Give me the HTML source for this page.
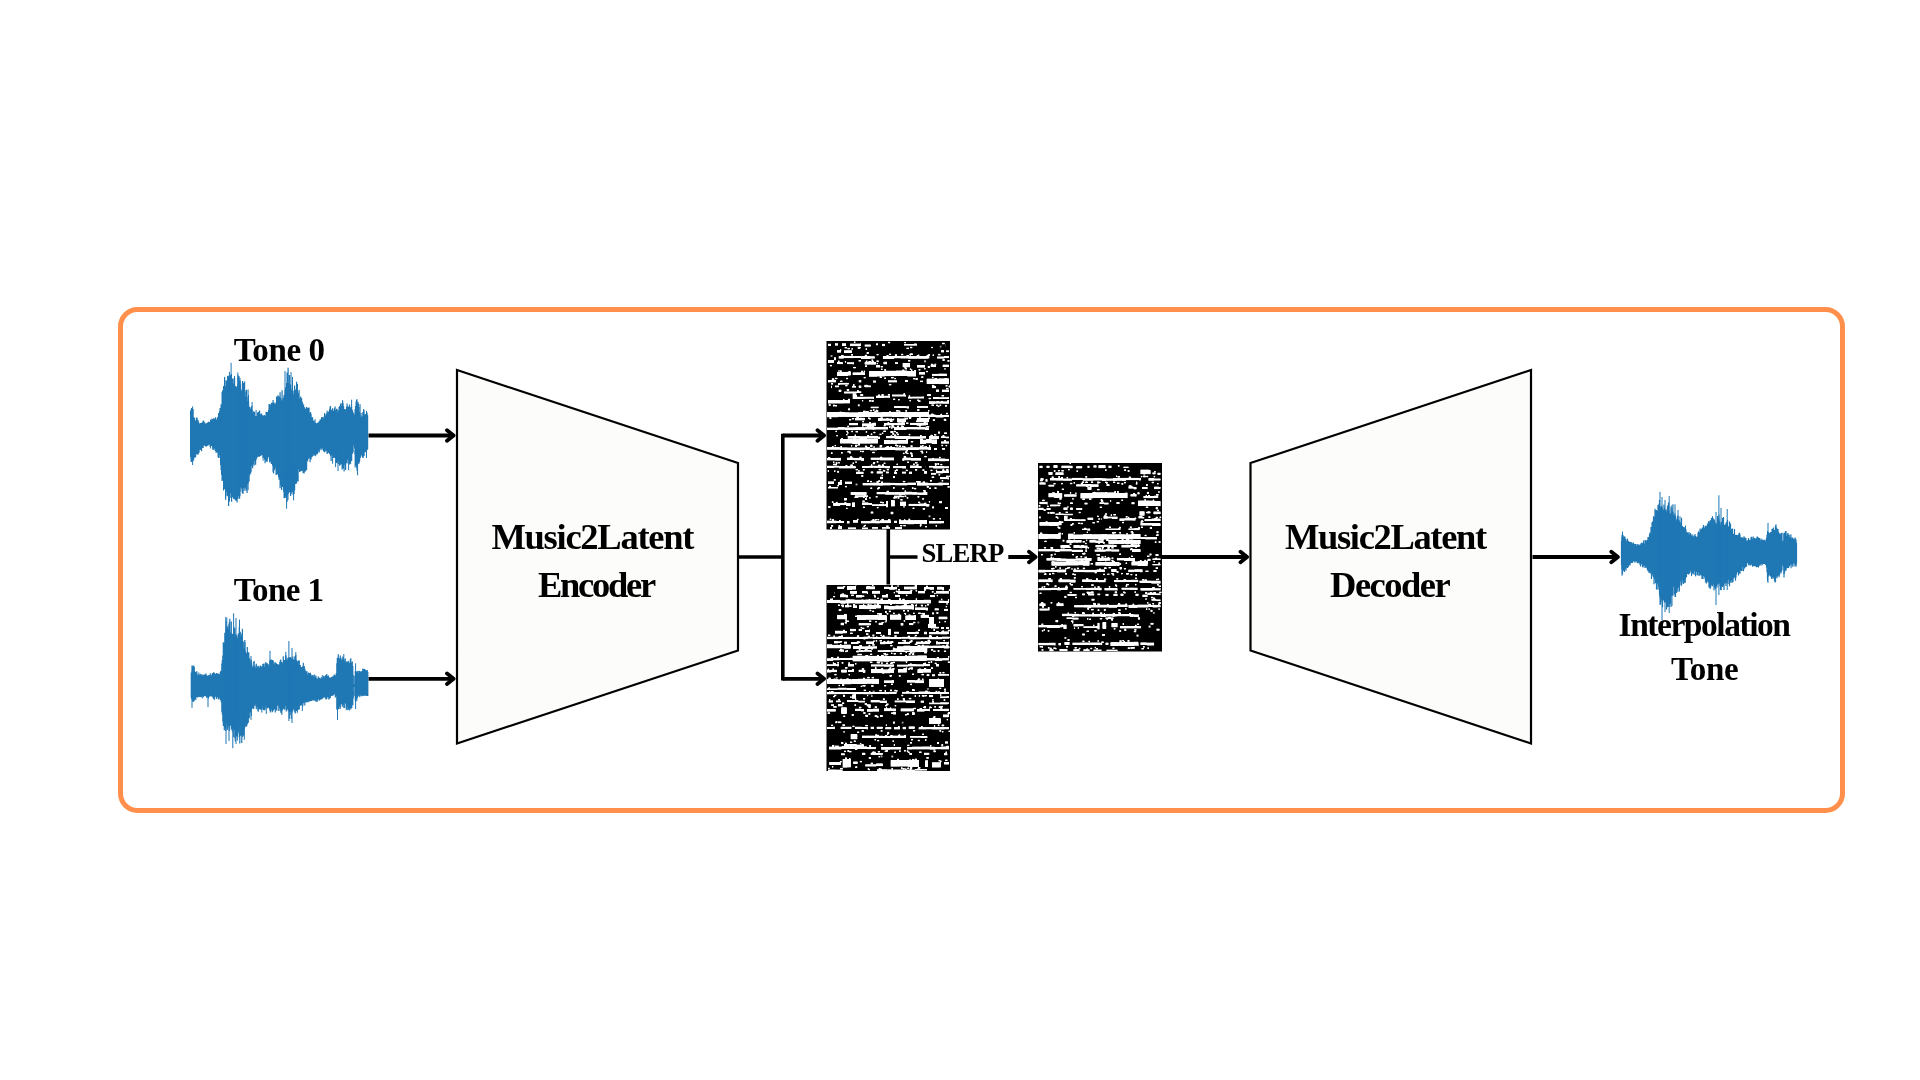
<!DOCTYPE html>
<html><head><meta charset="utf-8"><style>
html,body{margin:0;padding:0;background:#fff;width:1920px;height:1080px;overflow:hidden}
svg{position:absolute;left:0;top:0}
text{font-family:"Liberation Serif",serif;font-weight:bold;fill:#000}
</style></head><body>
<svg width="1920" height="1080" viewBox="0 0 1920 1080">
<rect x="120.5" y="309.5" width="1722" height="501" rx="17" ry="17" fill="none" stroke="#FF8F4B" stroke-width="5"/>
<polygon points="457,370 738,463 738,650.5 457,743.5" fill="#FCFCFA" stroke="#000" stroke-width="2.2" stroke-linejoin="miter"/>
<polygon points="1250.5,463 1531,370 1531,743.5 1250.5,650.5" fill="#FCFCFA" stroke="#000" stroke-width="2.2" stroke-linejoin="miter"/>
<defs><filter id="blur" filterUnits="userSpaceOnUse" x="800" y="320" width="400" height="480"><feGaussianBlur stdDeviation="0.75"/><feComponentTransfer><feFuncA type="linear" slope="1.45" intercept="-0.05"/></feComponentTransfer></filter></defs><rect x="826.5" y="341" width="123.5" height="188.5" fill="#000"/><g clip-path="url(#c1)"><g fill="#fff" filter="url(#blur)"><rect x="828.0" y="343.8" width="3.0" height="2.0"/><rect x="835.0" y="343.4" width="3.0" height="2.1"/><rect x="842.0" y="343.4" width="4.0" height="2.4"/><rect x="844.7" y="347.0" width="2.2" height="1.4"/><rect x="850.0" y="343.7" width="10.0" height="2.4"/><rect x="860.0" y="343.5" width="1.0" height="2.4"/><rect x="853.9" y="341.5" width="1.5" height="1.4"/><rect x="858.8" y="347.0" width="1.8" height="1.4"/><rect x="864.7" y="344.6" width="6.0" height="1.9"/><rect x="865.6" y="348.4" width="1.5" height="1.4"/><rect x="876.0" y="343.5" width="2.0" height="1.7"/><rect x="882.0" y="343.9" width="3.0" height="2.2"/><rect x="888.1" y="341.8" width="2.1" height="1.4"/><rect x="904.0" y="344.1" width="11.6" height="1.4"/><rect x="915.6" y="343.7" width="1.4" height="1.9"/><rect x="910.1" y="346.8" width="2.2" height="1.4"/><rect x="906.5" y="347.7" width="2.4" height="1.4"/><rect x="904.4" y="341.9" width="1.4" height="1.4"/><rect x="945.8" y="343.9" width="0.2" height="2.7"/><rect x="942.1" y="342.8" width="2.5" height="1.4"/><rect x="837.0" y="350.3" width="4.0" height="2.2"/><rect x="840.0" y="349.4" width="1.3" height="1.4"/><rect x="844.0" y="350.4" width="7.6" height="2.6"/><rect x="851.6" y="350.3" width="0.4" height="2.7"/><rect x="851.4" y="348.2" width="1.4" height="1.4"/><rect x="847.5" y="347.9" width="2.4" height="1.4"/><rect x="932.6" y="354.5" width="1.4" height="1.4"/><rect x="931.4" y="346.8" width="1.3" height="1.4"/><rect x="941.0" y="350.3" width="3.0" height="2.0"/><rect x="946.0" y="350.5" width="3.0" height="1.6"/><rect x="838.7" y="356.3" width="5.0" height="2.2"/><rect x="843.7" y="355.9" width="9.8" height="2.2"/><rect x="853.5" y="356.0" width="7.6" height="2.0"/><rect x="861.1" y="356.3" width="9.1" height="2.6"/><rect x="870.1" y="356.4" width="4.6" height="2.1"/><rect x="882.9" y="356.2" width="11.2" height="2.6"/><rect x="894.1" y="356.1" width="6.4" height="2.1"/><rect x="900.5" y="355.9" width="7.5" height="2.5"/><rect x="908.1" y="356.3" width="9.4" height="2.3"/><rect x="917.5" y="356.3" width="10.6" height="2.3"/><rect x="928.1" y="356.2" width="1.2" height="2.2"/><rect x="927.4" y="354.7" width="1.9" height="1.4"/><rect x="841.3" y="355.0" width="2.2" height="1.4"/><rect x="909.7" y="353.5" width="2.2" height="1.4"/><rect x="865.8" y="360.6" width="1.6" height="1.4"/><rect x="906.6" y="355.0" width="2.3" height="1.4"/><rect x="901.3" y="353.8" width="1.9" height="1.4"/><rect x="909.6" y="354.2" width="1.3" height="1.4"/><rect x="889.0" y="353.7" width="2.1" height="1.4"/><rect x="911.5" y="353.5" width="1.3" height="1.4"/><rect x="918.0" y="354.6" width="1.3" height="1.4"/><rect x="894.8" y="354.4" width="2.3" height="1.4"/><rect x="851.2" y="354.1" width="1.7" height="1.4"/><rect x="886.6" y="355.0" width="1.9" height="1.4"/><rect x="916.8" y="355.0" width="1.2" height="1.4"/><rect x="844.8" y="361.2" width="1.3" height="1.4"/><rect x="928.5" y="354.2" width="1.4" height="1.4"/><rect x="876.6" y="353.9" width="1.9" height="1.4"/><rect x="864.8" y="354.8" width="2.3" height="1.4"/><rect x="908.1" y="360.1" width="2.2" height="1.4"/><rect x="926.6" y="355.1" width="1.4" height="1.4"/><rect x="871.5" y="359.4" width="1.3" height="1.4"/><rect x="858.6" y="360.1" width="2.2" height="1.4"/><rect x="834.0" y="357.4" width="2.0" height="2.8"/><rect x="937.0" y="356.6" width="7.3" height="1.9"/><rect x="944.3" y="356.0" width="4.7" height="2.1"/><rect x="938.0" y="353.9" width="2.4" height="1.4"/><rect x="942.4" y="359.3" width="2.4" height="1.4"/><rect x="947.4" y="360.2" width="2.1" height="1.4"/><rect x="828.0" y="360.1" width="6.0" height="2.6"/><rect x="829.9" y="364.9" width="1.9" height="1.4"/><rect x="837.0" y="362.1" width="5.7" height="2.0"/><rect x="837.9" y="360.6" width="1.6" height="1.4"/><rect x="847.0" y="362.4" width="5.5" height="1.7"/><rect x="852.5" y="362.3" width="1.5" height="2.0"/><rect x="853.3" y="366.9" width="2.4" height="1.4"/><rect x="864.7" y="362.2" width="11.2" height="2.3"/><rect x="883.5" y="361.8" width="3.5" height="2.4"/><rect x="880.7" y="366.0" width="2.1" height="1.4"/><rect x="868.3" y="361.3" width="2.0" height="1.4"/><rect x="876.5" y="360.5" width="2.2" height="1.4"/><rect x="865.1" y="365.4" width="2.0" height="1.4"/><rect x="869.7" y="361.0" width="1.7" height="1.4"/><rect x="876.0" y="365.1" width="4.0" height="2.3"/><rect x="876.7" y="362.8" width="1.2" height="1.4"/><rect x="895.0" y="362.4" width="3.0" height="1.6"/><rect x="902.7" y="363.1" width="7.3" height="4.1"/><rect x="905.3" y="368.1" width="1.5" height="1.4"/><rect x="917.0" y="365.2" width="8.0" height="2.3"/><rect x="924.3" y="368.0" width="1.2" height="1.4"/><rect x="918.6" y="369.1" width="1.8" height="1.4"/><rect x="930.7" y="364.6" width="5.3" height="2.2"/><rect x="931.0" y="363.8" width="2.1" height="1.4"/><rect x="942.7" y="364.7" width="6.3" height="2.3"/><rect x="944.4" y="368.2" width="1.2" height="1.4"/><rect x="837.0" y="371.9" width="11.3" height="3.9"/><rect x="848.3" y="371.3" width="2.4" height="4.1"/><rect x="838.4" y="370.2" width="1.2" height="1.4"/><rect x="840.1" y="370.4" width="1.6" height="1.4"/><rect x="846.3" y="377.8" width="1.6" height="1.4"/><rect x="852.7" y="372.5" width="7.4" height="2.5"/><rect x="860.1" y="372.4" width="4.9" height="2.6"/><rect x="863.7" y="370.7" width="1.4" height="1.4"/><rect x="863.7" y="376.9" width="1.9" height="1.4"/><rect x="861.1" y="370.8" width="1.9" height="1.4"/><rect x="869.0" y="371.0" width="8.3" height="5.6"/><rect x="877.3" y="371.2" width="7.5" height="5.2"/><rect x="884.8" y="370.8" width="11.2" height="5.3"/><rect x="896.0" y="370.6" width="11.3" height="5.4"/><rect x="907.3" y="371.1" width="8.7" height="5.3"/><rect x="914.2" y="370.1" width="1.9" height="1.4"/><rect x="884.2" y="369.3" width="1.9" height="1.4"/><rect x="884.3" y="377.5" width="1.7" height="1.4"/><rect x="910.9" y="369.5" width="1.5" height="1.4"/><rect x="880.9" y="368.6" width="1.6" height="1.4"/><rect x="909.8" y="368.5" width="1.4" height="1.4"/><rect x="913.3" y="378.0" width="1.9" height="1.4"/><rect x="902.3" y="369.6" width="2.0" height="1.4"/><rect x="879.7" y="376.5" width="2.1" height="1.4"/><rect x="891.3" y="377.0" width="2.3" height="1.4"/><rect x="915.4" y="378.3" width="2.5" height="1.4"/><rect x="919.0" y="372.2" width="5.4" height="2.3"/><rect x="924.4" y="371.8" width="0.6" height="2.8"/><rect x="921.2" y="376.4" width="2.2" height="1.4"/><rect x="926.0" y="370.9" width="2.0" height="1.3"/><rect x="932.0" y="373.9" width="6.6" height="1.8"/><rect x="938.6" y="373.7" width="8.1" height="2.3"/><rect x="932.2" y="376.8" width="1.3" height="1.4"/><rect x="944.7" y="378.2" width="2.4" height="1.4"/><rect x="935.2" y="378.6" width="1.5" height="1.4"/><rect x="828.0" y="380.1" width="8.0" height="2.2"/><rect x="831.8" y="378.4" width="2.5" height="1.4"/><rect x="835.2" y="377.8" width="2.2" height="1.4"/><rect x="838.7" y="382.9" width="10.0" height="1.6"/><rect x="840.3" y="380.6" width="2.1" height="1.4"/><rect x="845.4" y="384.9" width="2.0" height="1.4"/><rect x="858.7" y="380.3" width="2.6" height="2.0"/><rect x="873.0" y="380.6" width="3.0" height="1.9"/><rect x="888.0" y="380.4" width="9.0" height="1.9"/><rect x="894.4" y="377.9" width="1.3" height="1.4"/><rect x="888.9" y="383.9" width="2.4" height="1.4"/><rect x="905.0" y="380.2" width="3.0" height="1.6"/><rect x="920.0" y="380.7" width="3.0" height="1.4"/><rect x="926.7" y="378.7" width="11.9" height="5.1"/><rect x="938.6" y="378.5" width="10.4" height="5.6"/><rect x="934.5" y="378.4" width="2.4" height="1.4"/><rect x="932.0" y="384.9" width="2.2" height="1.4"/><rect x="948.8" y="386.0" width="2.4" height="1.4"/><rect x="948.7" y="385.6" width="1.4" height="1.4"/><rect x="945.6" y="385.1" width="1.9" height="1.4"/><rect x="831.3" y="385.7" width="0.7" height="2.4"/><rect x="831.1" y="383.1" width="2.0" height="1.4"/><rect x="835.0" y="385.6" width="4.0" height="1.6"/><rect x="838.0" y="383.4" width="1.8" height="1.4"/><rect x="852.0" y="385.9" width="4.0" height="1.6"/><rect x="853.0" y="384.3" width="1.6" height="1.4"/><rect x="858.7" y="385.6" width="2.6" height="2.1"/><rect x="864.7" y="385.5" width="6.0" height="1.7"/><rect x="866.0" y="384.8" width="1.5" height="1.4"/><rect x="932.0" y="386.2" width="4.0" height="1.9"/><rect x="932.7" y="385.1" width="1.5" height="1.4"/><rect x="838.7" y="389.7" width="2.6" height="2.2"/><rect x="928.3" y="394.7" width="2.1" height="1.4"/><rect x="936.0" y="389.6" width="3.0" height="2.1"/><rect x="942.0" y="389.7" width="7.0" height="2.1"/><rect x="946.0" y="387.9" width="2.5" height="1.4"/><rect x="844.0" y="391.6" width="12.8" height="1.8"/><rect x="856.8" y="391.4" width="4.5" height="1.5"/><rect x="846.7" y="389.1" width="2.1" height="1.4"/><rect x="857.0" y="390.2" width="1.7" height="1.4"/><rect x="847.0" y="389.1" width="2.2" height="1.4"/><rect x="860.2" y="394.3" width="2.1" height="1.4"/><rect x="852.7" y="393.6" width="3.3" height="5.3"/><rect x="856.0" y="396.8" width="8.9" height="2.2"/><rect x="864.9" y="396.8" width="8.3" height="1.8"/><rect x="873.2" y="396.7" width="0.8" height="2.3"/><rect x="871.7" y="400.3" width="2.1" height="1.4"/><rect x="861.5" y="394.3" width="1.7" height="1.4"/><rect x="869.1" y="400.2" width="2.3" height="1.4"/><rect x="861.9" y="400.0" width="1.3" height="1.4"/><rect x="876.0" y="395.7" width="8.1" height="2.3"/><rect x="884.1" y="395.8" width="5.9" height="1.8"/><rect x="878.2" y="394.5" width="1.7" height="1.4"/><rect x="887.9" y="394.1" width="2.0" height="1.4"/><rect x="881.5" y="394.2" width="2.2" height="1.4"/><rect x="892.0" y="394.6" width="12.2" height="1.8"/><rect x="904.2" y="394.8" width="1.8" height="1.7"/><rect x="898.1" y="399.0" width="1.5" height="1.4"/><rect x="903.4" y="393.3" width="1.7" height="1.4"/><rect x="893.1" y="398.6" width="2.1" height="1.4"/><rect x="908.0" y="396.8" width="4.3" height="1.7"/><rect x="912.3" y="396.7" width="8.8" height="1.7"/><rect x="921.1" y="396.6" width="2.9" height="1.8"/><rect x="917.3" y="399.5" width="1.4" height="1.4"/><rect x="908.7" y="395.4" width="1.5" height="1.4"/><rect x="918.2" y="400.4" width="2.3" height="1.4"/><rect x="909.5" y="400.0" width="1.3" height="1.4"/><rect x="927.0" y="394.4" width="4.0" height="1.6"/><rect x="928.6" y="397.8" width="2.2" height="1.4"/><rect x="933.0" y="397.2" width="6.1" height="1.6"/><rect x="939.1" y="397.4" width="8.0" height="1.6"/><rect x="947.1" y="397.3" width="1.9" height="1.6"/><rect x="947.1" y="400.3" width="1.9" height="1.4"/><rect x="941.6" y="395.0" width="2.5" height="1.4"/><rect x="936.7" y="401.1" width="1.9" height="1.4"/><rect x="941.2" y="400.9" width="1.6" height="1.4"/><rect x="828.0" y="400.0" width="9.8" height="3.4"/><rect x="837.8" y="400.3" width="5.9" height="3.1"/><rect x="843.7" y="400.2" width="6.3" height="3.1"/><rect x="833.0" y="404.7" width="1.8" height="1.4"/><rect x="828.7" y="404.3" width="2.0" height="1.4"/><rect x="832.9" y="405.0" width="1.7" height="1.4"/><rect x="835.0" y="405.0" width="2.0" height="1.4"/><rect x="843.1" y="399.0" width="1.3" height="1.4"/><rect x="929.0" y="401.4" width="6.3" height="2.3"/><rect x="935.3" y="401.5" width="6.8" height="2.0"/><rect x="942.1" y="401.5" width="6.9" height="2.1"/><rect x="936.1" y="404.7" width="2.1" height="1.4"/><rect x="937.7" y="405.7" width="1.7" height="1.4"/><rect x="931.5" y="404.5" width="2.3" height="1.4"/><rect x="945.0" y="405.2" width="1.9" height="1.4"/><rect x="939.6" y="404.6" width="1.6" height="1.4"/><rect x="870.7" y="406.7" width="7.7" height="1.5"/><rect x="878.4" y="406.6" width="0.3" height="1.3"/><rect x="875.7" y="409.7" width="1.6" height="1.4"/><rect x="872.9" y="409.3" width="1.7" height="1.4"/><rect x="894.0" y="406.3" width="12.5" height="1.6"/><rect x="906.5" y="406.4" width="2.5" height="2.0"/><rect x="905.3" y="410.2" width="1.8" height="1.4"/><rect x="896.2" y="410.1" width="2.5" height="1.4"/><rect x="898.8" y="410.6" width="1.5" height="1.4"/><rect x="917.0" y="406.3" width="11.0" height="1.4"/><rect x="928.0" y="410.1" width="1.4" height="1.4"/><rect x="917.1" y="409.3" width="2.4" height="1.4"/><rect x="827.0" y="412.1" width="11.2" height="5.1"/><rect x="838.2" y="412.1" width="6.7" height="4.6"/><rect x="844.9" y="412.4" width="4.4" height="4.3"/><rect x="849.3" y="412.5" width="8.9" height="4.4"/><rect x="858.3" y="412.1" width="5.9" height="5.0"/><rect x="864.1" y="412.2" width="10.8" height="4.8"/><rect x="874.9" y="412.4" width="7.1" height="4.6"/><rect x="882.0" y="412.2" width="9.9" height="4.4"/><rect x="891.8" y="411.9" width="7.2" height="4.9"/><rect x="899.0" y="412.1" width="5.1" height="4.7"/><rect x="904.1" y="412.3" width="6.1" height="5.0"/><rect x="910.2" y="412.0" width="4.3" height="4.8"/><rect x="914.5" y="411.9" width="4.7" height="5.1"/><rect x="919.2" y="412.0" width="4.2" height="5.0"/><rect x="923.4" y="411.9" width="5.6" height="4.9"/><rect x="869.8" y="409.9" width="2.3" height="1.4"/><rect x="863.2" y="410.7" width="2.4" height="1.4"/><rect x="849.1" y="419.0" width="2.1" height="1.4"/><rect x="897.0" y="418.6" width="1.9" height="1.4"/><rect x="886.4" y="418.4" width="2.1" height="1.4"/><rect x="876.5" y="410.4" width="1.8" height="1.4"/><rect x="909.0" y="417.4" width="2.2" height="1.4"/><rect x="856.1" y="417.4" width="1.4" height="1.4"/><rect x="860.0" y="417.9" width="1.5" height="1.4"/><rect x="905.5" y="418.0" width="2.3" height="1.4"/><rect x="851.9" y="418.0" width="2.3" height="1.4"/><rect x="892.9" y="418.6" width="1.3" height="1.4"/><rect x="903.6" y="418.7" width="2.3" height="1.4"/><rect x="839.5" y="411.7" width="2.2" height="1.4"/><rect x="925.8" y="418.1" width="2.3" height="1.4"/><rect x="829.4" y="417.4" width="2.0" height="1.4"/><rect x="880.8" y="417.7" width="1.8" height="1.4"/><rect x="927.9" y="417.9" width="1.7" height="1.4"/><rect x="889.0" y="411.4" width="2.1" height="1.4"/><rect x="869.2" y="418.1" width="1.5" height="1.4"/><rect x="874.5" y="411.0" width="1.9" height="1.4"/><rect x="891.9" y="419.0" width="1.9" height="1.4"/><rect x="866.0" y="411.4" width="1.3" height="1.4"/><rect x="919.7" y="417.8" width="1.4" height="1.4"/><rect x="866.3" y="411.0" width="2.3" height="1.4"/><rect x="929.0" y="414.6" width="6.6" height="2.4"/><rect x="935.6" y="415.0" width="7.9" height="2.4"/><rect x="943.5" y="414.9" width="5.5" height="1.9"/><rect x="940.5" y="413.8" width="1.6" height="1.4"/><rect x="932.8" y="419.4" width="2.2" height="1.4"/><rect x="931.3" y="413.6" width="2.1" height="1.4"/><rect x="946.2" y="412.8" width="1.5" height="1.4"/><rect x="944.6" y="419.4" width="1.7" height="1.4"/><rect x="855.0" y="417.9" width="9.7" height="2.4"/><rect x="857.1" y="416.6" width="1.7" height="1.4"/><rect x="868.1" y="417.4" width="1.5" height="1.4"/><rect x="869.1" y="422.0" width="1.7" height="1.4"/><rect x="878.0" y="418.3" width="4.0" height="2.5"/><rect x="882.0" y="418.6" width="9.5" height="2.0"/><rect x="891.5" y="418.1" width="0.5" height="2.3"/><rect x="881.3" y="415.8" width="1.6" height="1.4"/><rect x="880.3" y="416.0" width="2.3" height="1.4"/><rect x="887.5" y="422.3" width="1.8" height="1.4"/><rect x="897.0" y="418.6" width="9.0" height="3.5"/><rect x="916.9" y="418.0" width="5.7" height="3.7"/><rect x="922.6" y="418.1" width="6.4" height="3.9"/><rect x="928.3" y="417.4" width="1.4" height="1.4"/><rect x="906.2" y="422.5" width="2.2" height="1.4"/><rect x="923.7" y="422.4" width="1.6" height="1.4"/><rect x="919.0" y="416.2" width="1.8" height="1.4"/><rect x="917.4" y="424.0" width="1.4" height="1.4"/><rect x="919.8" y="423.8" width="2.4" height="1.4"/><rect x="910.4" y="423.2" width="1.7" height="1.4"/><rect x="909.6" y="416.1" width="2.0" height="1.4"/><rect x="849.0" y="423.2" width="9.0" height="2.0"/><rect x="852.6" y="427.8" width="2.2" height="1.4"/><rect x="854.6" y="428.1" width="2.5" height="1.4"/><rect x="862.0" y="423.5" width="10.4" height="2.6"/><rect x="872.4" y="422.8" width="3.6" height="2.8"/><rect x="865.3" y="426.8" width="2.0" height="1.4"/><rect x="862.4" y="420.9" width="1.6" height="1.4"/><rect x="872.4" y="427.9" width="1.8" height="1.4"/><rect x="884.0" y="423.1" width="9.6" height="2.2"/><rect x="893.6" y="423.1" width="4.1" height="2.0"/><rect x="897.7" y="422.5" width="7.3" height="2.7"/><rect x="889.0" y="426.3" width="1.6" height="1.4"/><rect x="891.1" y="427.3" width="1.4" height="1.4"/><rect x="892.3" y="426.2" width="2.1" height="1.4"/><rect x="902.0" y="421.0" width="1.5" height="1.4"/><rect x="890.0" y="420.5" width="2.5" height="1.4"/><rect x="910.0" y="422.9" width="6.5" height="2.0"/><rect x="916.5" y="422.8" width="9.4" height="2.6"/><rect x="925.9" y="422.5" width="2.1" height="2.6"/><rect x="915.1" y="427.3" width="1.9" height="1.4"/><rect x="913.9" y="427.7" width="1.7" height="1.4"/><rect x="923.9" y="421.1" width="2.1" height="1.4"/><rect x="916.1" y="420.5" width="1.8" height="1.4"/><rect x="827.0" y="427.7" width="10.7" height="2.3"/><rect x="837.7" y="427.3" width="7.1" height="2.3"/><rect x="844.8" y="427.5" width="10.3" height="2.6"/><rect x="855.1" y="427.3" width="9.8" height="2.8"/><rect x="865.0" y="426.9" width="11.1" height="2.6"/><rect x="876.1" y="427.0" width="11.8" height="2.4"/><rect x="894.1" y="427.3" width="12.4" height="2.6"/><rect x="906.5" y="427.1" width="10.0" height="2.2"/><rect x="916.5" y="427.3" width="8.6" height="2.1"/><rect x="925.1" y="427.7" width="3.9" height="2.1"/><rect x="867.2" y="426.0" width="1.8" height="1.4"/><rect x="883.4" y="430.6" width="2.4" height="1.4"/><rect x="881.9" y="432.5" width="1.4" height="1.4"/><rect x="901.2" y="425.5" width="1.5" height="1.4"/><rect x="865.7" y="431.2" width="1.5" height="1.4"/><rect x="869.4" y="425.6" width="2.1" height="1.4"/><rect x="847.2" y="432.2" width="1.3" height="1.4"/><rect x="891.4" y="425.4" width="2.5" height="1.4"/><rect x="846.4" y="430.8" width="1.4" height="1.4"/><rect x="893.7" y="430.8" width="2.0" height="1.4"/><rect x="895.9" y="432.1" width="1.8" height="1.4"/><rect x="925.6" y="426.5" width="1.3" height="1.4"/><rect x="890.3" y="431.3" width="2.4" height="1.4"/><rect x="862.1" y="426.4" width="1.4" height="1.4"/><rect x="883.7" y="425.0" width="1.8" height="1.4"/><rect x="851.4" y="430.8" width="1.5" height="1.4"/><rect x="847.4" y="425.7" width="1.4" height="1.4"/><rect x="892.1" y="431.4" width="1.2" height="1.4"/><rect x="926.9" y="426.0" width="2.3" height="1.4"/><rect x="873.4" y="431.8" width="2.0" height="1.4"/><rect x="901.7" y="426.2" width="2.2" height="1.4"/><rect x="871.9" y="425.6" width="2.2" height="1.4"/><rect x="896.9" y="425.7" width="2.0" height="1.4"/><rect x="835.5" y="430.7" width="1.5" height="1.4"/><rect x="855.6" y="431.0" width="2.4" height="1.4"/><rect x="938.0" y="431.6" width="2.0" height="1.9"/><rect x="944.0" y="432.5" width="3.0" height="1.4"/><rect x="847.7" y="436.2" width="12.1" height="2.4"/><rect x="859.7" y="436.4" width="7.6" height="2.6"/><rect x="867.3" y="435.9" width="6.1" height="2.6"/><rect x="873.4" y="435.9" width="4.4" height="2.7"/><rect x="877.8" y="436.7" width="2.2" height="2.1"/><rect x="867.0" y="435.0" width="1.8" height="1.4"/><rect x="862.5" y="439.9" width="2.0" height="1.4"/><rect x="870.7" y="433.5" width="1.6" height="1.4"/><rect x="846.6" y="439.9" width="1.2" height="1.4"/><rect x="846.2" y="434.0" width="1.3" height="1.4"/><rect x="864.1" y="440.0" width="1.8" height="1.4"/><rect x="854.6" y="434.6" width="1.4" height="1.4"/><rect x="860.4" y="439.5" width="1.3" height="1.4"/><rect x="861.4" y="440.1" width="1.5" height="1.4"/><rect x="879.5" y="433.7" width="2.0" height="1.4"/><rect x="836.4" y="435.0" width="1.3" height="1.4"/><rect x="886.0" y="436.2" width="8.8" height="2.0"/><rect x="894.8" y="435.9" width="4.3" height="2.8"/><rect x="899.1" y="436.2" width="11.0" height="2.7"/><rect x="910.1" y="436.5" width="10.4" height="2.2"/><rect x="920.5" y="436.3" width="5.5" height="2.1"/><rect x="920.1" y="435.2" width="1.6" height="1.4"/><rect x="897.2" y="433.7" width="1.8" height="1.4"/><rect x="922.8" y="441.4" width="2.4" height="1.4"/><rect x="908.7" y="433.9" width="1.6" height="1.4"/><rect x="890.6" y="435.4" width="1.8" height="1.4"/><rect x="910.8" y="441.0" width="2.4" height="1.4"/><rect x="894.2" y="434.5" width="2.0" height="1.4"/><rect x="904.5" y="441.2" width="1.6" height="1.4"/><rect x="886.3" y="440.8" width="2.1" height="1.4"/><rect x="891.0" y="439.9" width="2.0" height="1.4"/><rect x="929.0" y="436.3" width="10.0" height="2.5"/><rect x="930.5" y="434.8" width="2.2" height="1.4"/><rect x="934.2" y="434.1" width="2.1" height="1.4"/><rect x="840.0" y="439.0" width="12.1" height="4.4"/><rect x="852.1" y="439.2" width="7.4" height="4.5"/><rect x="859.5" y="439.1" width="11.2" height="4.4"/><rect x="870.7" y="439.0" width="7.3" height="4.4"/><rect x="863.4" y="438.6" width="1.8" height="1.4"/><rect x="870.4" y="444.8" width="1.7" height="1.4"/><rect x="841.2" y="438.1" width="1.7" height="1.4"/><rect x="864.9" y="445.7" width="2.3" height="1.4"/><rect x="853.0" y="438.2" width="2.3" height="1.4"/><rect x="870.2" y="445.3" width="2.3" height="1.4"/><rect x="859.4" y="438.7" width="2.1" height="1.4"/><rect x="851.0" y="445.1" width="1.2" height="1.4"/><rect x="855.1" y="445.3" width="1.9" height="1.4"/><rect x="884.0" y="440.2" width="6.3" height="3.8"/><rect x="890.3" y="440.4" width="7.4" height="3.3"/><rect x="897.7" y="440.0" width="10.3" height="3.6"/><rect x="886.5" y="446.0" width="2.5" height="1.4"/><rect x="903.8" y="446.1" width="1.6" height="1.4"/><rect x="895.2" y="444.6" width="1.8" height="1.4"/><rect x="906.3" y="438.7" width="1.9" height="1.4"/><rect x="899.2" y="445.5" width="1.8" height="1.4"/><rect x="896.3" y="445.1" width="2.1" height="1.4"/><rect x="920.0" y="439.8" width="6.0" height="3.9"/><rect x="926.0" y="439.2" width="5.8" height="4.0"/><rect x="931.8" y="439.5" width="5.2" height="4.4"/><rect x="920.3" y="438.6" width="2.4" height="1.4"/><rect x="925.5" y="445.9" width="1.3" height="1.4"/><rect x="936.5" y="437.7" width="2.0" height="1.4"/><rect x="920.0" y="445.6" width="1.7" height="1.4"/><rect x="941.0" y="436.4" width="4.7" height="1.5"/><rect x="945.7" y="436.7" width="3.3" height="1.5"/><rect x="944.2" y="440.1" width="1.9" height="1.4"/><rect x="942.6" y="435.0" width="1.7" height="1.4"/><rect x="941.0" y="441.5" width="8.0" height="2.0"/><rect x="945.6" y="444.9" width="1.5" height="1.4"/><rect x="941.5" y="444.8" width="1.6" height="1.4"/><rect x="827.0" y="447.3" width="12.9" height="2.3"/><rect x="839.9" y="447.5" width="7.9" height="2.4"/><rect x="847.8" y="447.6" width="12.2" height="2.6"/><rect x="860.0" y="447.6" width="5.6" height="2.1"/><rect x="865.5" y="447.0" width="4.2" height="2.7"/><rect x="869.8" y="447.8" width="7.3" height="2.5"/><rect x="877.1" y="447.7" width="7.6" height="2.3"/><rect x="884.7" y="447.2" width="10.5" height="2.6"/><rect x="895.2" y="447.5" width="12.2" height="2.8"/><rect x="907.4" y="447.4" width="11.2" height="2.6"/><rect x="918.6" y="447.3" width="9.7" height="2.2"/><rect x="928.3" y="447.2" width="2.7" height="2.7"/><rect x="840.4" y="446.1" width="1.5" height="1.4"/><rect x="831.9" y="446.1" width="1.7" height="1.4"/><rect x="861.6" y="450.8" width="2.3" height="1.4"/><rect x="841.0" y="452.1" width="1.7" height="1.4"/><rect x="879.7" y="446.0" width="1.9" height="1.4"/><rect x="860.0" y="450.7" width="1.2" height="1.4"/><rect x="879.7" y="445.1" width="2.5" height="1.4"/><rect x="910.5" y="445.4" width="2.1" height="1.4"/><rect x="902.9" y="452.7" width="1.6" height="1.4"/><rect x="873.4" y="446.3" width="1.3" height="1.4"/><rect x="920.5" y="450.7" width="2.4" height="1.4"/><rect x="922.1" y="445.2" width="1.6" height="1.4"/><rect x="855.2" y="444.7" width="2.4" height="1.4"/><rect x="906.5" y="452.7" width="1.9" height="1.4"/><rect x="928.9" y="445.3" width="1.3" height="1.4"/><rect x="910.0" y="452.5" width="2.0" height="1.4"/><rect x="830.9" y="452.4" width="1.7" height="1.4"/><rect x="847.4" y="451.1" width="2.3" height="1.4"/><rect x="834.6" y="444.9" width="1.2" height="1.4"/><rect x="902.2" y="445.7" width="1.4" height="1.4"/><rect x="920.6" y="446.4" width="1.8" height="1.4"/><rect x="890.3" y="446.3" width="1.6" height="1.4"/><rect x="924.2" y="446.4" width="1.2" height="1.4"/><rect x="921.5" y="452.1" width="1.8" height="1.4"/><rect x="926.0" y="451.5" width="1.2" height="1.4"/><rect x="872.3" y="451.8" width="2.4" height="1.4"/><rect x="934.0" y="448.1" width="3.0" height="1.8"/><rect x="942.0" y="448.2" width="3.0" height="1.4"/><rect x="827.0" y="458.2" width="8.1" height="2.1"/><rect x="835.1" y="457.9" width="5.9" height="2.6"/><rect x="835.7" y="462.3" width="1.8" height="1.4"/><rect x="838.3" y="462.1" width="1.4" height="1.4"/><rect x="833.0" y="461.5" width="1.4" height="1.4"/><rect x="847.0" y="457.7" width="6.7" height="2.3"/><rect x="853.7" y="457.9" width="7.4" height="2.3"/><rect x="861.1" y="458.0" width="2.9" height="2.7"/><rect x="855.3" y="461.4" width="1.4" height="1.4"/><rect x="859.5" y="456.7" width="2.0" height="1.4"/><rect x="852.5" y="462.5" width="1.6" height="1.4"/><rect x="849.9" y="456.4" width="2.4" height="1.4"/><rect x="870.7" y="457.7" width="9.0" height="2.0"/><rect x="879.7" y="457.6" width="7.0" height="2.7"/><rect x="886.7" y="457.6" width="7.3" height="2.7"/><rect x="872.8" y="462.8" width="2.2" height="1.4"/><rect x="873.0" y="462.2" width="2.2" height="1.4"/><rect x="880.3" y="456.7" width="1.9" height="1.4"/><rect x="883.7" y="462.6" width="1.7" height="1.4"/><rect x="876.7" y="461.2" width="1.7" height="1.4"/><rect x="902.7" y="457.7" width="8.2" height="2.5"/><rect x="910.9" y="458.1" width="10.1" height="2.4"/><rect x="907.3" y="461.5" width="1.5" height="1.4"/><rect x="915.2" y="462.1" width="2.3" height="1.4"/><rect x="904.4" y="456.5" width="1.8" height="1.4"/><rect x="903.8" y="455.9" width="1.7" height="1.4"/><rect x="924.4" y="455.9" width="2.2" height="1.4"/><rect x="911.0" y="455.3" width="2.0" height="1.4"/><rect x="928.0" y="458.5" width="12.2" height="2.6"/><rect x="940.2" y="458.6" width="5.1" height="2.6"/><rect x="945.4" y="458.9" width="3.6" height="2.2"/><rect x="939.2" y="456.8" width="1.4" height="1.4"/><rect x="940.4" y="463.9" width="1.9" height="1.4"/><rect x="932.3" y="457.9" width="1.5" height="1.4"/><rect x="934.7" y="463.3" width="2.1" height="1.4"/><rect x="937.3" y="463.3" width="1.9" height="1.4"/><rect x="827.0" y="465.8" width="6.7" height="2.2"/><rect x="833.7" y="465.8" width="5.2" height="1.7"/><rect x="838.9" y="466.1" width="10.0" height="2.2"/><rect x="848.9" y="465.9" width="6.3" height="2.4"/><rect x="855.2" y="466.5" width="0.8" height="1.6"/><rect x="845.5" y="465.1" width="1.9" height="1.4"/><rect x="833.2" y="463.7" width="1.8" height="1.4"/><rect x="834.8" y="463.9" width="2.0" height="1.4"/><rect x="850.4" y="464.5" width="2.4" height="1.4"/><rect x="827.7" y="470.3" width="1.3" height="1.4"/><rect x="855.6" y="468.9" width="2.2" height="1.4"/><rect x="834.1" y="470.4" width="1.4" height="1.4"/><rect x="862.0" y="466.1" width="6.9" height="1.7"/><rect x="868.9" y="465.8" width="4.8" height="1.9"/><rect x="873.7" y="465.8" width="11.0" height="1.9"/><rect x="884.7" y="466.0" width="5.3" height="2.2"/><rect x="882.9" y="469.8" width="1.2" height="1.4"/><rect x="883.5" y="470.2" width="1.8" height="1.4"/><rect x="886.8" y="468.9" width="2.2" height="1.4"/><rect x="878.7" y="468.9" width="2.5" height="1.4"/><rect x="862.8" y="469.1" width="1.9" height="1.4"/><rect x="878.0" y="464.7" width="2.4" height="1.4"/><rect x="871.0" y="464.4" width="1.3" height="1.4"/><rect x="893.0" y="466.3" width="9.1" height="1.8"/><rect x="902.1" y="466.2" width="3.9" height="2.2"/><rect x="895.9" y="469.4" width="1.9" height="1.4"/><rect x="896.5" y="463.7" width="1.5" height="1.4"/><rect x="894.6" y="470.3" width="1.5" height="1.4"/><rect x="910.0" y="465.6" width="7.0" height="2.2"/><rect x="917.0" y="466.1" width="4.5" height="2.0"/><rect x="925.8" y="465.9" width="0.2" height="1.6"/><rect x="922.4" y="469.4" width="2.1" height="1.4"/><rect x="913.2" y="463.5" width="1.5" height="1.4"/><rect x="916.5" y="464.3" width="2.1" height="1.4"/><rect x="915.1" y="469.2" width="2.1" height="1.4"/><rect x="929.0" y="465.9" width="4.2" height="1.6"/><rect x="933.2" y="466.0" width="10.7" height="2.4"/><rect x="943.9" y="466.4" width="5.1" height="1.8"/><rect x="930.5" y="469.7" width="1.9" height="1.4"/><rect x="942.8" y="469.4" width="1.4" height="1.4"/><rect x="935.8" y="469.7" width="1.4" height="1.4"/><rect x="935.0" y="464.4" width="1.4" height="1.4"/><rect x="942.3" y="469.5" width="1.9" height="1.4"/><rect x="856.0" y="471.8" width="7.5" height="2.1"/><rect x="861.2" y="475.3" width="2.1" height="1.4"/><rect x="858.2" y="470.2" width="1.4" height="1.4"/><rect x="870.7" y="471.5" width="2.6" height="1.8"/><rect x="876.7" y="471.4" width="6.0" height="2.1"/><rect x="881.6" y="474.6" width="1.4" height="1.4"/><rect x="886.0" y="471.6" width="2.7" height="1.7"/><rect x="894.0" y="472.0" width="3.0" height="1.7"/><rect x="902.0" y="471.7" width="4.0" height="1.8"/><rect x="905.8" y="469.7" width="1.9" height="1.4"/><rect x="909.0" y="471.7" width="3.0" height="2.0"/><rect x="924.0" y="471.2" width="3.0" height="2.4"/><rect x="931.0" y="472.9" width="5.0" height="1.7"/><rect x="931.7" y="476.5" width="2.5" height="1.4"/><rect x="936.0" y="471.0" width="7.1" height="2.3"/><rect x="943.1" y="470.7" width="5.9" height="2.2"/><rect x="946.0" y="475.7" width="1.9" height="1.4"/><rect x="946.2" y="469.2" width="2.3" height="1.4"/><rect x="938.6" y="474.1" width="1.6" height="1.4"/><rect x="940.0" y="477.3" width="7.5" height="1.8"/><rect x="947.5" y="477.4" width="1.5" height="2.0"/><rect x="941.7" y="480.1" width="1.5" height="1.4"/><rect x="948.4" y="475.7" width="2.3" height="1.4"/><rect x="880.0" y="476.8" width="3.0" height="2.3"/><rect x="828.0" y="481.5" width="6.0" height="2.4"/><rect x="833.7" y="479.2" width="2.0" height="1.4"/><rect x="838.0" y="481.9" width="4.0" height="2.8"/><rect x="839.9" y="480.2" width="2.1" height="1.4"/><rect x="845.0" y="481.7" width="7.0" height="2.3"/><rect x="845.1" y="485.9" width="1.8" height="1.4"/><rect x="862.7" y="483.0" width="9.7" height="2.3"/><rect x="872.4" y="482.7" width="6.7" height="2.7"/><rect x="879.0" y="483.0" width="4.1" height="2.5"/><rect x="883.1" y="482.8" width="7.4" height="2.5"/><rect x="890.5" y="482.9" width="4.7" height="2.2"/><rect x="895.2" y="483.1" width="12.2" height="2.2"/><rect x="907.5" y="482.7" width="8.5" height="2.2"/><rect x="870.4" y="487.5" width="1.8" height="1.4"/><rect x="881.2" y="481.5" width="1.8" height="1.4"/><rect x="893.0" y="487.2" width="1.7" height="1.4"/><rect x="902.3" y="487.9" width="1.9" height="1.4"/><rect x="914.1" y="487.9" width="2.1" height="1.4"/><rect x="869.9" y="480.9" width="2.1" height="1.4"/><rect x="877.1" y="488.0" width="1.7" height="1.4"/><rect x="916.0" y="481.0" width="2.1" height="1.4"/><rect x="876.5" y="481.2" width="2.1" height="1.4"/><rect x="902.8" y="480.9" width="2.5" height="1.4"/><rect x="877.7" y="487.2" width="2.2" height="1.4"/><rect x="867.1" y="480.4" width="1.9" height="1.4"/><rect x="911.9" y="487.4" width="1.7" height="1.4"/><rect x="917.0" y="482.7" width="11.3" height="2.8"/><rect x="928.3" y="483.2" width="10.3" height="2.1"/><rect x="938.5" y="482.6" width="4.3" height="2.8"/><rect x="942.9" y="482.8" width="6.1" height="2.1"/><rect x="930.0" y="480.1" width="1.9" height="1.4"/><rect x="929.2" y="487.6" width="1.8" height="1.4"/><rect x="926.7" y="486.2" width="2.2" height="1.4"/><rect x="947.5" y="486.2" width="2.2" height="1.4"/><rect x="917.8" y="481.4" width="2.5" height="1.4"/><rect x="918.7" y="481.1" width="1.8" height="1.4"/><rect x="922.7" y="481.5" width="2.4" height="1.4"/><rect x="934.4" y="487.4" width="2.2" height="1.4"/><rect x="828.0" y="487.1" width="10.0" height="1.3"/><rect x="828.9" y="485.8" width="2.0" height="1.4"/><rect x="837.4" y="485.0" width="1.4" height="1.4"/><rect x="850.7" y="492.1" width="5.1" height="2.7"/><rect x="855.8" y="492.3" width="10.8" height="2.4"/><rect x="876.7" y="492.0" width="8.4" height="2.2"/><rect x="885.1" y="492.3" width="9.2" height="2.3"/><rect x="894.3" y="492.3" width="6.0" height="2.3"/><rect x="900.2" y="492.3" width="5.1" height="2.4"/><rect x="905.3" y="491.8" width="6.8" height="2.7"/><rect x="912.1" y="492.3" width="5.4" height="2.3"/><rect x="917.6" y="492.6" width="5.7" height="2.1"/><rect x="923.3" y="492.1" width="4.0" height="2.8"/><rect x="893.3" y="497.2" width="2.0" height="1.4"/><rect x="924.2" y="490.6" width="1.4" height="1.4"/><rect x="856.1" y="496.2" width="2.2" height="1.4"/><rect x="886.6" y="490.8" width="2.4" height="1.4"/><rect x="894.9" y="496.9" width="2.1" height="1.4"/><rect x="869.2" y="497.2" width="1.4" height="1.4"/><rect x="863.0" y="496.5" width="1.5" height="1.4"/><rect x="904.5" y="495.5" width="1.8" height="1.4"/><rect x="923.2" y="490.1" width="2.2" height="1.4"/><rect x="901.5" y="495.8" width="2.3" height="1.4"/><rect x="897.5" y="497.2" width="1.9" height="1.4"/><rect x="875.7" y="496.1" width="1.9" height="1.4"/><rect x="917.5" y="496.1" width="1.8" height="1.4"/><rect x="854.5" y="496.6" width="2.2" height="1.4"/><rect x="865.8" y="495.6" width="2.3" height="1.4"/><rect x="906.7" y="497.2" width="1.6" height="1.4"/><rect x="863.7" y="495.4" width="2.3" height="1.4"/><rect x="866.4" y="495.6" width="1.4" height="1.4"/><rect x="904.6" y="490.5" width="1.4" height="1.4"/><rect x="855.0" y="495.4" width="11.0" height="1.8"/><rect x="866.0" y="496.1" width="1.0" height="1.5"/><rect x="860.0" y="493.5" width="1.8" height="1.4"/><rect x="865.0" y="498.5" width="1.9" height="1.4"/><rect x="865.1" y="498.6" width="2.0" height="1.4"/><rect x="894.0" y="495.7" width="8.0" height="1.4"/><rect x="899.3" y="494.1" width="1.4" height="1.4"/><rect x="900.4" y="499.1" width="2.1" height="1.4"/><rect x="844.0" y="498.0" width="2.7" height="2.4"/><rect x="833.2" y="503.1" width="6.9" height="2.7"/><rect x="840.1" y="502.9" width="5.9" height="2.2"/><rect x="846.0" y="503.3" width="4.4" height="2.5"/><rect x="850.4" y="503.0" width="0.3" height="2.5"/><rect x="846.2" y="507.7" width="1.3" height="1.4"/><rect x="835.8" y="501.9" width="1.8" height="1.4"/><rect x="831.8" y="501.4" width="1.7" height="1.4"/><rect x="844.4" y="502.3" width="2.0" height="1.4"/><rect x="828.1" y="506.3" width="2.4" height="1.4"/><rect x="852.0" y="502.5" width="3.0" height="4.5"/><rect x="862.0" y="502.5" width="6.4" height="2.3"/><rect x="868.4" y="503.0" width="3.6" height="1.8"/><rect x="862.4" y="500.5" width="2.3" height="1.4"/><rect x="862.9" y="506.6" width="1.9" height="1.4"/><rect x="872.0" y="504.4" width="6.3" height="1.6"/><rect x="878.3" y="504.3" width="6.2" height="1.8"/><rect x="884.5" y="504.3" width="1.5" height="1.7"/><rect x="882.2" y="502.0" width="1.7" height="1.4"/><rect x="880.1" y="501.7" width="2.4" height="1.4"/><rect x="876.8" y="506.9" width="1.7" height="1.4"/><rect x="886.0" y="501.2" width="2.0" height="6.0"/><rect x="891.0" y="500.2" width="3.7" height="6.1"/><rect x="900.0" y="501.7" width="6.0" height="4.0"/><rect x="903.4" y="506.1" width="1.2" height="1.4"/><rect x="908.7" y="503.9" width="10.3" height="2.1"/><rect x="919.0" y="503.6" width="7.1" height="2.5"/><rect x="926.0" y="504.1" width="3.3" height="2.4"/><rect x="928.8" y="501.1" width="1.3" height="1.4"/><rect x="922.7" y="508.2" width="2.4" height="1.4"/><rect x="918.1" y="501.7" width="2.1" height="1.4"/><rect x="912.6" y="507.6" width="1.8" height="1.4"/><rect x="924.4" y="502.7" width="1.9" height="1.4"/><rect x="939.0" y="501.3" width="3.0" height="1.9"/><rect x="945.0" y="507.1" width="3.0" height="1.6"/><rect x="870.7" y="511.6" width="2.6" height="1.9"/><rect x="890.7" y="511.8" width="2.6" height="2.4"/><rect x="827.0" y="520.7" width="9.5" height="2.5"/><rect x="836.5" y="521.0" width="7.5" height="2.0"/><rect x="831.0" y="525.2" width="2.2" height="1.4"/><rect x="838.5" y="525.3" width="1.5" height="1.4"/><rect x="839.0" y="520.0" width="1.6" height="1.4"/><rect x="829.7" y="518.6" width="1.6" height="1.4"/><rect x="847.0" y="521.2" width="2.5" height="2.2"/><rect x="853.0" y="520.0" width="5.0" height="2.6"/><rect x="856.9" y="518.8" width="1.6" height="1.4"/><rect x="861.0" y="521.3" width="9.6" height="2.0"/><rect x="870.6" y="520.5" width="5.2" height="2.7"/><rect x="875.7" y="521.3" width="4.1" height="2.0"/><rect x="879.8" y="520.4" width="10.9" height="2.7"/><rect x="864.5" y="524.8" width="1.5" height="1.4"/><rect x="872.4" y="519.2" width="1.9" height="1.4"/><rect x="874.8" y="519.0" width="2.4" height="1.4"/><rect x="886.3" y="525.5" width="2.2" height="1.4"/><rect x="888.0" y="519.2" width="2.4" height="1.4"/><rect x="877.5" y="519.0" width="1.7" height="1.4"/><rect x="881.5" y="518.9" width="2.3" height="1.4"/><rect x="894.0" y="520.8" width="3.0" height="1.9"/><rect x="899.0" y="520.4" width="8.2" height="3.4"/><rect x="907.2" y="520.3" width="6.7" height="3.9"/><rect x="914.0" y="520.3" width="9.8" height="3.4"/><rect x="923.7" y="520.0" width="3.3" height="4.1"/><rect x="919.9" y="524.3" width="1.8" height="1.4"/><rect x="908.5" y="518.7" width="1.7" height="1.4"/><rect x="900.3" y="525.0" width="2.0" height="1.4"/><rect x="903.9" y="519.4" width="1.5" height="1.4"/><rect x="919.8" y="525.2" width="1.3" height="1.4"/><rect x="925.3" y="526.0" width="1.6" height="1.4"/><rect x="899.2" y="519.4" width="1.7" height="1.4"/><rect x="929.0" y="521.1" width="7.6" height="2.3"/><rect x="936.6" y="521.2" width="5.0" height="2.2"/><rect x="941.6" y="521.0" width="2.4" height="2.2"/><rect x="932.8" y="518.1" width="2.3" height="1.4"/><rect x="939.5" y="518.1" width="1.3" height="1.4"/><rect x="935.6" y="525.2" width="1.4" height="1.4"/><rect x="830.0" y="527.2" width="2.0" height="2.0"/><rect x="838.0" y="526.9" width="4.0" height="2.0"/><rect x="840.0" y="526.0" width="1.8" height="1.4"/><rect x="848.0" y="527.5" width="8.0" height="1.6"/><rect x="855.0" y="529.7" width="1.5" height="1.4"/><rect x="849.4" y="530.7" width="1.3" height="1.4"/><rect x="862.0" y="527.6" width="6.0" height="1.3"/><rect x="863.5" y="525.6" width="1.2" height="1.4"/><rect x="872.0" y="527.3" width="6.0" height="1.3"/><rect x="872.4" y="530.7" width="1.7" height="1.4"/><rect x="882.0" y="527.3" width="8.0" height="1.3"/><rect x="888.3" y="531.3" width="1.6" height="1.4"/><rect x="888.5" y="530.0" width="2.5" height="1.4"/><rect x="895.0" y="527.3" width="7.0" height="1.5"/><rect x="900.5" y="530.5" width="2.0" height="1.4"/><rect x="903.4" y="524.9" width="2.3" height="1.4"/><rect x="872.1" y="360.7" width="2" height="2" opacity="0.79"/><rect x="832.0" y="519.0" width="2" height="2" opacity="0.69"/><rect x="857.7" y="346.8" width="2" height="2" opacity="0.91"/><rect x="927.8" y="366.0" width="2" height="2" opacity="0.86"/><rect x="837.1" y="470.8" width="2" height="2" opacity="0.72"/><rect x="904.4" y="366.6" width="2" height="2" opacity="0.88"/><rect x="922.1" y="497.9" width="2" height="2" opacity="0.64"/><rect x="858.0" y="443.5" width="2" height="2" opacity="0.82"/><rect x="918.9" y="424.7" width="2" height="2" opacity="0.77"/><rect x="905.0" y="451.3" width="2" height="2" opacity="0.83"/><rect x="864.1" y="384.8" width="2" height="2" opacity="0.57"/><rect x="922.7" y="521.6" width="2" height="2" opacity="0.59"/><rect x="906.0" y="449.4" width="2" height="2" opacity="0.93"/><rect x="828.3" y="457.0" width="2" height="2" opacity="0.92"/><rect x="943.7" y="418.7" width="2" height="2" opacity="0.69"/><rect x="928.5" y="515.3" width="2" height="2" opacity="0.54"/><rect x="934.4" y="363.4" width="2" height="2" opacity="0.43"/><rect x="830.5" y="355.0" width="2" height="2" opacity="0.46"/><rect x="855.0" y="394.7" width="2" height="2" opacity="0.98"/><rect x="924.0" y="360.3" width="2" height="2" opacity="0.52"/><rect x="910.7" y="453.0" width="2" height="2" opacity="0.67"/><rect x="878.2" y="480.1" width="2" height="2" opacity="0.69"/><rect x="913.9" y="343.1" width="2" height="2" opacity="0.46"/><rect x="849.1" y="451.5" width="2" height="2" opacity="0.75"/><rect x="932.1" y="506.4" width="2" height="2" opacity="0.88"/><rect x="866.7" y="352.0" width="2" height="2" opacity="0.93"/><rect x="939.6" y="345.6" width="2" height="2" opacity="0.40"/><rect x="848.1" y="408.3" width="2" height="2" opacity="0.82"/><rect x="881.9" y="464.3" width="2" height="2" opacity="0.89"/><rect x="847.9" y="398.8" width="2" height="2" opacity="0.98"/><rect x="892.2" y="432.9" width="2" height="2" opacity="0.73"/><rect x="893.0" y="476.1" width="2" height="2" opacity="0.92"/><rect x="902.3" y="458.8" width="2" height="2" opacity="0.75"/><rect x="855.5" y="483.5" width="2" height="2" opacity="0.52"/><rect x="857.8" y="404.3" width="2" height="2" opacity="0.71"/></g></g><clipPath id="c1"><rect x="826.5" y="341" width="123.5" height="188.5"/></clipPath><rect x="826.5" y="585" width="123.5" height="186" fill="#000"/><g clip-path="url(#c2)"><g fill="#fff" filter="url(#blur)"><rect x="837.3" y="586.7" width="6.3" height="2.1"/><rect x="843.6" y="587.1" width="0.4" height="2.1"/><rect x="843.3" y="586.0" width="1.9" height="1.4"/><rect x="847.0" y="586.1" width="5.0" height="3.6"/><rect x="852.0" y="586.1" width="4.0" height="3.4"/><rect x="853.0" y="592.1" width="2.4" height="1.4"/><rect x="854.9" y="583.9" width="2.0" height="1.4"/><rect x="866.0" y="586.5" width="9.0" height="2.7"/><rect x="872.0" y="584.4" width="1.5" height="1.4"/><rect x="867.2" y="586.0" width="2.4" height="1.4"/><rect x="884.0" y="586.8" width="5.2" height="2.2"/><rect x="889.2" y="587.0" width="5.5" height="2.6"/><rect x="894.7" y="586.8" width="2.3" height="2.5"/><rect x="895.8" y="590.6" width="1.5" height="1.4"/><rect x="896.3" y="591.0" width="2.2" height="1.4"/><rect x="893.7" y="591.9" width="1.3" height="1.4"/><rect x="904.0" y="586.7" width="12.1" height="2.6"/><rect x="916.1" y="586.5" width="0.9" height="2.8"/><rect x="914.6" y="585.2" width="2.2" height="1.4"/><rect x="915.4" y="584.1" width="1.5" height="1.4"/><rect x="915.6" y="590.1" width="1.5" height="1.4"/><rect x="924.0" y="587.0" width="5.7" height="2.2"/><rect x="929.7" y="587.0" width="4.3" height="2.6"/><rect x="931.8" y="591.2" width="1.8" height="1.4"/><rect x="925.9" y="585.7" width="1.9" height="1.4"/><rect x="937.0" y="586.8" width="5.1" height="2.7"/><rect x="942.1" y="587.0" width="1.9" height="2.4"/><rect x="942.4" y="590.6" width="1.4" height="1.4"/><rect x="834.7" y="591.8" width="0.3" height="2.0"/><rect x="833.3" y="595.9" width="1.8" height="1.4"/><rect x="850.0" y="591.0" width="7.0" height="2.6"/><rect x="851.3" y="594.6" width="2.4" height="1.4"/><rect x="862.0" y="591.2" width="4.8" height="2.0"/><rect x="866.8" y="591.5" width="1.2" height="2.3"/><rect x="862.0" y="595.5" width="2.3" height="1.4"/><rect x="872.0" y="590.9" width="8.0" height="2.7"/><rect x="873.8" y="594.8" width="1.7" height="1.4"/><rect x="874.1" y="596.1" width="1.8" height="1.4"/><rect x="898.0" y="591.0" width="13.0" height="2.7"/><rect x="911.0" y="591.3" width="1.0" height="2.3"/><rect x="910.4" y="589.9" width="1.9" height="1.4"/><rect x="905.9" y="594.7" width="1.5" height="1.4"/><rect x="898.0" y="589.1" width="2.0" height="1.4"/><rect x="918.0" y="591.0" width="7.0" height="2.3"/><rect x="923.9" y="589.2" width="2.1" height="1.4"/><rect x="936.0" y="591.0" width="6.0" height="2.5"/><rect x="942.0" y="591.3" width="7.0" height="2.2"/><rect x="948.8" y="589.3" width="1.8" height="1.4"/><rect x="942.4" y="588.5" width="1.7" height="1.4"/><rect x="936.7" y="594.9" width="1.2" height="1.4"/><rect x="840.0" y="594.5" width="5.8" height="2.7"/><rect x="845.8" y="594.9" width="2.2" height="2.5"/><rect x="847.9" y="599.5" width="1.6" height="1.4"/><rect x="841.6" y="593.5" width="2.4" height="1.4"/><rect x="856.0" y="595.1" width="6.0" height="2.3"/><rect x="861.4" y="599.7" width="2.1" height="1.4"/><rect x="882.0" y="595.1" width="6.0" height="2.3"/><rect x="885.9" y="594.0" width="2.1" height="1.4"/><rect x="895.0" y="594.9" width="4.3" height="1.8"/><rect x="899.3" y="595.2" width="0.7" height="2.1"/><rect x="898.9" y="598.4" width="2.2" height="1.4"/><rect x="930.0" y="595.3" width="5.0" height="1.8"/><rect x="934.3" y="592.8" width="1.3" height="1.4"/><rect x="827.0" y="600.0" width="7.8" height="3.0"/><rect x="834.8" y="599.9" width="5.5" height="3.1"/><rect x="840.4" y="600.5" width="5.2" height="3.1"/><rect x="845.6" y="599.5" width="9.0" height="3.8"/><rect x="854.6" y="599.8" width="10.7" height="3.7"/><rect x="865.3" y="599.6" width="11.4" height="3.9"/><rect x="876.8" y="600.2" width="8.4" height="3.7"/><rect x="885.1" y="600.1" width="10.7" height="3.6"/><rect x="895.8" y="600.0" width="13.0" height="3.8"/><rect x="908.8" y="600.3" width="4.4" height="3.1"/><rect x="913.2" y="600.1" width="10.5" height="3.3"/><rect x="923.7" y="599.8" width="7.0" height="3.6"/><rect x="901.2" y="605.6" width="2.4" height="1.4"/><rect x="921.4" y="605.0" width="1.5" height="1.4"/><rect x="831.8" y="598.5" width="1.2" height="1.4"/><rect x="841.8" y="605.8" width="2.2" height="1.4"/><rect x="920.8" y="604.7" width="2.0" height="1.4"/><rect x="868.7" y="599.5" width="1.8" height="1.4"/><rect x="896.1" y="605.7" width="2.4" height="1.4"/><rect x="830.0" y="598.7" width="2.0" height="1.4"/><rect x="869.3" y="604.5" width="2.4" height="1.4"/><rect x="862.7" y="605.6" width="1.3" height="1.4"/><rect x="915.3" y="605.0" width="1.6" height="1.4"/><rect x="867.5" y="604.1" width="1.6" height="1.4"/><rect x="880.5" y="598.6" width="2.3" height="1.4"/><rect x="849.2" y="605.4" width="2.3" height="1.4"/><rect x="863.8" y="605.5" width="2.1" height="1.4"/><rect x="877.3" y="597.7" width="1.5" height="1.4"/><rect x="902.4" y="598.8" width="2.2" height="1.4"/><rect x="838.0" y="604.5" width="1.8" height="1.4"/><rect x="927.0" y="604.0" width="2.0" height="1.4"/><rect x="841.3" y="604.6" width="2.5" height="1.4"/><rect x="855.4" y="605.7" width="1.5" height="1.4"/><rect x="888.0" y="599.0" width="2.4" height="1.4"/><rect x="905.0" y="604.1" width="1.7" height="1.4"/><rect x="915.7" y="604.4" width="1.3" height="1.4"/><rect x="915.7" y="598.4" width="1.4" height="1.4"/><rect x="938.7" y="600.7" width="5.1" height="2.2"/><rect x="943.8" y="600.9" width="5.2" height="1.8"/><rect x="947.9" y="599.3" width="1.2" height="1.4"/><rect x="940.9" y="598.7" width="1.4" height="1.4"/><rect x="838.7" y="609.3" width="2.6" height="1.8"/><rect x="845.0" y="605.2" width="4.0" height="2.1"/><rect x="847.1" y="603.4" width="1.4" height="1.4"/><rect x="853.0" y="605.6" width="4.0" height="2.4"/><rect x="853.1" y="604.2" width="2.1" height="1.4"/><rect x="859.0" y="605.3" width="5.2" height="3.7"/><rect x="864.2" y="605.6" width="6.7" height="3.5"/><rect x="871.0" y="605.1" width="5.0" height="3.6"/><rect x="875.9" y="605.1" width="4.8" height="3.2"/><rect x="869.5" y="609.8" width="1.8" height="1.4"/><rect x="874.0" y="604.5" width="2.4" height="1.4"/><rect x="863.0" y="604.1" width="1.2" height="1.4"/><rect x="872.3" y="610.7" width="1.8" height="1.4"/><rect x="876.9" y="604.1" width="2.2" height="1.4"/><rect x="884.0" y="605.6" width="4.6" height="3.6"/><rect x="888.6" y="606.2" width="6.0" height="3.3"/><rect x="894.6" y="605.7" width="8.5" height="3.6"/><rect x="903.1" y="605.4" width="8.7" height="3.9"/><rect x="911.8" y="605.4" width="2.2" height="4.1"/><rect x="890.1" y="603.4" width="1.9" height="1.4"/><rect x="888.8" y="610.7" width="2.2" height="1.4"/><rect x="903.8" y="604.2" width="1.2" height="1.4"/><rect x="885.0" y="611.3" width="1.9" height="1.4"/><rect x="911.3" y="604.0" width="2.0" height="1.4"/><rect x="907.3" y="610.1" width="1.7" height="1.4"/><rect x="903.2" y="610.1" width="1.6" height="1.4"/><rect x="915.0" y="607.5" width="5.2" height="2.5"/><rect x="920.2" y="607.5" width="5.5" height="2.3"/><rect x="925.7" y="607.7" width="2.3" height="2.7"/><rect x="923.5" y="612.9" width="1.5" height="1.4"/><rect x="918.3" y="612.6" width="2.4" height="1.4"/><rect x="925.1" y="605.1" width="1.2" height="1.4"/><rect x="934.7" y="608.4" width="4.0" height="1.9"/><rect x="936.3" y="612.3" width="2.1" height="1.4"/><rect x="944.0" y="608.9" width="4.0" height="1.8"/><rect x="945.7" y="605.9" width="1.4" height="1.4"/><rect x="837.3" y="614.9" width="7.8" height="4.3"/><rect x="845.1" y="614.8" width="1.9" height="4.5"/><rect x="846.5" y="620.6" width="2.5" height="1.4"/><rect x="844.2" y="613.9" width="2.3" height="1.4"/><rect x="857.0" y="615.2" width="4.3" height="4.7"/><rect x="861.3" y="615.3" width="4.9" height="4.6"/><rect x="866.2" y="615.1" width="12.0" height="4.5"/><rect x="878.2" y="615.3" width="8.5" height="4.7"/><rect x="879.7" y="613.3" width="2.2" height="1.4"/><rect x="879.2" y="614.0" width="1.2" height="1.4"/><rect x="875.3" y="621.1" width="1.4" height="1.4"/><rect x="869.0" y="620.5" width="2.3" height="1.4"/><rect x="877.2" y="613.1" width="2.5" height="1.4"/><rect x="885.6" y="620.1" width="1.3" height="1.4"/><rect x="886.6" y="613.1" width="1.7" height="1.4"/><rect x="890.0" y="614.7" width="11.2" height="4.9"/><rect x="905.4" y="615.5" width="8.6" height="4.3"/><rect x="914.0" y="615.3" width="2.0" height="4.6"/><rect x="898.2" y="613.7" width="1.7" height="1.4"/><rect x="903.7" y="620.2" width="1.5" height="1.4"/><rect x="893.2" y="612.6" width="1.4" height="1.4"/><rect x="913.2" y="612.6" width="1.4" height="1.4"/><rect x="905.0" y="613.1" width="1.2" height="1.4"/><rect x="904.3" y="612.9" width="1.7" height="1.4"/><rect x="855.2" y="615.6" width="2.2" height="1.4"/><rect x="920.7" y="614.9" width="8.3" height="2.8"/><rect x="921.4" y="612.9" width="2.2" height="1.4"/><rect x="922.7" y="613.9" width="1.9" height="1.4"/><rect x="929.0" y="617.0" width="5.0" height="9.7"/><rect x="931.3" y="627.2" width="1.2" height="1.4"/><rect x="938.7" y="616.7" width="8.6" height="2.5"/><rect x="944.5" y="620.9" width="1.3" height="1.4"/><rect x="938.9" y="621.6" width="1.3" height="1.4"/><rect x="840.7" y="622.8" width="3.3" height="2.4"/><rect x="858.7" y="623.3" width="10.7" height="2.0"/><rect x="869.4" y="623.2" width="1.3" height="2.1"/><rect x="862.0" y="627.7" width="2.3" height="1.4"/><rect x="860.7" y="626.9" width="1.3" height="1.4"/><rect x="866.8" y="625.9" width="2.1" height="1.4"/><rect x="878.7" y="622.8" width="4.0" height="2.1"/><rect x="881.6" y="621.9" width="2.0" height="1.4"/><rect x="900.7" y="623.1" width="2.6" height="2.4"/><rect x="909.3" y="623.0" width="4.0" height="2.1"/><rect x="913.0" y="621.8" width="2.4" height="1.4"/><rect x="928.0" y="623.9" width="8.0" height="3.9"/><rect x="930.3" y="622.8" width="2.4" height="1.4"/><rect x="933.3" y="629.3" width="1.7" height="1.4"/><rect x="933.0" y="626.8" width="5.7" height="1.6"/><rect x="936.2" y="631.0" width="2.4" height="1.4"/><rect x="941.0" y="627.1" width="3.0" height="1.9"/><rect x="946.0" y="627.2" width="3.0" height="1.7"/><rect x="835.0" y="630.8" width="8.2" height="2.7"/><rect x="843.2" y="631.0" width="3.5" height="2.2"/><rect x="843.0" y="629.8" width="1.9" height="1.4"/><rect x="841.0" y="635.5" width="2.0" height="1.4"/><rect x="850.0" y="628.9" width="4.2" height="2.3"/><rect x="854.2" y="628.9" width="1.8" height="2.2"/><rect x="850.2" y="632.6" width="2.4" height="1.4"/><rect x="858.7" y="628.9" width="3.3" height="2.0"/><rect x="865.0" y="630.1" width="4.4" height="2.0"/><rect x="869.4" y="629.4" width="0.6" height="2.8"/><rect x="866.0" y="633.4" width="2.4" height="1.4"/><rect x="876.0" y="632.0" width="5.0" height="2.0"/><rect x="876.0" y="636.5" width="1.5" height="1.4"/><rect x="888.0" y="628.9" width="2.7" height="6.2"/><rect x="894.0" y="631.8" width="5.0" height="1.8"/><rect x="894.3" y="635.4" width="2.4" height="1.4"/><rect x="907.0" y="632.1" width="8.5" height="1.7"/><rect x="915.5" y="631.7" width="3.2" height="2.1"/><rect x="907.8" y="635.7" width="1.9" height="1.4"/><rect x="918.2" y="629.5" width="1.9" height="1.4"/><rect x="924.0" y="631.8" width="3.0" height="2.4"/><rect x="929.0" y="632.1" width="12.0" height="2.1"/><rect x="941.0" y="631.5" width="6.1" height="2.8"/><rect x="947.1" y="631.5" width="1.9" height="2.6"/><rect x="942.4" y="630.4" width="1.4" height="1.4"/><rect x="947.8" y="629.8" width="2.1" height="1.4"/><rect x="929.2" y="635.2" width="2.3" height="1.4"/><rect x="935.9" y="636.8" width="2.4" height="1.4"/><rect x="948.8" y="636.8" width="1.6" height="1.4"/><rect x="827.0" y="636.8" width="11.0" height="2.3"/><rect x="838.0" y="637.2" width="7.9" height="1.7"/><rect x="845.9" y="636.9" width="12.5" height="1.9"/><rect x="858.4" y="637.2" width="5.0" height="1.6"/><rect x="863.4" y="636.7" width="4.7" height="2.3"/><rect x="868.1" y="636.9" width="4.3" height="1.6"/><rect x="872.5" y="637.2" width="8.6" height="1.7"/><rect x="881.1" y="636.7" width="9.3" height="2.0"/><rect x="890.3" y="637.0" width="11.2" height="1.8"/><rect x="901.6" y="636.9" width="7.7" height="1.7"/><rect x="909.3" y="636.9" width="5.1" height="2.4"/><rect x="914.4" y="637.4" width="6.4" height="1.8"/><rect x="920.8" y="637.4" width="9.7" height="1.7"/><rect x="930.5" y="637.0" width="11.4" height="2.2"/><rect x="941.9" y="636.7" width="6.1" height="1.9"/><rect x="948.0" y="636.8" width="1.0" height="1.8"/><rect x="867.8" y="635.7" width="2.2" height="1.4"/><rect x="890.4" y="641.2" width="2.2" height="1.4"/><rect x="856.9" y="635.4" width="2.3" height="1.4"/><rect x="891.5" y="641.4" width="1.9" height="1.4"/><rect x="838.5" y="636.1" width="2.2" height="1.4"/><rect x="929.5" y="636.1" width="2.2" height="1.4"/><rect x="882.8" y="634.9" width="1.6" height="1.4"/><rect x="927.6" y="639.8" width="2.5" height="1.4"/><rect x="879.6" y="640.1" width="2.3" height="1.4"/><rect x="858.0" y="641.5" width="2.2" height="1.4"/><rect x="936.6" y="636.0" width="1.3" height="1.4"/><rect x="909.3" y="641.3" width="2.3" height="1.4"/><rect x="911.0" y="640.3" width="1.6" height="1.4"/><rect x="834.0" y="641.4" width="1.5" height="1.4"/><rect x="914.8" y="634.8" width="1.9" height="1.4"/><rect x="837.9" y="641.5" width="2.4" height="1.4"/><rect x="839.8" y="641.0" width="2.3" height="1.4"/><rect x="936.1" y="641.4" width="1.8" height="1.4"/><rect x="910.3" y="640.5" width="1.8" height="1.4"/><rect x="828.1" y="634.6" width="2.2" height="1.4"/><rect x="881.9" y="636.1" width="2.5" height="1.4"/><rect x="840.4" y="636.2" width="1.7" height="1.4"/><rect x="943.4" y="639.9" width="1.6" height="1.4"/><rect x="880.4" y="634.7" width="1.5" height="1.4"/><rect x="875.7" y="640.2" width="1.5" height="1.4"/><rect x="928.7" y="641.2" width="2.4" height="1.4"/><rect x="928.1" y="639.9" width="1.3" height="1.4"/><rect x="856.8" y="641.3" width="1.6" height="1.4"/><rect x="833.5" y="635.5" width="1.3" height="1.4"/><rect x="921.1" y="641.2" width="1.6" height="1.4"/><rect x="834.0" y="641.1" width="4.0" height="2.2"/><rect x="836.1" y="644.9" width="2.3" height="1.4"/><rect x="844.0" y="641.7" width="3.0" height="1.9"/><rect x="851.0" y="642.1" width="7.4" height="1.9"/><rect x="859.2" y="645.3" width="2.5" height="1.4"/><rect x="852.9" y="646.7" width="2.1" height="1.4"/><rect x="866.0" y="641.5" width="8.0" height="2.3"/><rect x="873.4" y="640.4" width="1.3" height="1.4"/><rect x="868.6" y="644.8" width="1.7" height="1.4"/><rect x="880.0" y="642.2" width="5.4" height="2.0"/><rect x="885.4" y="641.8" width="6.6" height="2.0"/><rect x="890.3" y="644.9" width="2.2" height="1.4"/><rect x="883.5" y="641.0" width="1.8" height="1.4"/><rect x="887.4" y="640.7" width="1.9" height="1.4"/><rect x="898.0" y="642.2" width="5.1" height="1.6"/><rect x="903.1" y="641.9" width="6.9" height="2.0"/><rect x="904.6" y="641.0" width="1.2" height="1.4"/><rect x="902.4" y="639.9" width="2.3" height="1.4"/><rect x="904.2" y="639.9" width="1.6" height="1.4"/><rect x="916.0" y="641.7" width="12.3" height="2.4"/><rect x="928.3" y="641.7" width="1.7" height="2.4"/><rect x="925.3" y="641.2" width="2.1" height="1.4"/><rect x="918.8" y="646.1" width="2.1" height="1.4"/><rect x="927.0" y="645.8" width="2.1" height="1.4"/><rect x="936.0" y="641.9" width="4.2" height="2.4"/><rect x="940.2" y="642.1" width="7.7" height="1.9"/><rect x="947.8" y="641.7" width="1.2" height="2.1"/><rect x="945.6" y="645.4" width="2.0" height="1.4"/><rect x="947.3" y="646.4" width="2.3" height="1.4"/><rect x="942.4" y="645.5" width="2.5" height="1.4"/><rect x="827.0" y="644.4" width="5.2" height="3.8"/><rect x="832.2" y="644.9" width="11.9" height="3.3"/><rect x="844.1" y="644.7" width="6.6" height="3.9"/><rect x="840.0" y="648.8" width="2.1" height="1.4"/><rect x="845.0" y="650.7" width="2.2" height="1.4"/><rect x="840.2" y="644.2" width="1.2" height="1.4"/><rect x="839.2" y="650.0" width="2.0" height="1.4"/><rect x="846.6" y="650.1" width="1.5" height="1.4"/><rect x="853.0" y="646.0" width="7.1" height="2.8"/><rect x="860.1" y="646.5" width="5.5" height="2.2"/><rect x="865.6" y="646.4" width="6.9" height="2.7"/><rect x="872.5" y="646.4" width="4.5" height="2.1"/><rect x="866.2" y="649.5" width="1.9" height="1.4"/><rect x="856.3" y="650.9" width="2.5" height="1.4"/><rect x="872.3" y="644.2" width="2.3" height="1.4"/><rect x="870.2" y="650.5" width="1.7" height="1.4"/><rect x="859.9" y="645.3" width="1.8" height="1.4"/><rect x="861.1" y="650.5" width="1.8" height="1.4"/><rect x="897.0" y="646.4" width="6.5" height="3.9"/><rect x="903.5" y="645.7" width="7.0" height="4.2"/><rect x="910.5" y="646.1" width="6.5" height="4.2"/><rect x="917.0" y="645.6" width="9.9" height="4.5"/><rect x="926.9" y="645.5" width="0.4" height="4.4"/><rect x="914.8" y="643.6" width="2.5" height="1.4"/><rect x="924.3" y="652.0" width="2.4" height="1.4"/><rect x="922.0" y="644.8" width="1.9" height="1.4"/><rect x="910.1" y="652.0" width="2.2" height="1.4"/><rect x="905.6" y="651.6" width="1.3" height="1.4"/><rect x="918.4" y="645.1" width="1.5" height="1.4"/><rect x="912.8" y="651.1" width="1.9" height="1.4"/><rect x="927.3" y="645.8" width="6.1" height="2.3"/><rect x="933.4" y="645.7" width="10.4" height="2.1"/><rect x="943.8" y="646.2" width="5.2" height="2.2"/><rect x="943.9" y="650.6" width="2.2" height="1.4"/><rect x="933.4" y="650.6" width="2.1" height="1.4"/><rect x="937.6" y="650.3" width="1.9" height="1.4"/><rect x="946.2" y="644.4" width="2.3" height="1.4"/><rect x="931.0" y="649.2" width="2.2" height="1.4"/><rect x="840.7" y="649.6" width="3.3" height="2.0"/><rect x="858.7" y="650.5" width="5.3" height="1.3"/><rect x="864.0" y="650.3" width="6.7" height="1.3"/><rect x="858.8" y="648.9" width="1.7" height="1.4"/><rect x="864.7" y="649.2" width="2.0" height="1.4"/><rect x="870.2" y="653.6" width="2.0" height="1.4"/><rect x="877.7" y="650.4" width="5.4" height="1.4"/><rect x="883.1" y="650.3" width="7.4" height="1.7"/><rect x="890.6" y="650.3" width="5.4" height="1.3"/><rect x="896.0" y="650.3" width="8.8" height="1.5"/><rect x="904.8" y="650.6" width="4.5" height="1.3"/><rect x="909.2" y="650.2" width="12.0" height="1.9"/><rect x="921.2" y="650.3" width="6.1" height="1.5"/><rect x="912.2" y="653.7" width="2.0" height="1.4"/><rect x="891.1" y="652.6" width="1.3" height="1.4"/><rect x="895.0" y="648.4" width="2.2" height="1.4"/><rect x="893.6" y="653.0" width="2.3" height="1.4"/><rect x="912.6" y="652.9" width="1.5" height="1.4"/><rect x="893.1" y="647.6" width="1.4" height="1.4"/><rect x="900.8" y="649.0" width="2.1" height="1.4"/><rect x="917.0" y="648.5" width="1.4" height="1.4"/><rect x="899.8" y="652.8" width="1.9" height="1.4"/><rect x="908.7" y="653.3" width="2.0" height="1.4"/><rect x="883.5" y="653.0" width="2.5" height="1.4"/><rect x="886.2" y="653.8" width="2.0" height="1.4"/><rect x="827.0" y="658.4" width="6.2" height="2.3"/><rect x="833.2" y="658.3" width="6.5" height="1.9"/><rect x="839.7" y="658.1" width="10.4" height="1.9"/><rect x="850.1" y="657.8" width="2.6" height="2.2"/><rect x="830.9" y="657.0" width="2.4" height="1.4"/><rect x="841.6" y="662.2" width="1.8" height="1.4"/><rect x="836.9" y="656.7" width="2.2" height="1.4"/><rect x="832.8" y="662.4" width="1.3" height="1.4"/><rect x="848.3" y="662.4" width="1.7" height="1.4"/><rect x="837.3" y="662.1" width="1.7" height="1.4"/><rect x="852.7" y="655.8" width="12.1" height="5.5"/><rect x="864.8" y="655.7" width="5.4" height="5.6"/><rect x="870.2" y="655.9" width="6.5" height="4.9"/><rect x="876.7" y="656.2" width="6.6" height="5.3"/><rect x="883.4" y="656.0" width="6.0" height="5.6"/><rect x="889.4" y="656.1" width="10.7" height="5.1"/><rect x="900.1" y="656.2" width="8.0" height="5.1"/><rect x="908.1" y="655.7" width="9.4" height="5.2"/><rect x="917.5" y="655.5" width="5.4" height="5.4"/><rect x="922.9" y="655.5" width="3.8" height="5.3"/><rect x="878.5" y="661.9" width="1.6" height="1.4"/><rect x="909.8" y="663.5" width="2.0" height="1.4"/><rect x="891.2" y="662.0" width="1.8" height="1.4"/><rect x="865.6" y="655.1" width="2.3" height="1.4"/><rect x="869.9" y="661.6" width="2.5" height="1.4"/><rect x="881.2" y="654.9" width="2.4" height="1.4"/><rect x="905.8" y="661.5" width="1.3" height="1.4"/><rect x="890.3" y="662.6" width="2.1" height="1.4"/><rect x="881.2" y="662.4" width="1.5" height="1.4"/><rect x="892.8" y="661.8" width="2.0" height="1.4"/><rect x="905.3" y="655.3" width="1.3" height="1.4"/><rect x="855.1" y="663.1" width="1.3" height="1.4"/><rect x="923.1" y="663.2" width="1.6" height="1.4"/><rect x="905.4" y="655.5" width="1.6" height="1.4"/><rect x="876.9" y="654.9" width="1.9" height="1.4"/><rect x="886.2" y="662.6" width="1.9" height="1.4"/><rect x="857.5" y="653.8" width="1.9" height="1.4"/><rect x="859.5" y="653.8" width="2.2" height="1.4"/><rect x="926.7" y="658.0" width="8.1" height="2.4"/><rect x="934.8" y="658.4" width="7.4" height="2.3"/><rect x="942.2" y="658.3" width="6.8" height="2.0"/><rect x="936.8" y="657.0" width="2.1" height="1.4"/><rect x="947.8" y="661.5" width="2.1" height="1.4"/><rect x="948.0" y="656.2" width="1.4" height="1.4"/><rect x="930.6" y="661.3" width="1.6" height="1.4"/><rect x="934.7" y="662.7" width="1.9" height="1.4"/><rect x="827.0" y="664.4" width="9.9" height="1.6"/><rect x="836.9" y="663.9" width="1.8" height="2.4"/><rect x="833.6" y="663.2" width="2.2" height="1.4"/><rect x="827.7" y="668.7" width="1.4" height="1.4"/><rect x="848.0" y="664.1" width="6.0" height="2.3"/><rect x="851.9" y="668.9" width="1.9" height="1.4"/><rect x="871.0" y="664.5" width="12.8" height="1.9"/><rect x="883.8" y="664.5" width="10.2" height="2.1"/><rect x="892.2" y="668.2" width="2.4" height="1.4"/><rect x="881.8" y="668.7" width="1.3" height="1.4"/><rect x="876.7" y="661.9" width="2.4" height="1.4"/><rect x="881.4" y="668.0" width="1.7" height="1.4"/><rect x="889.4" y="667.4" width="2.0" height="1.4"/><rect x="897.0" y="664.7" width="11.1" height="1.8"/><rect x="908.1" y="664.0" width="7.5" height="2.3"/><rect x="915.6" y="664.4" width="8.4" height="1.9"/><rect x="924.0" y="664.1" width="6.0" height="2.0"/><rect x="904.6" y="668.4" width="2.5" height="1.4"/><rect x="924.6" y="662.6" width="1.5" height="1.4"/><rect x="928.2" y="661.8" width="1.6" height="1.4"/><rect x="918.9" y="668.6" width="2.1" height="1.4"/><rect x="908.2" y="668.5" width="1.5" height="1.4"/><rect x="903.4" y="668.6" width="1.5" height="1.4"/><rect x="905.8" y="667.5" width="1.4" height="1.4"/><rect x="908.9" y="667.7" width="1.6" height="1.4"/><rect x="936.0" y="664.2" width="3.0" height="2.2"/><rect x="827.0" y="669.9" width="4.3" height="2.5"/><rect x="831.3" y="669.8" width="5.7" height="2.3"/><rect x="834.4" y="673.9" width="2.1" height="1.4"/><rect x="832.5" y="668.4" width="1.3" height="1.4"/><rect x="841.3" y="669.7" width="5.4" height="2.8"/><rect x="845.1" y="667.2" width="2.4" height="1.4"/><rect x="848.0" y="670.0" width="6.0" height="2.0"/><rect x="848.6" y="674.0" width="1.3" height="1.4"/><rect x="858.7" y="669.8" width="4.1" height="2.0"/><rect x="862.8" y="669.9" width="2.5" height="2.8"/><rect x="861.8" y="668.3" width="2.4" height="1.4"/><rect x="871.0" y="669.2" width="10.9" height="3.9"/><rect x="881.9" y="669.5" width="8.4" height="3.7"/><rect x="890.3" y="669.2" width="3.7" height="3.5"/><rect x="874.9" y="666.8" width="1.4" height="1.4"/><rect x="889.5" y="675.2" width="2.1" height="1.4"/><rect x="874.9" y="668.2" width="1.7" height="1.4"/><rect x="890.0" y="675.0" width="1.5" height="1.4"/><rect x="888.3" y="668.7" width="2.1" height="1.4"/><rect x="898.0" y="669.0" width="8.7" height="3.5"/><rect x="917.5" y="669.3" width="5.6" height="3.7"/><rect x="923.1" y="669.2" width="7.9" height="3.3"/><rect x="930.9" y="667.4" width="2.2" height="1.4"/><rect x="924.0" y="668.2" width="2.2" height="1.4"/><rect x="910.4" y="667.4" width="2.5" height="1.4"/><rect x="910.7" y="668.1" width="2.1" height="1.4"/><rect x="898.8" y="675.2" width="1.9" height="1.4"/><rect x="903.6" y="668.1" width="1.5" height="1.4"/><rect x="921.5" y="673.9" width="2.4" height="1.4"/><rect x="912.0" y="673.6" width="2.1" height="1.4"/><rect x="926.7" y="674.3" width="2.6" height="1.8"/><rect x="932.0" y="674.4" width="3.0" height="1.8"/><rect x="938.0" y="673.9" width="8.4" height="1.7"/><rect x="946.4" y="674.3" width="2.6" height="1.3"/><rect x="939.4" y="672.1" width="1.8" height="1.4"/><rect x="942.5" y="671.9" width="1.9" height="1.4"/><rect x="827.0" y="679.3" width="11.0" height="4.7"/><rect x="838.0" y="679.5" width="4.4" height="4.3"/><rect x="842.4" y="679.3" width="9.1" height="4.9"/><rect x="851.6" y="679.2" width="6.5" height="4.6"/><rect x="858.0" y="678.8" width="8.9" height="5.0"/><rect x="866.9" y="678.9" width="4.3" height="4.7"/><rect x="871.2" y="678.9" width="7.8" height="4.8"/><rect x="838.6" y="684.8" width="1.2" height="1.4"/><rect x="842.0" y="684.4" width="2.3" height="1.4"/><rect x="840.3" y="678.7" width="1.9" height="1.4"/><rect x="828.5" y="677.6" width="2.2" height="1.4"/><rect x="863.2" y="677.7" width="1.5" height="1.4"/><rect x="871.1" y="685.3" width="2.5" height="1.4"/><rect x="871.7" y="676.9" width="2.3" height="1.4"/><rect x="867.3" y="676.9" width="2.3" height="1.4"/><rect x="862.5" y="685.0" width="2.3" height="1.4"/><rect x="863.8" y="685.0" width="1.7" height="1.4"/><rect x="860.7" y="685.7" width="1.5" height="1.4"/><rect x="833.6" y="678.6" width="1.9" height="1.4"/><rect x="846.4" y="678.4" width="2.3" height="1.4"/><rect x="884.0" y="680.5" width="7.3" height="2.5"/><rect x="891.3" y="680.3" width="2.7" height="2.8"/><rect x="884.2" y="685.0" width="2.0" height="1.4"/><rect x="891.1" y="683.6" width="1.6" height="1.4"/><rect x="907.0" y="680.3" width="8.2" height="2.2"/><rect x="915.2" y="680.4" width="8.8" height="2.7"/><rect x="921.9" y="678.6" width="1.6" height="1.4"/><rect x="918.0" y="678.6" width="2.2" height="1.4"/><rect x="910.2" y="683.7" width="1.8" height="1.4"/><rect x="917.6" y="678.8" width="1.5" height="1.4"/><rect x="929.0" y="679.2" width="11.7" height="7.5"/><rect x="940.7" y="679.3" width="3.3" height="7.6"/><rect x="943.9" y="688.7" width="2.1" height="1.4"/><rect x="937.5" y="678.5" width="1.7" height="1.4"/><rect x="939.4" y="687.7" width="1.8" height="1.4"/><rect x="827.0" y="688.5" width="10.7" height="1.3"/><rect x="837.7" y="687.8" width="8.8" height="1.8"/><rect x="846.6" y="688.1" width="9.4" height="1.8"/><rect x="829.1" y="691.4" width="1.5" height="1.4"/><rect x="845.7" y="692.1" width="1.8" height="1.4"/><rect x="848.8" y="692.3" width="2.4" height="1.4"/><rect x="845.5" y="691.9" width="1.9" height="1.4"/><rect x="829.7" y="692.5" width="2.5" height="1.4"/><rect x="855.9" y="692.5" width="1.7" height="1.4"/><rect x="828.4" y="687.4" width="1.6" height="1.4"/><rect x="827.0" y="692.0" width="6.6" height="2.2"/><rect x="833.6" y="692.3" width="10.5" height="1.8"/><rect x="844.1" y="692.2" width="7.2" height="1.8"/><rect x="851.3" y="692.0" width="12.2" height="2.1"/><rect x="863.5" y="692.0" width="8.8" height="2.2"/><rect x="872.3" y="692.1" width="12.1" height="1.9"/><rect x="884.4" y="692.2" width="5.0" height="1.9"/><rect x="889.4" y="691.8" width="7.2" height="1.9"/><rect x="902.0" y="691.9" width="9.8" height="1.7"/><rect x="911.7" y="692.1" width="6.8" height="1.6"/><rect x="918.5" y="691.6" width="11.7" height="2.4"/><rect x="930.2" y="692.1" width="9.2" height="1.8"/><rect x="939.4" y="692.1" width="9.6" height="1.8"/><rect x="944.3" y="690.4" width="1.5" height="1.4"/><rect x="935.6" y="690.8" width="1.7" height="1.4"/><rect x="834.1" y="694.8" width="2.2" height="1.4"/><rect x="914.6" y="695.3" width="1.4" height="1.4"/><rect x="921.8" y="695.1" width="2.4" height="1.4"/><rect x="901.4" y="694.8" width="1.8" height="1.4"/><rect x="863.7" y="689.7" width="2.2" height="1.4"/><rect x="912.5" y="689.5" width="2.4" height="1.4"/><rect x="922.9" y="695.2" width="1.5" height="1.4"/><rect x="929.5" y="695.6" width="1.7" height="1.4"/><rect x="884.5" y="690.3" width="1.5" height="1.4"/><rect x="925.4" y="690.6" width="2.1" height="1.4"/><rect x="831.0" y="691.0" width="2.2" height="1.4"/><rect x="894.4" y="689.8" width="1.5" height="1.4"/><rect x="912.2" y="689.3" width="1.7" height="1.4"/><rect x="906.5" y="690.9" width="2.1" height="1.4"/><rect x="879.4" y="689.9" width="2.3" height="1.4"/><rect x="869.1" y="691.2" width="1.4" height="1.4"/><rect x="831.4" y="691.0" width="1.9" height="1.4"/><rect x="871.3" y="695.3" width="1.2" height="1.4"/><rect x="912.3" y="689.6" width="1.8" height="1.4"/><rect x="918.7" y="695.2" width="1.4" height="1.4"/><rect x="854.1" y="695.5" width="1.3" height="1.4"/><rect x="833.3" y="695.9" width="1.4" height="1.4"/><rect x="924.7" y="695.0" width="2.0" height="1.4"/><rect x="938.3" y="691.2" width="1.4" height="1.4"/><rect x="890.1" y="689.6" width="1.8" height="1.4"/><rect x="867.0" y="694.8" width="1.2" height="1.4"/><rect x="896.1" y="690.2" width="1.5" height="1.4"/><rect x="850.2" y="696.4" width="1.5" height="1.4"/><rect x="852.0" y="694.7" width="4.0" height="3.9"/><rect x="853.5" y="693.9" width="2.2" height="1.4"/><rect x="929.0" y="695.2" width="4.0" height="1.9"/><rect x="932.2" y="699.2" width="1.4" height="1.4"/><rect x="940.0" y="696.5" width="6.2" height="1.6"/><rect x="946.2" y="696.3" width="2.8" height="1.4"/><rect x="943.6" y="699.3" width="1.7" height="1.4"/><rect x="940.1" y="694.3" width="1.3" height="1.4"/><rect x="828.7" y="700.5" width="4.3" height="1.9"/><rect x="829.0" y="699.0" width="1.3" height="1.4"/><rect x="836.0" y="700.6" width="4.7" height="1.6"/><rect x="838.3" y="699.0" width="1.7" height="1.4"/><rect x="847.0" y="700.3" width="11.3" height="1.7"/><rect x="858.3" y="700.8" width="6.7" height="1.6"/><rect x="863.0" y="698.1" width="2.2" height="1.4"/><rect x="854.4" y="704.4" width="1.7" height="1.4"/><rect x="864.6" y="703.3" width="2.4" height="1.4"/><rect x="855.0" y="698.5" width="1.3" height="1.4"/><rect x="870.7" y="700.2" width="9.0" height="2.1"/><rect x="879.7" y="700.7" width="7.3" height="2.0"/><rect x="885.0" y="704.9" width="2.1" height="1.4"/><rect x="886.4" y="703.5" width="2.1" height="1.4"/><rect x="886.2" y="704.4" width="1.3" height="1.4"/><rect x="882.9" y="698.4" width="1.9" height="1.4"/><rect x="894.7" y="700.6" width="11.5" height="1.7"/><rect x="906.2" y="700.6" width="8.8" height="2.3"/><rect x="894.7" y="705.0" width="1.5" height="1.4"/><rect x="908.8" y="697.9" width="2.5" height="1.4"/><rect x="902.7" y="698.1" width="2.0" height="1.4"/><rect x="903.4" y="699.3" width="1.6" height="1.4"/><rect x="897.0" y="698.4" width="1.7" height="1.4"/><rect x="920.7" y="700.7" width="3.3" height="1.9"/><rect x="929.0" y="702.7" width="11.2" height="1.5"/><rect x="940.2" y="702.4" width="7.6" height="1.9"/><rect x="947.8" y="702.5" width="1.2" height="1.4"/><rect x="929.8" y="706.8" width="1.9" height="1.4"/><rect x="934.3" y="706.1" width="1.7" height="1.4"/><rect x="940.5" y="705.9" width="2.4" height="1.4"/><rect x="938.7" y="706.4" width="1.7" height="1.4"/><rect x="932.2" y="701.2" width="1.7" height="1.4"/><rect x="831.0" y="704.4" width="3.0" height="1.6"/><rect x="838.0" y="704.3" width="4.4" height="2.0"/><rect x="842.4" y="704.5" width="0.3" height="2.1"/><rect x="841.9" y="702.5" width="2.3" height="1.4"/><rect x="866.7" y="704.4" width="4.0" height="2.0"/><rect x="868.7" y="708.9" width="2.5" height="1.4"/><rect x="827.0" y="709.2" width="8.7" height="2.3"/><rect x="833.3" y="706.2" width="1.5" height="1.4"/><rect x="834.7" y="706.2" width="2.0" height="1.4"/><rect x="827.6" y="712.4" width="2.4" height="1.4"/><rect x="841.3" y="707.4" width="5.4" height="6.4"/><rect x="843.3" y="715.6" width="1.9" height="1.4"/><rect x="855.0" y="708.8" width="5.8" height="2.1"/><rect x="860.8" y="709.0" width="3.2" height="2.3"/><rect x="863.2" y="712.3" width="2.4" height="1.4"/><rect x="858.9" y="706.8" width="2.5" height="1.4"/><rect x="867.0" y="709.0" width="5.9" height="2.6"/><rect x="872.9" y="708.7" width="6.1" height="2.8"/><rect x="874.7" y="706.4" width="2.3" height="1.4"/><rect x="868.3" y="706.4" width="2.4" height="1.4"/><rect x="868.4" y="713.3" width="2.0" height="1.4"/><rect x="884.0" y="708.4" width="6.3" height="2.7"/><rect x="890.3" y="708.6" width="5.7" height="2.2"/><rect x="891.2" y="712.4" width="1.7" height="1.4"/><rect x="885.9" y="707.3" width="1.2" height="1.4"/><rect x="889.9" y="707.5" width="1.3" height="1.4"/><rect x="893.0" y="711.8" width="3.0" height="2.6"/><rect x="900.7" y="708.5" width="5.4" height="2.8"/><rect x="906.1" y="708.5" width="7.9" height="2.8"/><rect x="906.8" y="713.3" width="2.1" height="1.4"/><rect x="913.5" y="707.8" width="2.3" height="1.4"/><rect x="905.0" y="714.0" width="2.2" height="1.4"/><rect x="912.0" y="712.3" width="2.7" height="2.5"/><rect x="917.0" y="709.0" width="7.5" height="2.5"/><rect x="924.5" y="708.9" width="4.8" height="2.0"/><rect x="929.2" y="708.4" width="0.8" height="2.8"/><rect x="929.4" y="706.5" width="1.4" height="1.4"/><rect x="923.3" y="706.7" width="1.5" height="1.4"/><rect x="919.6" y="708.0" width="2.4" height="1.4"/><rect x="933.0" y="709.0" width="10.5" height="2.0"/><rect x="943.5" y="708.8" width="5.5" height="2.3"/><rect x="948.0" y="712.1" width="1.9" height="1.4"/><rect x="940.6" y="707.8" width="1.8" height="1.4"/><rect x="939.7" y="706.9" width="2.1" height="1.4"/><rect x="947.6" y="712.7" width="2.2" height="1.4"/><rect x="865.3" y="714.8" width="2.7" height="1.9"/><rect x="874.7" y="715.3" width="2.6" height="1.6"/><rect x="880.0" y="715.1" width="2.7" height="1.7"/><rect x="943.0" y="714.6" width="5.1" height="2.6"/><rect x="948.1" y="714.3" width="0.9" height="2.8"/><rect x="946.7" y="718.9" width="1.4" height="1.4"/><rect x="838.0" y="721.5" width="3.3" height="1.6"/><rect x="929.0" y="718.2" width="11.1" height="5.7"/><rect x="940.1" y="718.4" width="0.9" height="5.0"/><rect x="933.5" y="716.2" width="2.0" height="1.4"/><rect x="932.8" y="717.1" width="1.8" height="1.4"/><rect x="934.0" y="725.3" width="1.2" height="1.4"/><rect x="827.0" y="727.2" width="6.5" height="1.7"/><rect x="833.5" y="726.6" width="1.2" height="2.5"/><rect x="831.2" y="724.7" width="1.9" height="1.4"/><rect x="840.7" y="726.8" width="4.7" height="2.2"/><rect x="845.4" y="726.8" width="6.0" height="2.0"/><rect x="843.4" y="731.2" width="1.3" height="1.4"/><rect x="842.4" y="724.4" width="2.5" height="1.4"/><rect x="852.5" y="725.7" width="2.0" height="1.4"/><rect x="855.0" y="726.8" width="7.3" height="2.0"/><rect x="862.3" y="727.0" width="4.2" height="1.9"/><rect x="866.5" y="727.1" width="1.5" height="2.2"/><rect x="857.2" y="731.6" width="2.0" height="1.4"/><rect x="861.6" y="730.3" width="2.3" height="1.4"/><rect x="865.3" y="724.9" width="2.4" height="1.4"/><rect x="870.7" y="726.8" width="3.3" height="2.0"/><rect x="876.7" y="726.8" width="6.0" height="1.9"/><rect x="880.7" y="730.2" width="1.8" height="1.4"/><rect x="885.3" y="727.3" width="6.0" height="1.9"/><rect x="885.8" y="724.5" width="1.2" height="1.4"/><rect x="894.0" y="727.3" width="6.0" height="2.0"/><rect x="898.1" y="726.1" width="1.5" height="1.4"/><rect x="902.7" y="726.9" width="3.3" height="2.3"/><rect x="908.7" y="726.5" width="6.0" height="2.2"/><rect x="913.0" y="730.0" width="2.2" height="1.4"/><rect x="918.7" y="727.3" width="7.4" height="2.0"/><rect x="926.1" y="727.3" width="6.0" height="1.9"/><rect x="932.1" y="727.1" width="12.5" height="2.3"/><rect x="944.6" y="727.0" width="4.4" height="2.2"/><rect x="920.9" y="726.1" width="1.7" height="1.4"/><rect x="941.6" y="724.8" width="2.1" height="1.4"/><rect x="937.8" y="724.5" width="1.6" height="1.4"/><rect x="941.9" y="731.0" width="1.5" height="1.4"/><rect x="942.1" y="724.7" width="2.1" height="1.4"/><rect x="939.4" y="730.2" width="1.8" height="1.4"/><rect x="948.6" y="730.6" width="1.7" height="1.4"/><rect x="850.7" y="734.2" width="6.6" height="5.0"/><rect x="853.8" y="740.5" width="1.9" height="1.4"/><rect x="862.0" y="735.7" width="12.3" height="2.2"/><rect x="874.3" y="735.8" width="8.9" height="1.9"/><rect x="883.2" y="736.0" width="8.8" height="2.0"/><rect x="892.0" y="735.7" width="12.0" height="2.2"/><rect x="903.9" y="735.8" width="2.1" height="2.2"/><rect x="875.2" y="734.4" width="1.9" height="1.4"/><rect x="898.0" y="734.8" width="1.3" height="1.4"/><rect x="876.6" y="734.8" width="2.1" height="1.4"/><rect x="884.9" y="735.2" width="1.9" height="1.4"/><rect x="874.5" y="739.0" width="1.6" height="1.4"/><rect x="892.5" y="740.5" width="1.5" height="1.4"/><rect x="898.9" y="734.4" width="1.3" height="1.4"/><rect x="877.3" y="739.9" width="1.9" height="1.4"/><rect x="886.9" y="733.8" width="1.4" height="1.4"/><rect x="890.3" y="735.2" width="2.2" height="1.4"/><rect x="904.3" y="734.9" width="1.6" height="1.4"/><rect x="910.0" y="736.0" width="11.4" height="1.6"/><rect x="921.4" y="736.0" width="5.9" height="2.0"/><rect x="922.3" y="733.6" width="1.6" height="1.4"/><rect x="911.0" y="739.0" width="1.8" height="1.4"/><rect x="917.8" y="739.8" width="1.9" height="1.4"/><rect x="925.0" y="739.3" width="1.5" height="1.4"/><rect x="841.3" y="742.0" width="2.0" height="2.0"/><rect x="910.0" y="742.2" width="2.0" height="1.3"/><rect x="937.0" y="742.0" width="2.0" height="1.9"/><rect x="945.0" y="741.5" width="3.0" height="2.0"/><rect x="829.0" y="746.7" width="12.5" height="2.7"/><rect x="841.5" y="746.3" width="7.3" height="2.7"/><rect x="848.7" y="746.6" width="6.2" height="2.4"/><rect x="854.9" y="746.5" width="12.1" height="2.4"/><rect x="867.0" y="747.0" width="8.7" height="2.1"/><rect x="881.2" y="747.1" width="9.4" height="2.5"/><rect x="890.7" y="747.0" width="10.4" height="2.4"/><rect x="907.1" y="747.2" width="5.1" height="2.2"/><rect x="912.2" y="746.7" width="9.3" height="2.6"/><rect x="921.5" y="746.6" width="8.2" height="2.7"/><rect x="929.7" y="746.8" width="5.0" height="2.7"/><rect x="934.7" y="747.1" width="6.0" height="2.1"/><rect x="940.7" y="746.6" width="8.3" height="2.7"/><rect x="919.2" y="751.5" width="2.3" height="1.4"/><rect x="933.5" y="750.8" width="2.2" height="1.4"/><rect x="941.3" y="744.3" width="1.9" height="1.4"/><rect x="861.6" y="744.1" width="1.8" height="1.4"/><rect x="844.1" y="750.7" width="1.8" height="1.4"/><rect x="894.3" y="751.5" width="1.6" height="1.4"/><rect x="893.7" y="744.3" width="1.3" height="1.4"/><rect x="945.5" y="751.6" width="1.5" height="1.4"/><rect x="850.0" y="746.0" width="2.2" height="1.4"/><rect x="930.0" y="745.1" width="1.4" height="1.4"/><rect x="873.2" y="751.7" width="2.5" height="1.4"/><rect x="904.1" y="750.1" width="1.7" height="1.4"/><rect x="832.3" y="744.9" width="2.0" height="1.4"/><rect x="899.1" y="750.4" width="1.6" height="1.4"/><rect x="906.8" y="750.4" width="1.5" height="1.4"/><rect x="844.4" y="745.9" width="2.3" height="1.4"/><rect x="835.1" y="745.6" width="1.7" height="1.4"/><rect x="848.9" y="750.9" width="2.5" height="1.4"/><rect x="907.8" y="751.6" width="1.8" height="1.4"/><rect x="946.2" y="745.9" width="2.4" height="1.4"/><rect x="885.8" y="750.2" width="2.2" height="1.4"/><rect x="907.4" y="744.7" width="1.9" height="1.4"/><rect x="844.2" y="745.1" width="2.4" height="1.4"/><rect x="872.4" y="751.6" width="1.7" height="1.4"/><rect x="880.8" y="744.1" width="2.2" height="1.4"/><rect x="869.1" y="745.3" width="2.0" height="1.4"/><rect x="832.1" y="745.4" width="1.8" height="1.4"/><rect x="884.7" y="750.6" width="1.6" height="1.4"/><rect x="847.3" y="750.3" width="1.9" height="1.4"/><rect x="946.7" y="745.9" width="2.2" height="1.4"/><rect x="844.0" y="744.1" width="12.6" height="2.3"/><rect x="856.6" y="744.7" width="7.4" height="1.9"/><rect x="855.2" y="748.6" width="2.1" height="1.4"/><rect x="859.9" y="742.9" width="1.4" height="1.4"/><rect x="845.0" y="742.7" width="1.8" height="1.4"/><rect x="850.0" y="741.6" width="2.2" height="1.4"/><rect x="846.1" y="747.4" width="2.3" height="1.4"/><rect x="841.0" y="753.4" width="3.7" height="1.8"/><rect x="862.0" y="752.8" width="3.3" height="2.0"/><rect x="870.7" y="753.0" width="11.2" height="1.7"/><rect x="881.9" y="753.0" width="0.8" height="1.8"/><rect x="871.6" y="752.3" width="1.3" height="1.4"/><rect x="877.8" y="751.1" width="2.0" height="1.4"/><rect x="878.6" y="756.0" width="1.3" height="1.4"/><rect x="909.3" y="753.2" width="2.7" height="1.5"/><rect x="924.0" y="752.8" width="4.9" height="1.9"/><rect x="928.9" y="752.8" width="0.4" height="1.9"/><rect x="926.3" y="757.2" width="2.5" height="1.4"/><rect x="944.0" y="753.3" width="3.3" height="1.9"/><rect x="829.3" y="762.2" width="10.5" height="2.6"/><rect x="839.8" y="762.3" width="0.9" height="2.8"/><rect x="831.9" y="766.1" width="1.4" height="1.4"/><rect x="839.9" y="761.0" width="1.7" height="1.4"/><rect x="842.7" y="759.0" width="4.7" height="8.5"/><rect x="847.4" y="759.0" width="3.3" height="8.3"/><rect x="845.1" y="757.5" width="1.7" height="1.4"/><rect x="849.2" y="758.1" width="1.2" height="1.4"/><rect x="853.3" y="761.6" width="4.3" height="2.2"/><rect x="855.2" y="766.4" width="2.1" height="1.4"/><rect x="859.8" y="760.9" width="2.1" height="1.4"/><rect x="865.3" y="764.4" width="10.9" height="2.0"/><rect x="876.2" y="763.5" width="6.5" height="2.6"/><rect x="867.7" y="768.3" width="1.4" height="1.4"/><rect x="870.7" y="762.7" width="2.2" height="1.4"/><rect x="868.6" y="768.9" width="1.2" height="1.4"/><rect x="880.7" y="768.7" width="1.3" height="1.4"/><rect x="890.7" y="760.2" width="8.6" height="6.3"/><rect x="899.3" y="760.0" width="8.6" height="6.4"/><rect x="907.8" y="760.1" width="11.2" height="6.6"/><rect x="925.1" y="760.4" width="2.9" height="6.4"/><rect x="901.0" y="767.4" width="1.6" height="1.4"/><rect x="891.5" y="768.0" width="1.4" height="1.4"/><rect x="897.2" y="758.8" width="1.6" height="1.4"/><rect x="909.2" y="759.5" width="2.0" height="1.4"/><rect x="912.1" y="758.9" width="2.3" height="1.4"/><rect x="914.9" y="758.7" width="2.0" height="1.4"/><rect x="918.0" y="767.1" width="2.4" height="1.4"/><rect x="907.3" y="767.6" width="1.8" height="1.4"/><rect x="909.7" y="768.3" width="1.9" height="1.4"/><rect x="932.0" y="762.4" width="7.8" height="5.0"/><rect x="939.8" y="762.0" width="0.9" height="5.4"/><rect x="938.6" y="760.0" width="1.6" height="1.4"/><rect x="940.0" y="760.6" width="1.5" height="1.4"/><rect x="944.0" y="762.2" width="5.0" height="2.2"/><rect x="945.3" y="759.6" width="2.1" height="1.4"/><rect x="828.0" y="769.6" width="8.5" height="1.4"/><rect x="836.5" y="769.7" width="6.0" height="1.3"/><rect x="828.3" y="767.7" width="1.3" height="1.4"/><rect x="838.6" y="772.3" width="1.3" height="1.4"/><rect x="840.2" y="767.9" width="2.5" height="1.4"/><rect x="841.9" y="772.1" width="2.5" height="1.4"/><rect x="877.0" y="769.4" width="10.6" height="1.3"/><rect x="887.6" y="769.5" width="6.0" height="1.3"/><rect x="893.7" y="769.6" width="11.6" height="1.3"/><rect x="905.3" y="769.7" width="9.8" height="1.3"/><rect x="915.1" y="769.0" width="7.4" height="1.5"/><rect x="922.5" y="769.1" width="4.5" height="1.3"/><rect x="913.0" y="772.7" width="2.0" height="1.4"/><rect x="892.9" y="772.7" width="1.5" height="1.4"/><rect x="914.6" y="773.2" width="2.1" height="1.4"/><rect x="905.0" y="768.5" width="1.5" height="1.4"/><rect x="902.7" y="768.0" width="1.9" height="1.4"/><rect x="910.8" y="773.1" width="2.2" height="1.4"/><rect x="902.9" y="772.4" width="1.5" height="1.4"/><rect x="910.1" y="767.1" width="2.2" height="1.4"/><rect x="878.7" y="768.2" width="2.0" height="1.4"/><rect x="917.4" y="768.3" width="2.1" height="1.4"/><rect x="909.9" y="771.3" width="1.5" height="1.4"/><rect x="903.3" y="771.8" width="1.3" height="1.4"/><rect x="856.7" y="650.1" width="2" height="2" opacity="0.45"/><rect x="835.7" y="676.9" width="2" height="2" opacity="0.47"/><rect x="891.3" y="755.5" width="2" height="2" opacity="0.58"/><rect x="914.2" y="636.3" width="2" height="2" opacity="0.46"/><rect x="901.6" y="721.6" width="2" height="2" opacity="0.43"/><rect x="836.9" y="745.5" width="2" height="2" opacity="0.66"/><rect x="917.4" y="621.5" width="2" height="2" opacity="0.43"/><rect x="863.4" y="637.5" width="2" height="2" opacity="0.79"/><rect x="916.4" y="680.4" width="2" height="2" opacity="0.57"/><rect x="884.5" y="620.9" width="2" height="2" opacity="0.43"/><rect x="924.1" y="706.2" width="2" height="2" opacity="0.87"/><rect x="882.2" y="672.0" width="2" height="2" opacity="0.47"/><rect x="891.1" y="585.3" width="2" height="2" opacity="0.85"/><rect x="926.9" y="687.9" width="2" height="2" opacity="0.41"/><rect x="876.6" y="715.9" width="2" height="2" opacity="0.71"/><rect x="845.1" y="619.3" width="2" height="2" opacity="0.67"/><rect x="880.5" y="755.4" width="2" height="2" opacity="0.49"/><rect x="892.8" y="648.3" width="2" height="2" opacity="0.95"/><rect x="843.1" y="694.8" width="2" height="2" opacity="0.86"/><rect x="932.1" y="612.4" width="2" height="2" opacity="0.82"/><rect x="908.5" y="614.1" width="2" height="2" opacity="0.47"/><rect x="933.5" y="749.2" width="2" height="2" opacity="0.48"/><rect x="872.6" y="690.5" width="2" height="2" opacity="0.47"/><rect x="887.2" y="731.9" width="2" height="2" opacity="0.78"/><rect x="851.7" y="714.0" width="2" height="2" opacity="0.92"/><rect x="892.9" y="721.6" width="2" height="2" opacity="0.96"/><rect x="871.0" y="647.5" width="2" height="2" opacity="0.90"/><rect x="844.8" y="621.6" width="2" height="2" opacity="0.89"/><rect x="897.1" y="585.0" width="2" height="2" opacity="0.43"/><rect x="946.1" y="602.8" width="2" height="2" opacity="0.54"/><rect x="835.4" y="721.2" width="2" height="2" opacity="0.94"/><rect x="884.6" y="654.0" width="2" height="2" opacity="0.50"/><rect x="868.8" y="757.0" width="2" height="2" opacity="0.88"/><rect x="872.4" y="634.5" width="2" height="2" opacity="0.83"/><rect x="867.7" y="657.6" width="2" height="2" opacity="0.58"/></g></g><clipPath id="c2"><rect x="826.5" y="585" width="123.5" height="186"/></clipPath><rect x="1038" y="463" width="124" height="188.5" fill="#000"/><g clip-path="url(#c3)"><g fill="#fff" filter="url(#blur)"><rect x="1039.5" y="465.8" width="3.0" height="2.2"/><rect x="1046.5" y="465.8" width="3.0" height="2.0"/><rect x="1053.5" y="465.2" width="4.0" height="2.7"/><rect x="1053.8" y="470.3" width="1.7" height="1.4"/><rect x="1061.5" y="465.7" width="8.7" height="2.4"/><rect x="1070.2" y="465.8" width="2.3" height="2.4"/><rect x="1069.6" y="462.7" width="1.2" height="1.4"/><rect x="1068.1" y="468.9" width="1.5" height="1.4"/><rect x="1076.2" y="466.3" width="6.0" height="2.0"/><rect x="1076.5" y="470.5" width="1.6" height="1.4"/><rect x="1087.5" y="465.8" width="2.0" height="2.0"/><rect x="1093.5" y="465.4" width="3.0" height="2.1"/><rect x="1098.5" y="465.3" width="7.0" height="2.8"/><rect x="1105.1" y="469.4" width="1.5" height="1.4"/><rect x="1108.5" y="465.7" width="3.0" height="2.1"/><rect x="1123.5" y="466.7" width="5.0" height="1.3"/><rect x="1127.6" y="470.3" width="2.0" height="1.4"/><rect x="1117.9" y="465.2" width="1.6" height="1.4"/><rect x="1124.2" y="469.4" width="1.8" height="1.4"/><rect x="1154.3" y="471.0" width="1.3" height="1.4"/><rect x="1048.5" y="472.0" width="4.0" height="2.8"/><rect x="1051.7" y="476.5" width="1.9" height="1.4"/><rect x="1055.5" y="472.4" width="8.0" height="2.6"/><rect x="1061.4" y="470.1" width="2.3" height="1.4"/><rect x="1057.9" y="470.0" width="1.8" height="1.4"/><rect x="1140.5" y="469.7" width="8.8" height="4.4"/><rect x="1149.3" y="470.1" width="1.2" height="4.1"/><rect x="1146.3" y="475.8" width="1.9" height="1.4"/><rect x="1143.3" y="475.9" width="2.4" height="1.4"/><rect x="1152.5" y="472.5" width="3.0" height="1.8"/><rect x="1157.5" y="472.8" width="3.0" height="2.0"/><rect x="1050.2" y="477.9" width="5.6" height="2.5"/><rect x="1055.8" y="478.0" width="7.0" height="2.5"/><rect x="1062.8" y="478.6" width="9.3" height="2.0"/><rect x="1072.1" y="477.9" width="10.7" height="2.1"/><rect x="1082.8" y="478.4" width="10.8" height="2.2"/><rect x="1093.5" y="478.2" width="8.5" height="2.2"/><rect x="1102.0" y="478.4" width="4.3" height="2.4"/><rect x="1106.3" y="478.6" width="6.5" height="2.0"/><rect x="1112.8" y="478.1" width="4.3" height="2.8"/><rect x="1117.1" y="478.2" width="4.9" height="2.4"/><rect x="1122.0" y="477.9" width="4.0" height="2.8"/><rect x="1126.0" y="477.9" width="13.0" height="2.2"/><rect x="1139.0" y="478.1" width="1.8" height="2.3"/><rect x="1105.2" y="481.7" width="2.0" height="1.4"/><rect x="1106.0" y="482.3" width="1.7" height="1.4"/><rect x="1136.1" y="481.6" width="1.2" height="1.4"/><rect x="1073.6" y="482.1" width="1.4" height="1.4"/><rect x="1080.8" y="482.8" width="2.3" height="1.4"/><rect x="1124.0" y="481.9" width="1.9" height="1.4"/><rect x="1117.1" y="482.5" width="2.3" height="1.4"/><rect x="1135.8" y="483.1" width="1.6" height="1.4"/><rect x="1061.1" y="482.9" width="1.6" height="1.4"/><rect x="1117.6" y="476.1" width="2.5" height="1.4"/><rect x="1061.0" y="477.2" width="2.0" height="1.4"/><rect x="1098.9" y="481.8" width="1.5" height="1.4"/><rect x="1085.3" y="481.6" width="1.8" height="1.4"/><rect x="1058.2" y="476.3" width="1.9" height="1.4"/><rect x="1085.3" y="476.2" width="1.9" height="1.4"/><rect x="1066.6" y="476.9" width="1.5" height="1.4"/><rect x="1140.8" y="475.9" width="1.5" height="1.4"/><rect x="1097.3" y="482.2" width="1.5" height="1.4"/><rect x="1070.1" y="482.8" width="2.2" height="1.4"/><rect x="1128.8" y="476.6" width="1.9" height="1.4"/><rect x="1116.0" y="475.6" width="1.2" height="1.4"/><rect x="1113.3" y="481.6" width="1.9" height="1.4"/><rect x="1040.5" y="478.2" width="3.0" height="2.0"/><rect x="1045.5" y="479.3" width="2.0" height="2.3"/><rect x="1148.5" y="478.2" width="5.4" height="2.4"/><rect x="1153.9" y="478.6" width="6.6" height="1.8"/><rect x="1157.1" y="483.0" width="1.4" height="1.4"/><rect x="1151.7" y="481.8" width="2.3" height="1.4"/><rect x="1153.7" y="475.9" width="1.4" height="1.4"/><rect x="1039.5" y="482.4" width="5.0" height="2.1"/><rect x="1044.5" y="482.4" width="1.0" height="2.3"/><rect x="1040.3" y="479.9" width="2.3" height="1.4"/><rect x="1048.5" y="484.8" width="5.7" height="1.7"/><rect x="1053.5" y="483.0" width="2.0" height="1.4"/><rect x="1061.8" y="488.6" width="2.0" height="1.4"/><rect x="1076.2" y="484.4" width="5.2" height="2.0"/><rect x="1081.4" y="484.1" width="10.2" height="2.3"/><rect x="1091.6" y="484.4" width="6.9" height="2.3"/><rect x="1091.0" y="481.5" width="2.1" height="1.4"/><rect x="1081.9" y="481.5" width="2.3" height="1.4"/><rect x="1086.5" y="481.6" width="1.2" height="1.4"/><rect x="1097.4" y="481.4" width="1.3" height="1.4"/><rect x="1097.2" y="488.9" width="2.3" height="1.4"/><rect x="1087.5" y="487.0" width="4.0" height="2.7"/><rect x="1090.3" y="485.5" width="2.2" height="1.4"/><rect x="1106.5" y="484.3" width="3.0" height="1.6"/><rect x="1121.4" y="483.2" width="1.9" height="1.4"/><rect x="1128.5" y="486.7" width="5.1" height="1.8"/><rect x="1133.6" y="487.2" width="2.9" height="2.1"/><rect x="1128.7" y="485.4" width="2.4" height="1.4"/><rect x="1130.5" y="485.7" width="1.8" height="1.4"/><rect x="1142.2" y="487.0" width="5.3" height="2.0"/><rect x="1145.9" y="484.3" width="2.0" height="1.4"/><rect x="1154.2" y="486.7" width="4.7" height="2.4"/><rect x="1158.9" y="487.0" width="1.6" height="1.8"/><rect x="1158.2" y="491.3" width="1.5" height="1.4"/><rect x="1048.5" y="493.3" width="5.7" height="3.9"/><rect x="1054.2" y="493.3" width="8.0" height="4.6"/><rect x="1059.3" y="498.2" width="2.4" height="1.4"/><rect x="1053.8" y="492.5" width="1.3" height="1.4"/><rect x="1052.4" y="492.1" width="1.3" height="1.4"/><rect x="1064.2" y="494.4" width="12.3" height="2.2"/><rect x="1075.3" y="492.5" width="1.2" height="1.4"/><rect x="1072.3" y="498.2" width="1.4" height="1.4"/><rect x="1069.9" y="492.2" width="1.3" height="1.4"/><rect x="1080.5" y="493.2" width="12.2" height="5.2"/><rect x="1092.7" y="492.4" width="12.2" height="5.6"/><rect x="1104.9" y="492.5" width="10.1" height="5.4"/><rect x="1115.0" y="493.0" width="9.8" height="4.9"/><rect x="1124.8" y="492.7" width="2.7" height="5.4"/><rect x="1082.4" y="498.6" width="2.5" height="1.4"/><rect x="1121.4" y="499.5" width="1.7" height="1.4"/><rect x="1089.1" y="498.6" width="2.2" height="1.4"/><rect x="1092.5" y="492.4" width="1.5" height="1.4"/><rect x="1100.7" y="499.3" width="1.5" height="1.4"/><rect x="1117.0" y="491.3" width="1.9" height="1.4"/><rect x="1105.0" y="492.1" width="2.0" height="1.4"/><rect x="1114.2" y="491.3" width="1.9" height="1.4"/><rect x="1100.9" y="499.7" width="1.9" height="1.4"/><rect x="1093.9" y="491.8" width="1.3" height="1.4"/><rect x="1109.9" y="500.2" width="1.3" height="1.4"/><rect x="1130.5" y="494.3" width="4.3" height="2.1"/><rect x="1134.8" y="494.1" width="1.7" height="2.4"/><rect x="1133.0" y="493.3" width="2.2" height="1.4"/><rect x="1137.5" y="492.3" width="2.0" height="2.0"/><rect x="1143.5" y="496.0" width="10.6" height="2.1"/><rect x="1154.1" y="495.7" width="4.1" height="2.2"/><rect x="1148.1" y="495.2" width="1.8" height="1.4"/><rect x="1156.2" y="494.1" width="2.4" height="1.4"/><rect x="1145.7" y="494.9" width="1.2" height="1.4"/><rect x="1039.5" y="501.9" width="7.2" height="2.2"/><rect x="1046.7" y="501.8" width="0.8" height="2.8"/><rect x="1042.3" y="499.7" width="2.3" height="1.4"/><rect x="1047.1" y="505.7" width="1.5" height="1.4"/><rect x="1050.2" y="504.6" width="6.5" height="1.7"/><rect x="1056.7" y="504.6" width="3.5" height="1.6"/><rect x="1057.6" y="502.4" width="1.3" height="1.4"/><rect x="1058.8" y="502.7" width="2.3" height="1.4"/><rect x="1070.2" y="502.4" width="2.6" height="1.6"/><rect x="1084.5" y="502.7" width="3.0" height="1.7"/><rect x="1099.5" y="502.4" width="4.6" height="1.4"/><rect x="1104.1" y="502.7" width="4.4" height="1.7"/><rect x="1099.8" y="506.6" width="2.0" height="1.4"/><rect x="1101.1" y="500.6" width="2.2" height="1.4"/><rect x="1116.5" y="502.1" width="3.0" height="1.9"/><rect x="1131.5" y="502.3" width="3.0" height="1.9"/><rect x="1138.2" y="500.6" width="11.2" height="5.4"/><rect x="1149.4" y="500.7" width="5.9" height="5.2"/><rect x="1155.3" y="501.1" width="5.2" height="5.0"/><rect x="1152.8" y="499.6" width="1.2" height="1.4"/><rect x="1155.9" y="507.9" width="1.3" height="1.4"/><rect x="1144.4" y="499.2" width="1.4" height="1.4"/><rect x="1145.8" y="506.6" width="2.4" height="1.4"/><rect x="1155.7" y="507.3" width="2.2" height="1.4"/><rect x="1038.5" y="507.8" width="5.0" height="2.2"/><rect x="1038.6" y="505.2" width="1.8" height="1.4"/><rect x="1046.5" y="508.0" width="4.0" height="2.0"/><rect x="1047.5" y="512.2" width="2.0" height="1.4"/><rect x="1063.5" y="507.5" width="4.0" height="2.4"/><rect x="1067.3" y="506.3" width="1.2" height="1.4"/><rect x="1070.2" y="507.6" width="2.6" height="2.2"/><rect x="1076.2" y="508.2" width="6.0" height="1.6"/><rect x="1078.7" y="511.8" width="1.9" height="1.4"/><rect x="1146.3" y="511.8" width="2.3" height="1.4"/><rect x="1050.2" y="511.9" width="2.6" height="1.8"/><rect x="1139.5" y="511.4" width="5.0" height="4.2"/><rect x="1142.1" y="517.0" width="2.1" height="1.4"/><rect x="1147.5" y="511.6" width="3.0" height="1.6"/><rect x="1153.5" y="511.6" width="4.0" height="2.6"/><rect x="1157.5" y="511.6" width="3.0" height="2.5"/><rect x="1157.0" y="509.7" width="1.9" height="1.4"/><rect x="1055.5" y="513.6" width="8.2" height="1.3"/><rect x="1063.7" y="513.8" width="8.8" height="1.4"/><rect x="1072.5" y="513.7" width="0.3" height="1.5"/><rect x="1065.6" y="511.6" width="2.2" height="1.4"/><rect x="1055.6" y="516.4" width="2.0" height="1.4"/><rect x="1058.8" y="512.1" width="1.8" height="1.4"/><rect x="1057.0" y="517.2" width="1.5" height="1.4"/><rect x="1064.2" y="515.9" width="3.3" height="4.9"/><rect x="1067.5" y="519.4" width="12.9" height="1.6"/><rect x="1080.4" y="519.4" width="5.1" height="1.7"/><rect x="1078.2" y="522.6" width="1.6" height="1.4"/><rect x="1072.1" y="523.2" width="1.6" height="1.4"/><rect x="1080.5" y="522.8" width="2.3" height="1.4"/><rect x="1069.8" y="518.2" width="2.1" height="1.4"/><rect x="1087.5" y="517.7" width="5.7" height="2.0"/><rect x="1100.9" y="518.1" width="0.6" height="1.8"/><rect x="1096.7" y="521.0" width="2.4" height="1.4"/><rect x="1092.5" y="522.0" width="2.4" height="1.4"/><rect x="1097.1" y="515.7" width="1.6" height="1.4"/><rect x="1103.5" y="516.3" width="4.3" height="2.3"/><rect x="1107.8" y="516.7" width="4.3" height="1.6"/><rect x="1112.0" y="516.7" width="5.5" height="2.1"/><rect x="1113.4" y="514.0" width="2.4" height="1.4"/><rect x="1110.7" y="514.4" width="1.3" height="1.4"/><rect x="1104.4" y="514.7" width="2.0" height="1.4"/><rect x="1119.5" y="518.5" width="4.9" height="2.4"/><rect x="1124.4" y="518.3" width="8.0" height="2.1"/><rect x="1132.4" y="518.1" width="3.1" height="2.4"/><rect x="1134.7" y="517.6" width="1.5" height="1.4"/><rect x="1122.2" y="521.8" width="1.8" height="1.4"/><rect x="1125.7" y="516.1" width="1.8" height="1.4"/><rect x="1127.8" y="516.8" width="1.5" height="1.4"/><rect x="1138.5" y="516.2" width="4.0" height="2.1"/><rect x="1141.3" y="520.2" width="1.4" height="1.4"/><rect x="1144.5" y="519.2" width="7.1" height="1.9"/><rect x="1151.6" y="518.6" width="8.9" height="2.4"/><rect x="1148.4" y="516.4" width="2.0" height="1.4"/><rect x="1159.6" y="516.6" width="1.6" height="1.4"/><rect x="1155.7" y="516.8" width="2.3" height="1.4"/><rect x="1154.5" y="518.2" width="2.1" height="1.4"/><rect x="1039.5" y="522.2" width="9.2" height="3.4"/><rect x="1048.7" y="522.1" width="9.9" height="3.7"/><rect x="1058.6" y="521.6" width="2.9" height="3.6"/><rect x="1061.1" y="521.5" width="2.2" height="1.4"/><rect x="1045.6" y="521.4" width="2.0" height="1.4"/><rect x="1058.3" y="527.3" width="2.1" height="1.4"/><rect x="1059.1" y="521.1" width="1.9" height="1.4"/><rect x="1057.5" y="526.5" width="1.7" height="1.4"/><rect x="1140.5" y="523.1" width="11.4" height="2.3"/><rect x="1151.9" y="523.3" width="8.6" height="2.6"/><rect x="1141.5" y="520.9" width="1.2" height="1.4"/><rect x="1149.8" y="527.3" width="2.2" height="1.4"/><rect x="1141.0" y="526.6" width="1.9" height="1.4"/><rect x="1141.9" y="520.9" width="1.6" height="1.4"/><rect x="1140.5" y="521.4" width="1.5" height="1.4"/><rect x="1082.2" y="528.7" width="5.2" height="1.3"/><rect x="1087.4" y="528.6" width="2.8" height="1.9"/><rect x="1084.4" y="527.8" width="1.9" height="1.4"/><rect x="1086.7" y="531.6" width="1.2" height="1.4"/><rect x="1105.5" y="528.6" width="12.5" height="1.4"/><rect x="1118.0" y="528.2" width="2.5" height="1.6"/><rect x="1109.2" y="526.5" width="1.6" height="1.4"/><rect x="1118.9" y="526.8" width="1.8" height="1.4"/><rect x="1114.1" y="531.9" width="1.9" height="1.4"/><rect x="1128.5" y="528.5" width="5.7" height="1.4"/><rect x="1134.2" y="528.3" width="5.3" height="1.8"/><rect x="1130.7" y="531.2" width="2.2" height="1.4"/><rect x="1129.8" y="526.5" width="1.9" height="1.4"/><rect x="1038.5" y="533.9" width="9.2" height="5.0"/><rect x="1047.7" y="534.3" width="7.5" height="4.3"/><rect x="1055.3" y="534.1" width="5.3" height="4.8"/><rect x="1068.3" y="533.7" width="5.1" height="5.0"/><rect x="1073.4" y="534.6" width="9.3" height="4.4"/><rect x="1082.7" y="534.3" width="9.4" height="4.8"/><rect x="1092.2" y="534.4" width="9.1" height="4.8"/><rect x="1101.2" y="534.3" width="6.0" height="5.1"/><rect x="1107.2" y="534.4" width="10.0" height="4.9"/><rect x="1117.2" y="534.4" width="6.8" height="4.5"/><rect x="1124.0" y="534.5" width="9.1" height="4.6"/><rect x="1133.1" y="534.2" width="7.4" height="4.5"/><rect x="1073.5" y="539.6" width="1.5" height="1.4"/><rect x="1070.9" y="541.0" width="1.6" height="1.4"/><rect x="1076.2" y="540.9" width="1.7" height="1.4"/><rect x="1112.2" y="532.1" width="1.2" height="1.4"/><rect x="1127.8" y="540.3" width="1.2" height="1.4"/><rect x="1131.8" y="533.6" width="2.4" height="1.4"/><rect x="1090.5" y="540.6" width="1.2" height="1.4"/><rect x="1107.7" y="539.7" width="1.3" height="1.4"/><rect x="1131.9" y="532.0" width="1.5" height="1.4"/><rect x="1112.6" y="532.2" width="1.7" height="1.4"/><rect x="1086.0" y="539.7" width="1.2" height="1.4"/><rect x="1118.3" y="541.1" width="1.7" height="1.4"/><rect x="1058.4" y="532.7" width="2.5" height="1.4"/><rect x="1119.3" y="532.1" width="1.7" height="1.4"/><rect x="1068.8" y="541.1" width="2.1" height="1.4"/><rect x="1138.5" y="540.1" width="1.6" height="1.4"/><rect x="1044.4" y="540.7" width="2.2" height="1.4"/><rect x="1061.6" y="533.1" width="1.3" height="1.4"/><rect x="1082.6" y="541.1" width="2.2" height="1.4"/><rect x="1131.5" y="533.5" width="1.6" height="1.4"/><rect x="1126.4" y="533.1" width="1.3" height="1.4"/><rect x="1040.2" y="532.5" width="1.7" height="1.4"/><rect x="1073.6" y="532.2" width="1.3" height="1.4"/><rect x="1041.6" y="533.6" width="1.3" height="1.4"/><rect x="1106.2" y="539.4" width="1.7" height="1.4"/><rect x="1140.5" y="537.3" width="4.7" height="1.7"/><rect x="1145.2" y="537.3" width="11.8" height="2.0"/><rect x="1158.6" y="541.3" width="2.0" height="1.4"/><rect x="1155.9" y="534.6" width="2.1" height="1.4"/><rect x="1144.6" y="534.8" width="1.9" height="1.4"/><rect x="1154.8" y="541.4" width="1.7" height="1.4"/><rect x="1157.4" y="534.3" width="1.3" height="1.4"/><rect x="1066.5" y="540.3" width="6.8" height="2.6"/><rect x="1073.3" y="540.0" width="8.2" height="2.5"/><rect x="1081.5" y="540.2" width="0.0" height="2.6"/><rect x="1067.6" y="545.3" width="1.4" height="1.4"/><rect x="1081.2" y="545.1" width="2.4" height="1.4"/><rect x="1068.2" y="538.0" width="2.2" height="1.4"/><rect x="1089.5" y="539.9" width="6.0" height="2.6"/><rect x="1095.5" y="540.6" width="8.0" height="2.4"/><rect x="1102.0" y="545.3" width="2.0" height="1.4"/><rect x="1098.6" y="538.9" width="2.5" height="1.4"/><rect x="1098.9" y="537.6" width="2.2" height="1.4"/><rect x="1108.5" y="540.3" width="10.0" height="3.5"/><rect x="1118.5" y="540.0" width="6.0" height="3.9"/><rect x="1124.5" y="539.9" width="10.5" height="3.8"/><rect x="1135.0" y="540.1" width="5.5" height="3.9"/><rect x="1121.5" y="538.4" width="2.1" height="1.4"/><rect x="1127.5" y="538.2" width="1.8" height="1.4"/><rect x="1138.7" y="544.8" width="1.5" height="1.4"/><rect x="1131.3" y="544.4" width="1.9" height="1.4"/><rect x="1130.5" y="537.9" width="2.3" height="1.4"/><rect x="1126.3" y="538.8" width="2.1" height="1.4"/><rect x="1131.6" y="544.9" width="1.7" height="1.4"/><rect x="1126.5" y="545.7" width="2.0" height="1.4"/><rect x="1060.5" y="545.2" width="9.0" height="2.6"/><rect x="1069.5" y="543.4" width="2.0" height="1.4"/><rect x="1060.8" y="548.6" width="1.9" height="1.4"/><rect x="1073.5" y="545.2" width="6.1" height="2.7"/><rect x="1079.6" y="545.6" width="7.9" height="2.3"/><rect x="1085.2" y="550.3" width="1.9" height="1.4"/><rect x="1078.1" y="550.2" width="2.2" height="1.4"/><rect x="1085.2" y="542.8" width="1.4" height="1.4"/><rect x="1095.5" y="545.1" width="8.4" height="2.2"/><rect x="1103.9" y="544.7" width="7.9" height="2.3"/><rect x="1111.8" y="544.9" width="4.7" height="2.1"/><rect x="1099.4" y="548.2" width="1.7" height="1.4"/><rect x="1098.1" y="542.2" width="2.0" height="1.4"/><rect x="1110.2" y="542.3" width="1.4" height="1.4"/><rect x="1102.8" y="542.2" width="2.0" height="1.4"/><rect x="1112.0" y="542.9" width="1.6" height="1.4"/><rect x="1121.5" y="544.9" width="8.9" height="2.5"/><rect x="1130.4" y="544.4" width="6.8" height="2.7"/><rect x="1137.2" y="544.9" width="2.3" height="2.0"/><rect x="1130.8" y="548.1" width="1.6" height="1.4"/><rect x="1137.7" y="543.9" width="1.4" height="1.4"/><rect x="1126.2" y="542.8" width="2.4" height="1.4"/><rect x="1130.0" y="548.8" width="2.4" height="1.4"/><rect x="1038.5" y="549.2" width="7.9" height="2.1"/><rect x="1046.4" y="549.0" width="8.9" height="2.3"/><rect x="1055.3" y="549.3" width="4.3" height="2.6"/><rect x="1059.6" y="549.2" width="12.1" height="2.1"/><rect x="1071.8" y="549.8" width="11.2" height="2.0"/><rect x="1094.7" y="549.6" width="10.9" height="2.0"/><rect x="1105.6" y="549.3" width="5.8" height="2.0"/><rect x="1111.4" y="549.5" width="7.8" height="2.0"/><rect x="1132.0" y="549.2" width="8.5" height="2.7"/><rect x="1087.6" y="547.1" width="1.5" height="1.4"/><rect x="1085.4" y="548.2" width="1.4" height="1.4"/><rect x="1082.2" y="553.0" width="2.4" height="1.4"/><rect x="1101.7" y="548.2" width="1.2" height="1.4"/><rect x="1043.9" y="547.0" width="2.2" height="1.4"/><rect x="1096.7" y="547.8" width="2.3" height="1.4"/><rect x="1107.3" y="547.3" width="2.4" height="1.4"/><rect x="1079.7" y="546.8" width="2.4" height="1.4"/><rect x="1041.0" y="554.0" width="1.7" height="1.4"/><rect x="1050.9" y="547.3" width="2.3" height="1.4"/><rect x="1068.7" y="546.7" width="1.9" height="1.4"/><rect x="1119.2" y="553.5" width="1.8" height="1.4"/><rect x="1098.0" y="554.1" width="2.0" height="1.4"/><rect x="1102.3" y="547.0" width="1.7" height="1.4"/><rect x="1096.5" y="554.1" width="2.1" height="1.4"/><rect x="1054.4" y="553.5" width="1.3" height="1.4"/><rect x="1063.2" y="548.4" width="1.4" height="1.4"/><rect x="1050.5" y="547.1" width="1.8" height="1.4"/><rect x="1072.2" y="553.9" width="1.7" height="1.4"/><rect x="1099.5" y="548.1" width="1.3" height="1.4"/><rect x="1111.4" y="547.1" width="2.2" height="1.4"/><rect x="1083.1" y="552.9" width="2.4" height="1.4"/><rect x="1083.8" y="552.7" width="1.2" height="1.4"/><rect x="1050.6" y="554.3" width="2.1" height="1.4"/><rect x="1107.9" y="546.6" width="1.8" height="1.4"/><rect x="1149.5" y="553.6" width="2.0" height="1.8"/><rect x="1155.5" y="554.1" width="3.0" height="1.8"/><rect x="1046.5" y="558.2" width="9.9" height="2.3"/><rect x="1056.4" y="558.1" width="4.3" height="2.7"/><rect x="1060.8" y="558.6" width="5.3" height="2.4"/><rect x="1066.1" y="558.8" width="9.5" height="2.0"/><rect x="1075.6" y="558.4" width="9.3" height="2.2"/><rect x="1084.9" y="558.1" width="6.6" height="2.6"/><rect x="1053.4" y="563.2" width="2.3" height="1.4"/><rect x="1076.6" y="556.1" width="1.2" height="1.4"/><rect x="1050.6" y="556.6" width="1.5" height="1.4"/><rect x="1075.6" y="556.5" width="1.5" height="1.4"/><rect x="1090.6" y="563.1" width="2.4" height="1.4"/><rect x="1051.9" y="561.6" width="2.0" height="1.4"/><rect x="1084.5" y="556.7" width="2.5" height="1.4"/><rect x="1080.5" y="556.0" width="1.7" height="1.4"/><rect x="1052.6" y="557.5" width="1.3" height="1.4"/><rect x="1054.3" y="562.1" width="1.5" height="1.4"/><rect x="1066.9" y="561.6" width="2.0" height="1.4"/><rect x="1097.5" y="558.2" width="6.2" height="2.7"/><rect x="1103.7" y="557.8" width="6.7" height="2.8"/><rect x="1116.9" y="558.2" width="7.0" height="2.1"/><rect x="1123.9" y="558.1" width="11.0" height="2.7"/><rect x="1107.7" y="556.9" width="1.5" height="1.4"/><rect x="1113.7" y="562.0" width="2.5" height="1.4"/><rect x="1131.1" y="555.6" width="1.7" height="1.4"/><rect x="1125.6" y="562.5" width="1.5" height="1.4"/><rect x="1111.5" y="557.5" width="1.9" height="1.4"/><rect x="1104.7" y="555.9" width="1.3" height="1.4"/><rect x="1119.5" y="563.3" width="1.6" height="1.4"/><rect x="1128.7" y="557.4" width="1.5" height="1.4"/><rect x="1101.3" y="556.4" width="2.3" height="1.4"/><rect x="1097.6" y="557.0" width="2.2" height="1.4"/><rect x="1147.6" y="558.8" width="2.9" height="2.1"/><rect x="1147.0" y="555.6" width="2.4" height="1.4"/><rect x="1146.0" y="561.9" width="2.1" height="1.4"/><rect x="1051.5" y="561.5" width="4.2" height="4.1"/><rect x="1055.7" y="561.6" width="10.1" height="4.0"/><rect x="1065.8" y="561.3" width="12.5" height="4.1"/><rect x="1078.4" y="561.2" width="4.5" height="4.0"/><rect x="1082.8" y="561.0" width="6.7" height="4.6"/><rect x="1067.1" y="567.4" width="1.3" height="1.4"/><rect x="1059.3" y="559.0" width="1.8" height="1.4"/><rect x="1081.4" y="560.5" width="1.6" height="1.4"/><rect x="1055.0" y="566.1" width="1.5" height="1.4"/><rect x="1052.4" y="567.8" width="2.1" height="1.4"/><rect x="1068.1" y="567.0" width="2.1" height="1.4"/><rect x="1061.4" y="559.2" width="2.1" height="1.4"/><rect x="1059.4" y="567.4" width="1.5" height="1.4"/><rect x="1076.9" y="567.7" width="2.0" height="1.4"/><rect x="1095.5" y="562.2" width="10.0" height="3.3"/><rect x="1105.5" y="561.9" width="11.0" height="3.9"/><rect x="1116.6" y="562.2" width="2.9" height="3.6"/><rect x="1104.9" y="559.9" width="1.3" height="1.4"/><rect x="1104.4" y="567.6" width="1.5" height="1.4"/><rect x="1108.6" y="566.9" width="2.2" height="1.4"/><rect x="1112.3" y="561.0" width="2.3" height="1.4"/><rect x="1111.4" y="559.8" width="2.1" height="1.4"/><rect x="1099.6" y="559.8" width="1.3" height="1.4"/><rect x="1131.5" y="561.5" width="6.1" height="3.9"/><rect x="1137.6" y="561.3" width="10.0" height="4.6"/><rect x="1144.4" y="559.8" width="1.4" height="1.4"/><rect x="1139.8" y="560.2" width="1.8" height="1.4"/><rect x="1146.4" y="560.6" width="1.4" height="1.4"/><rect x="1132.8" y="560.2" width="2.0" height="1.4"/><rect x="1152.5" y="558.5" width="8.0" height="1.5"/><rect x="1153.5" y="561.0" width="1.3" height="1.4"/><rect x="1155.5" y="557.6" width="1.3" height="1.4"/><rect x="1152.5" y="564.0" width="8.0" height="1.3"/><rect x="1155.6" y="567.4" width="2.4" height="1.4"/><rect x="1158.4" y="562.5" width="1.6" height="1.4"/><rect x="1038.5" y="569.8" width="7.0" height="2.6"/><rect x="1045.5" y="569.9" width="11.7" height="2.1"/><rect x="1057.1" y="569.6" width="9.0" height="2.7"/><rect x="1073.4" y="569.8" width="11.1" height="2.3"/><rect x="1084.5" y="569.9" width="12.1" height="2.3"/><rect x="1096.6" y="569.5" width="8.1" height="2.5"/><rect x="1111.3" y="569.1" width="5.2" height="2.7"/><rect x="1128.4" y="569.7" width="5.9" height="2.4"/><rect x="1134.4" y="569.4" width="5.6" height="2.3"/><rect x="1140.0" y="569.4" width="2.5" height="2.8"/><rect x="1071.4" y="568.3" width="1.2" height="1.4"/><rect x="1103.2" y="573.7" width="1.7" height="1.4"/><rect x="1043.9" y="573.6" width="2.2" height="1.4"/><rect x="1073.8" y="568.5" width="1.9" height="1.4"/><rect x="1111.4" y="572.9" width="2.2" height="1.4"/><rect x="1082.8" y="567.7" width="2.3" height="1.4"/><rect x="1104.2" y="567.5" width="2.4" height="1.4"/><rect x="1072.3" y="573.5" width="1.8" height="1.4"/><rect x="1126.4" y="573.0" width="2.4" height="1.4"/><rect x="1119.8" y="568.1" width="1.7" height="1.4"/><rect x="1051.2" y="568.1" width="2.1" height="1.4"/><rect x="1073.7" y="573.9" width="2.3" height="1.4"/><rect x="1099.1" y="568.6" width="1.8" height="1.4"/><rect x="1045.1" y="573.3" width="1.3" height="1.4"/><rect x="1065.3" y="568.1" width="1.4" height="1.4"/><rect x="1126.1" y="573.0" width="2.2" height="1.4"/><rect x="1052.1" y="572.8" width="2.2" height="1.4"/><rect x="1065.1" y="573.2" width="1.9" height="1.4"/><rect x="1119.5" y="567.2" width="2.4" height="1.4"/><rect x="1123.9" y="568.0" width="2.0" height="1.4"/><rect x="1049.1" y="573.4" width="1.8" height="1.4"/><rect x="1130.5" y="573.9" width="1.8" height="1.4"/><rect x="1112.5" y="574.1" width="1.7" height="1.4"/><rect x="1135.3" y="574.3" width="1.7" height="1.4"/><rect x="1107.4" y="573.6" width="2.0" height="1.4"/><rect x="1121.2" y="572.9" width="1.5" height="1.4"/><rect x="1145.5" y="570.6" width="3.0" height="1.4"/><rect x="1153.5" y="570.1" width="3.0" height="1.9"/><rect x="1038.5" y="579.5" width="12.9" height="2.6"/><rect x="1051.4" y="579.4" width="1.1" height="2.8"/><rect x="1048.4" y="578.0" width="2.3" height="1.4"/><rect x="1047.8" y="584.0" width="1.4" height="1.4"/><rect x="1046.2" y="583.3" width="2.2" height="1.4"/><rect x="1058.5" y="579.5" width="11.6" height="2.7"/><rect x="1070.1" y="579.7" width="5.4" height="2.8"/><rect x="1069.5" y="583.0" width="1.2" height="1.4"/><rect x="1073.8" y="577.2" width="2.0" height="1.4"/><rect x="1070.5" y="584.1" width="2.3" height="1.4"/><rect x="1059.7" y="578.2" width="2.3" height="1.4"/><rect x="1082.2" y="579.5" width="9.8" height="2.3"/><rect x="1092.0" y="580.0" width="6.7" height="2.1"/><rect x="1098.7" y="580.0" width="6.8" height="2.2"/><rect x="1086.2" y="578.2" width="2.1" height="1.4"/><rect x="1091.2" y="584.4" width="2.5" height="1.4"/><rect x="1096.0" y="578.4" width="1.2" height="1.4"/><rect x="1096.6" y="578.5" width="1.3" height="1.4"/><rect x="1104.0" y="578.6" width="2.2" height="1.4"/><rect x="1114.2" y="580.1" width="11.3" height="2.0"/><rect x="1125.5" y="579.9" width="5.6" height="2.1"/><rect x="1131.1" y="579.8" width="7.1" height="2.1"/><rect x="1115.1" y="584.4" width="1.5" height="1.4"/><rect x="1126.2" y="583.9" width="2.5" height="1.4"/><rect x="1135.0" y="577.6" width="1.8" height="1.4"/><rect x="1123.6" y="579.0" width="2.1" height="1.4"/><rect x="1135.0" y="583.9" width="1.4" height="1.4"/><rect x="1116.4" y="578.1" width="1.8" height="1.4"/><rect x="1139.5" y="580.7" width="11.8" height="2.1"/><rect x="1151.3" y="580.8" width="9.2" height="2.7"/><rect x="1157.2" y="584.1" width="1.5" height="1.4"/><rect x="1157.7" y="578.6" width="1.4" height="1.4"/><rect x="1144.4" y="579.4" width="2.4" height="1.4"/><rect x="1156.1" y="578.8" width="1.5" height="1.4"/><rect x="1142.2" y="579.1" width="1.8" height="1.4"/><rect x="1038.5" y="588.1" width="12.9" height="2.1"/><rect x="1051.4" y="587.8" width="5.7" height="2.1"/><rect x="1057.0" y="588.2" width="4.2" height="2.1"/><rect x="1061.2" y="587.8" width="6.3" height="2.1"/><rect x="1065.6" y="585.6" width="1.7" height="1.4"/><rect x="1065.2" y="586.7" width="2.5" height="1.4"/><rect x="1043.6" y="586.1" width="1.7" height="1.4"/><rect x="1041.6" y="586.6" width="1.5" height="1.4"/><rect x="1039.6" y="592.6" width="1.9" height="1.4"/><rect x="1057.9" y="587.2" width="1.7" height="1.4"/><rect x="1054.5" y="585.4" width="2.1" height="1.4"/><rect x="1073.5" y="588.0" width="12.4" height="1.6"/><rect x="1085.9" y="587.9" width="12.5" height="1.9"/><rect x="1098.4" y="587.8" width="3.1" height="2.4"/><rect x="1086.6" y="591.7" width="2.4" height="1.4"/><rect x="1097.5" y="586.3" width="2.2" height="1.4"/><rect x="1081.3" y="586.0" width="1.5" height="1.4"/><rect x="1094.4" y="586.5" width="1.2" height="1.4"/><rect x="1087.3" y="592.6" width="2.4" height="1.4"/><rect x="1091.6" y="591.9" width="1.4" height="1.4"/><rect x="1091.1" y="591.5" width="2.5" height="1.4"/><rect x="1104.5" y="588.1" width="12.5" height="2.2"/><rect x="1117.0" y="588.2" width="0.5" height="2.3"/><rect x="1108.8" y="586.2" width="1.5" height="1.4"/><rect x="1115.6" y="585.3" width="1.6" height="1.4"/><rect x="1115.4" y="591.8" width="1.2" height="1.4"/><rect x="1121.5" y="587.8" width="8.3" height="1.8"/><rect x="1129.8" y="587.7" width="4.0" height="2.0"/><rect x="1133.8" y="587.8" width="3.7" height="2.1"/><rect x="1124.2" y="592.1" width="1.4" height="1.4"/><rect x="1125.6" y="585.3" width="1.6" height="1.4"/><rect x="1134.5" y="591.4" width="1.4" height="1.4"/><rect x="1123.0" y="591.6" width="1.9" height="1.4"/><rect x="1140.5" y="588.1" width="12.8" height="2.4"/><rect x="1153.3" y="588.4" width="6.4" height="1.9"/><rect x="1159.7" y="588.0" width="0.8" height="2.4"/><rect x="1153.4" y="592.3" width="2.4" height="1.4"/><rect x="1158.6" y="585.5" width="2.3" height="1.4"/><rect x="1145.4" y="592.1" width="1.7" height="1.4"/><rect x="1145.3" y="592.7" width="1.3" height="1.4"/><rect x="1152.3" y="587.1" width="2.4" height="1.4"/><rect x="1067.5" y="594.0" width="9.0" height="1.7"/><rect x="1075.2" y="596.8" width="1.8" height="1.4"/><rect x="1069.6" y="591.8" width="2.1" height="1.4"/><rect x="1082.2" y="593.5" width="2.6" height="1.8"/><rect x="1088.2" y="593.5" width="6.0" height="1.9"/><rect x="1089.0" y="591.8" width="2.2" height="1.4"/><rect x="1097.5" y="593.6" width="2.7" height="1.6"/><rect x="1105.5" y="593.9" width="3.0" height="1.9"/><rect x="1113.5" y="593.8" width="4.0" height="2.1"/><rect x="1114.7" y="591.5" width="2.4" height="1.4"/><rect x="1120.5" y="593.7" width="3.0" height="2.0"/><rect x="1135.5" y="593.8" width="3.0" height="2.0"/><rect x="1142.5" y="594.7" width="5.0" height="2.3"/><rect x="1145.3" y="598.3" width="1.4" height="1.4"/><rect x="1147.5" y="592.7" width="8.4" height="2.3"/><rect x="1155.9" y="593.5" width="4.6" height="1.6"/><rect x="1153.1" y="597.6" width="2.0" height="1.4"/><rect x="1151.0" y="596.8" width="2.2" height="1.4"/><rect x="1159.3" y="591.7" width="2.2" height="1.4"/><rect x="1151.5" y="598.9" width="4.8" height="1.7"/><rect x="1156.3" y="599.5" width="4.2" height="1.4"/><rect x="1158.7" y="601.9" width="1.3" height="1.4"/><rect x="1152.4" y="603.0" width="1.7" height="1.4"/><rect x="1091.5" y="598.8" width="3.0" height="1.8"/><rect x="1039.5" y="603.5" width="6.0" height="2.6"/><rect x="1040.9" y="602.3" width="2.5" height="1.4"/><rect x="1050.6" y="602.1" width="1.7" height="1.4"/><rect x="1056.5" y="603.4" width="7.0" height="2.7"/><rect x="1057.9" y="602.2" width="1.5" height="1.4"/><rect x="1074.2" y="605.3" width="9.3" height="2.0"/><rect x="1083.5" y="604.9" width="11.4" height="2.5"/><rect x="1094.9" y="605.0" width="4.1" height="2.4"/><rect x="1099.0" y="604.8" width="9.5" height="2.6"/><rect x="1108.5" y="604.9" width="8.6" height="2.7"/><rect x="1117.1" y="604.6" width="10.4" height="2.4"/><rect x="1103.8" y="609.1" width="1.9" height="1.4"/><rect x="1093.0" y="602.9" width="2.5" height="1.4"/><rect x="1107.1" y="603.9" width="1.4" height="1.4"/><rect x="1087.4" y="608.3" width="1.5" height="1.4"/><rect x="1093.7" y="603.6" width="2.0" height="1.4"/><rect x="1125.2" y="608.2" width="1.4" height="1.4"/><rect x="1091.1" y="608.9" width="2.5" height="1.4"/><rect x="1125.2" y="603.6" width="1.8" height="1.4"/><rect x="1097.4" y="603.5" width="2.4" height="1.4"/><rect x="1104.0" y="609.7" width="1.3" height="1.4"/><rect x="1097.6" y="609.4" width="1.8" height="1.4"/><rect x="1118.2" y="609.4" width="2.4" height="1.4"/><rect x="1118.0" y="603.3" width="2.2" height="1.4"/><rect x="1128.5" y="604.9" width="9.1" height="2.8"/><rect x="1137.6" y="604.7" width="10.8" height="2.7"/><rect x="1148.4" y="605.0" width="4.3" height="2.0"/><rect x="1152.7" y="604.9" width="4.6" height="2.5"/><rect x="1157.2" y="605.1" width="3.3" height="2.1"/><rect x="1132.6" y="603.7" width="1.6" height="1.4"/><rect x="1146.0" y="608.4" width="1.3" height="1.4"/><rect x="1158.7" y="602.4" width="2.3" height="1.4"/><rect x="1147.2" y="602.2" width="1.3" height="1.4"/><rect x="1158.1" y="603.7" width="1.4" height="1.4"/><rect x="1158.4" y="608.4" width="1.3" height="1.4"/><rect x="1148.4" y="603.8" width="2.4" height="1.4"/><rect x="1148.5" y="608.4" width="1.3" height="1.4"/><rect x="1039.5" y="608.6" width="8.0" height="1.9"/><rect x="1047.5" y="608.8" width="2.0" height="1.6"/><rect x="1041.9" y="606.2" width="2.1" height="1.4"/><rect x="1047.8" y="607.3" width="1.8" height="1.4"/><rect x="1062.2" y="613.8" width="10.4" height="2.3"/><rect x="1072.6" y="613.9" width="6.7" height="2.5"/><rect x="1079.3" y="614.4" width="12.4" height="2.0"/><rect x="1091.7" y="614.2" width="9.1" height="2.3"/><rect x="1100.8" y="614.2" width="5.0" height="2.7"/><rect x="1105.8" y="613.9" width="11.4" height="2.5"/><rect x="1117.2" y="614.0" width="12.4" height="2.2"/><rect x="1129.7" y="614.2" width="4.0" height="2.5"/><rect x="1133.7" y="614.5" width="5.1" height="2.3"/><rect x="1087.1" y="618.2" width="1.3" height="1.4"/><rect x="1106.5" y="618.4" width="1.2" height="1.4"/><rect x="1082.4" y="612.5" width="2.4" height="1.4"/><rect x="1112.8" y="612.9" width="2.0" height="1.4"/><rect x="1089.3" y="618.6" width="1.8" height="1.4"/><rect x="1103.8" y="613.2" width="1.2" height="1.4"/><rect x="1129.4" y="612.9" width="1.4" height="1.4"/><rect x="1082.3" y="612.2" width="1.6" height="1.4"/><rect x="1074.5" y="611.9" width="1.5" height="1.4"/><rect x="1118.9" y="612.6" width="1.8" height="1.4"/><rect x="1067.6" y="612.5" width="1.2" height="1.4"/><rect x="1100.1" y="612.5" width="2.2" height="1.4"/><rect x="1111.3" y="619.1" width="1.6" height="1.4"/><rect x="1111.0" y="618.8" width="1.9" height="1.4"/><rect x="1118.2" y="612.2" width="1.9" height="1.4"/><rect x="1137.8" y="617.4" width="2.3" height="1.4"/><rect x="1099.8" y="618.0" width="2.4" height="1.4"/><rect x="1092.4" y="612.7" width="1.6" height="1.4"/><rect x="1138.4" y="618.5" width="1.2" height="1.4"/><rect x="1066.5" y="617.5" width="5.9" height="1.3"/><rect x="1072.4" y="617.7" width="6.1" height="1.8"/><rect x="1071.1" y="620.5" width="2.3" height="1.4"/><rect x="1072.1" y="615.7" width="2.0" height="1.4"/><rect x="1072.0" y="622.0" width="1.3" height="1.4"/><rect x="1105.5" y="617.5" width="7.9" height="1.6"/><rect x="1113.4" y="618.0" width="0.1" height="1.4"/><rect x="1112.5" y="615.1" width="1.9" height="1.4"/><rect x="1108.3" y="616.9" width="2.1" height="1.4"/><rect x="1055.5" y="620.1" width="2.7" height="2.1"/><rect x="1038.5" y="625.1" width="8.7" height="2.2"/><rect x="1047.2" y="625.2" width="5.5" height="2.8"/><rect x="1052.6" y="625.3" width="7.2" height="2.5"/><rect x="1059.8" y="624.9" width="2.4" height="2.4"/><rect x="1047.7" y="630.2" width="1.7" height="1.4"/><rect x="1041.5" y="623.6" width="1.8" height="1.4"/><rect x="1043.6" y="629.2" width="1.4" height="1.4"/><rect x="1061.4" y="624.2" width="1.7" height="1.4"/><rect x="1041.8" y="630.1" width="1.6" height="1.4"/><rect x="1063.5" y="624.7" width="3.0" height="4.3"/><rect x="1073.5" y="624.2" width="4.8" height="2.2"/><rect x="1078.3" y="624.2" width="5.2" height="2.0"/><rect x="1077.7" y="627.3" width="1.2" height="1.4"/><rect x="1073.9" y="627.5" width="1.2" height="1.4"/><rect x="1083.5" y="626.4" width="12.5" height="1.6"/><rect x="1096.0" y="626.0" width="1.5" height="2.2"/><rect x="1086.6" y="630.6" width="2.4" height="1.4"/><rect x="1094.4" y="630.1" width="2.2" height="1.4"/><rect x="1093.2" y="624.7" width="1.2" height="1.4"/><rect x="1097.5" y="622.9" width="2.0" height="6.4"/><rect x="1102.5" y="622.2" width="3.7" height="6.5"/><rect x="1111.5" y="623.1" width="6.0" height="4.1"/><rect x="1113.7" y="628.1" width="1.7" height="1.4"/><rect x="1120.2" y="626.1" width="6.1" height="2.2"/><rect x="1126.3" y="626.1" width="10.3" height="2.2"/><rect x="1136.5" y="626.2" width="4.3" height="2.1"/><rect x="1137.1" y="623.6" width="1.8" height="1.4"/><rect x="1134.4" y="629.1" width="2.0" height="1.4"/><rect x="1122.6" y="623.3" width="1.4" height="1.4"/><rect x="1133.8" y="630.8" width="2.4" height="1.4"/><rect x="1135.1" y="624.8" width="1.4" height="1.4"/><rect x="1150.5" y="622.9" width="3.0" height="1.7"/><rect x="1156.5" y="628.7" width="3.0" height="1.9"/><rect x="1082.2" y="633.6" width="2.6" height="1.8"/><rect x="1102.2" y="634.1" width="2.6" height="1.7"/><rect x="1038.5" y="642.9" width="10.5" height="2.3"/><rect x="1049.0" y="642.8" width="4.9" height="2.4"/><rect x="1053.9" y="642.8" width="1.6" height="2.6"/><rect x="1039.7" y="646.0" width="1.8" height="1.4"/><rect x="1047.9" y="647.1" width="1.6" height="1.4"/><rect x="1054.9" y="647.9" width="1.6" height="1.4"/><rect x="1041.4" y="646.2" width="1.6" height="1.4"/><rect x="1058.5" y="643.1" width="2.5" height="2.2"/><rect x="1064.5" y="642.0" width="5.0" height="2.8"/><rect x="1066.2" y="646.1" width="1.9" height="1.4"/><rect x="1072.5" y="642.7" width="7.7" height="2.2"/><rect x="1080.2" y="642.6" width="10.2" height="2.3"/><rect x="1090.4" y="642.6" width="10.1" height="2.2"/><rect x="1100.6" y="643.1" width="1.6" height="2.0"/><rect x="1097.5" y="640.3" width="1.3" height="1.4"/><rect x="1094.7" y="646.9" width="1.3" height="1.4"/><rect x="1088.5" y="640.8" width="1.5" height="1.4"/><rect x="1082.5" y="640.6" width="1.9" height="1.4"/><rect x="1101.3" y="641.5" width="2.4" height="1.4"/><rect x="1090.4" y="647.8" width="1.8" height="1.4"/><rect x="1078.8" y="647.8" width="1.6" height="1.4"/><rect x="1105.5" y="642.7" width="3.0" height="2.0"/><rect x="1110.5" y="642.3" width="8.0" height="3.7"/><rect x="1118.5" y="642.2" width="6.5" height="3.5"/><rect x="1125.1" y="641.9" width="8.7" height="4.1"/><rect x="1133.8" y="641.8" width="4.2" height="3.8"/><rect x="1138.0" y="642.4" width="0.5" height="3.8"/><rect x="1130.3" y="647.3" width="2.3" height="1.4"/><rect x="1119.4" y="640.4" width="2.3" height="1.4"/><rect x="1132.4" y="647.2" width="2.4" height="1.4"/><rect x="1123.6" y="641.3" width="1.4" height="1.4"/><rect x="1122.4" y="640.0" width="1.7" height="1.4"/><rect x="1127.5" y="640.2" width="2.0" height="1.4"/><rect x="1127.7" y="647.4" width="2.2" height="1.4"/><rect x="1140.5" y="642.5" width="6.1" height="2.4"/><rect x="1146.6" y="642.7" width="7.5" height="2.7"/><rect x="1141.5" y="648.0" width="2.2" height="1.4"/><rect x="1143.1" y="646.2" width="1.6" height="1.4"/><rect x="1147.4" y="647.4" width="1.5" height="1.4"/><rect x="1041.5" y="649.3" width="2.0" height="1.3"/><rect x="1049.5" y="649.4" width="4.0" height="1.8"/><rect x="1053.4" y="647.5" width="2.1" height="1.4"/><rect x="1059.5" y="649.1" width="4.2" height="1.8"/><rect x="1063.7" y="649.3" width="3.8" height="1.5"/><rect x="1063.4" y="652.2" width="1.4" height="1.4"/><rect x="1063.0" y="652.7" width="1.9" height="1.4"/><rect x="1073.5" y="649.3" width="5.9" height="1.9"/><rect x="1079.4" y="649.4" width="0.1" height="1.6"/><rect x="1074.6" y="647.1" width="2.1" height="1.4"/><rect x="1083.5" y="649.4" width="6.0" height="1.6"/><rect x="1086.5" y="648.4" width="1.3" height="1.4"/><rect x="1093.5" y="649.6" width="8.0" height="1.3"/><rect x="1100.4" y="653.2" width="2.0" height="1.4"/><rect x="1096.3" y="648.0" width="1.4" height="1.4"/><rect x="1106.5" y="649.7" width="11.0" height="1.3"/><rect x="1112.5" y="647.6" width="1.9" height="1.4"/><rect x="1116.5" y="651.7" width="2.2" height="1.4"/><rect x="1150.5" y="609.8" width="2" height="2" opacity="0.94"/><rect x="1086.2" y="484.9" width="2" height="2" opacity="0.92"/><rect x="1124.3" y="628.8" width="2" height="2" opacity="0.95"/><rect x="1067.5" y="639.0" width="2" height="2" opacity="0.93"/><rect x="1064.4" y="595.9" width="2" height="2" opacity="0.97"/><rect x="1098.1" y="518.0" width="2" height="2" opacity="0.54"/><rect x="1091.3" y="587.7" width="2" height="2" opacity="0.60"/><rect x="1043.6" y="509.0" width="2" height="2" opacity="0.95"/><rect x="1148.6" y="625.6" width="2" height="2" opacity="0.75"/><rect x="1049.7" y="647.7" width="2" height="2" opacity="0.94"/><rect x="1105.1" y="512.9" width="2" height="2" opacity="0.62"/><rect x="1061.8" y="625.1" width="2" height="2" opacity="0.76"/><rect x="1094.7" y="571.4" width="2" height="2" opacity="0.84"/><rect x="1101.5" y="538.8" width="2" height="2" opacity="0.89"/><rect x="1138.1" y="527.1" width="2" height="2" opacity="0.79"/><rect x="1038.9" y="516.4" width="2" height="2" opacity="0.70"/><rect x="1072.5" y="518.9" width="2" height="2" opacity="0.96"/><rect x="1119.2" y="630.0" width="2" height="2" opacity="0.64"/><rect x="1116.5" y="570.9" width="2" height="2" opacity="0.85"/><rect x="1062.5" y="539.7" width="2" height="2" opacity="0.70"/><rect x="1052.8" y="511.9" width="2" height="2" opacity="0.68"/><rect x="1070.4" y="524.0" width="2" height="2" opacity="0.73"/><rect x="1149.9" y="592.3" width="2" height="2" opacity="0.90"/><rect x="1087.2" y="607.2" width="2" height="2" opacity="0.49"/><rect x="1147.8" y="511.4" width="2" height="2" opacity="0.47"/><rect x="1143.3" y="474.1" width="2" height="2" opacity="0.44"/><rect x="1048.2" y="625.9" width="2" height="2" opacity="0.42"/><rect x="1064.4" y="636.9" width="2" height="2" opacity="0.64"/><rect x="1135.1" y="546.0" width="2" height="2" opacity="0.62"/><rect x="1146.9" y="491.9" width="2" height="2" opacity="0.93"/><rect x="1152.8" y="611.9" width="2" height="2" opacity="0.46"/><rect x="1156.5" y="531.2" width="2" height="2" opacity="0.99"/><rect x="1136.5" y="634.6" width="2" height="2" opacity="0.75"/><rect x="1057.0" y="490.9" width="2" height="2" opacity="0.86"/><rect x="1088.7" y="606.2" width="2" height="2" opacity="0.77"/></g></g><clipPath id="c3"><rect x="1038" y="463" width="124" height="188.5"/></clipPath>
<g stroke="#000" stroke-width="3.8" fill="none" stroke-linecap="butt"><path d="M368.5 435.5H453.6M368.5 678.8H453.6M782.8 435.5H824.1M782.8 678.8H824.1M1008.3 557H1035.6M1162 557H1247.1M1532.5 557H1617.9"/></g>
<g stroke="#000" stroke-width="3.8" fill="none" stroke-linecap="round" stroke-linejoin="round"><path d="M447.0 430.2L453.6 435.5L447.0 440.8M447.0 673.5L453.6 678.8L447.0 684.1M817.5 430.2L824.1 435.5L817.5 440.8M817.5 673.5L824.1 678.8L817.5 684.1M1029.0 551.7L1035.6 557L1029.0 562.3M1240.5 551.7L1247.1 557L1240.5 562.3M1611.3 551.7L1617.9 557L1611.3 562.3"/></g>
<g stroke="#000" stroke-width="3.6" fill="none" stroke-linecap="butt">
<path d="M738 557H782.8M782.8 433.8V680.5"/>
<path d="M888.3 529V584.5M888.3 557H917.5"/>
</g>
<path d="M190.6 410.8V457.2M191.1 409.5V461.7M191.6 408.6V457.7M192.1 409.7V459.2M192.6 411.6V461.8M193.1 409.1V459.1M193.6 417.1V460.5M194.1 418.7V454.4M194.6 417.7V457.8M195.1 420.4V457.5M195.6 420.4V456.9M196.1 421.3V454.4M196.6 417.5V452.5M197.1 417.7V453.9M197.6 421.4V454.6M198.1 419.9V454.7M198.6 422.0V453.1M199.1 423.1V449.7M199.6 423.9V448.9M200.1 424.3V449.7M200.6 423.1V450.0M201.1 423.8V449.4M201.6 422.9V451.2M202.1 423.6V448.0M202.6 422.6V446.5M203.1 420.8V448.1M203.6 420.4V445.4M204.1 422.6V445.9M204.6 422.3V445.1M205.1 423.2V444.1M205.6 424.0V446.5M206.1 423.9V445.3M206.6 423.2V446.6M207.1 423.0V445.1M207.6 423.2V445.7M208.1 422.1V445.3M208.6 421.8V444.1M209.1 422.6V444.7M209.6 422.1V443.7M210.1 422.2V447.1M210.6 419.9V444.7M211.1 421.7V444.2M211.6 421.1V445.9M212.1 418.8V444.9M212.6 419.5V447.6M213.1 420.3V450.0M213.6 418.2V449.3M214.1 419.5V448.4M214.6 418.4V447.9M215.1 419.5V450.7M215.6 417.3V451.1M216.1 418.8V453.0M216.6 419.9V452.1M217.1 419.9V451.9M217.6 417.3V452.4M218.1 416.7V457.0M218.6 412.9V458.0M219.1 414.3V452.8M219.6 412.7V455.3M220.1 407.9V458.0M220.6 410.4V464.9M221.1 404.3V469.9M221.6 405.0V474.9M222.1 392.0V481.0M222.6 390.4V480.4M223.1 390.3V478.6M223.6 385.9V490.4M224.1 391.3V480.4M224.6 377.0V485.6M225.1 390.8V489.1M225.6 386.2V499.7M226.1 380.3V491.6M226.6 388.4V491.7M227.1 381.2V496.3M227.6 377.6V493.7M228.1 375.7V495.4M228.6 379.8V506.0M229.1 376.3V501.8M229.6 381.6V498.0M230.1 374.8V497.9M230.6 379.2V491.2M231.1 375.3V493.2M231.6 378.9V501.8M232.1 380.0V488.5M232.6 378.4V497.2M233.1 383.5V490.3M233.6 384.7V498.7M234.1 378.3V494.3M234.6 377.9V496.6M235.1 387.6V499.7M235.6 386.1V500.3M236.1 386.4V500.7M236.6 387.2V494.5M237.1 387.8V502.6M237.6 385.3V491.6M238.1 375.2V498.7M238.6 385.2V496.0M239.1 376.3V489.1M239.6 385.3V498.8M240.1 380.6V491.3M240.6 383.7V484.0M241.1 389.4V487.3M241.6 390.7V488.6M242.1 392.8V492.3M242.6 380.9V493.2M243.1 393.9V485.4M243.6 382.9V487.9M244.1 391.9V490.8M244.6 381.6V487.5M245.1 392.1V487.7M245.6 397.5V487.7M246.1 397.1V489.4M246.6 389.8V482.0M247.1 397.0V493.1M247.6 400.9V484.3M248.1 402.8V483.0M248.6 401.4V481.2M249.1 407.1V481.5M249.6 406.7V475.5M250.1 407.6V469.9M250.6 409.1V473.8M251.1 409.7V471.8M251.6 406.0V465.7M252.1 409.7V466.0M252.6 413.3V468.3M253.1 413.3V464.1M253.6 411.2V461.5M254.1 413.3V465.8M254.6 412.1V461.3M255.1 416.3V460.0M255.6 417.2V464.7M256.1 415.9V459.9M256.6 416.9V458.5M257.1 416.2V457.3M257.6 412.4V457.2M258.1 416.1V455.5M258.6 411.7V456.4M259.1 412.9V456.8M259.6 410.5V456.6M260.1 413.8V454.4M260.6 414.2V455.9M261.1 414.8V453.5M261.6 413.4V455.3M262.1 415.0V455.0M262.6 417.5V453.4M263.1 415.8V458.1M263.6 417.7V455.4M264.1 415.0V457.0M264.6 415.2V459.4M265.1 416.3V463.2M265.6 416.2V457.0M266.1 411.8V461.2M266.6 411.9V458.6M267.1 415.0V461.9M267.6 411.9V459.5M268.1 412.5V457.5M268.6 409.8V456.8M269.1 404.0V456.4M269.6 404.2V462.2M270.1 405.1V459.3M270.6 405.6V460.9M271.1 403.7V463.4M271.6 402.7V463.9M272.1 402.7V463.6M272.6 402.8V465.7M273.1 400.0V472.3M273.6 404.5V473.6M274.1 402.6V470.6M274.6 407.1V469.4M275.1 403.7V467.8M275.6 403.8V467.8M276.1 402.3V474.9M276.6 396.4V473.0M277.1 396.6V474.6M277.6 397.7V474.3M278.1 395.3V473.1M278.6 398.8V477.3M279.1 396.5V479.7M279.6 399.4V477.7M280.1 392.3V488.3M280.6 397.7V481.6M281.1 400.6V485.6M281.6 402.0V490.0M282.1 390.2V487.0M282.6 399.3V487.1M283.1 399.4V486.9M283.6 397.5V491.7M284.1 394.9V498.2M284.6 395.5V491.7M285.1 390.2V498.1M285.6 387.5V492.4M286.1 387.3V496.6M286.6 382.9V498.2M287.1 372.5V501.7M287.6 384.1V495.4M288.1 367.8V493.7M288.6 382.9V493.3M289.1 385.9V492.2M289.6 375.1V490.7M290.1 387.0V492.3M290.6 384.4V495.9M291.1 388.8V493.7M291.6 390.5V486.1M292.1 391.0V492.0M292.6 390.6V491.7M293.1 390.7V494.9M293.6 395.8V485.7M294.1 394.2V494.0M294.6 385.4V490.3M295.1 397.8V482.9M295.6 389.4V484.1M296.1 395.3V481.3M296.6 381.8V483.4M297.1 388.9V474.9M297.6 391.8V478.4M298.1 393.2V481.4M298.6 395.9V468.2M299.1 389.9V469.5M299.6 398.7V471.9M300.1 404.5V471.7M300.6 396.5V467.1M301.1 401.3V470.9M301.6 398.0V471.0M302.1 401.5V466.5M302.6 402.8V470.4M303.1 405.2V473.0M303.6 404.6V468.5M304.1 409.1V473.5M304.6 407.2V471.7M305.1 409.1V468.4M305.6 409.6V471.2M306.1 408.6V467.8M306.6 406.9V470.1M307.1 408.8V461.6M307.6 407.8V461.2M308.1 408.0V459.3M308.6 411.6V458.6M309.1 407.4V456.5M309.6 413.1V458.0M310.1 414.2V462.3M310.6 412.1V455.1M311.1 414.0V459.4M311.6 417.2V455.2M312.1 419.9V456.9M312.6 417.3V455.7M313.1 420.7V456.0M313.6 421.8V454.5M314.1 420.4V452.9M314.6 422.6V455.6M315.1 423.0V454.6M315.6 423.3V454.2M316.1 423.4V452.3M316.6 423.7V454.5M317.1 422.7V454.2M317.6 423.5V453.4M318.1 422.9V450.7M318.6 422.5V450.5M319.1 421.2V452.5M319.6 421.2V449.4M320.1 419.5V448.3M320.6 419.6V448.4M321.1 419.3V450.3M321.6 416.9V448.2M322.1 417.6V446.5M322.6 417.2V448.7M323.1 418.8V450.2M323.6 418.3V451.6M324.1 416.5V449.3M324.6 413.1V452.3M325.1 416.9V451.7M325.6 415.8V450.6M326.1 414.3V450.0M326.6 415.5V451.1M327.1 412.6V454.0M327.6 414.2V452.4M328.1 411.8V453.0M328.6 412.4V451.7M329.1 411.2V452.7M329.6 408.9V454.3M330.1 406.6V453.7M330.6 410.6V455.7M331.1 409.8V460.9M331.6 410.6V455.4M332.1 410.0V453.7M332.6 408.2V454.1M333.1 413.3V457.9M333.6 411.1V457.0M334.1 412.0V457.8M334.6 408.0V456.3M335.1 406.6V457.7M335.6 410.2V456.9M336.1 411.8V462.3M336.6 408.7V463.0M337.1 408.9V462.3M337.6 412.4V461.0M338.1 414.4V463.9M338.6 410.8V461.6M339.1 407.0V461.4M339.6 406.0V465.8M340.1 409.8V463.0M340.6 404.0V464.8M341.1 402.9V463.7M341.6 405.4V464.0M342.1 407.4V469.4M342.6 400.3V464.3M343.1 403.2V468.2M343.6 406.3V468.6M344.1 408.9V471.5M344.6 409.5V461.6M345.1 409.3V464.8M345.6 409.2V470.0M346.1 410.2V462.8M346.6 406.7V462.5M347.1 403.5V463.5M347.6 408.7V459.4M348.1 406.6V458.1M348.6 407.5V458.3M349.1 406.4V461.0M349.6 404.5V464.4M350.1 408.5V460.8M350.6 407.3V463.7M351.1 408.2V455.8M351.6 406.7V460.9M352.1 409.8V452.0M352.6 410.5V453.7M353.1 412.8V451.9M353.6 412.7V445.5M354.1 420.8V444.2M354.6 415.1V448.4M355.1 408.9V454.5M355.6 406.0V465.8M356.1 401.4V460.9M356.6 399.9V466.7M357.1 403.2V468.5M357.6 407.7V463.5M358.1 402.0V464.1M358.6 404.1V461.0M359.1 407.0V463.4M359.6 412.1V461.5M360.1 415.0V458.3M360.6 416.5V457.2M361.1 416.6V455.5M361.6 417.5V455.5M362.1 416.8V455.1M362.6 416.3V457.6M363.1 412.3V457.3M363.6 416.7V454.6M364.1 415.2V455.9M364.6 416.1V451.9M365.1 414.0V452.2M365.6 414.3V451.7M366.1 415.1V449.6M366.6 416.4V448.7M367.1 412.7V450.0M367.6 415.3V449.2" stroke="#1f77b4" stroke-width="1.2" fill="none"/>
<path d="M361.1 413.0V423.5M263.1 446.8V460.7M192.6 406.4V422.0M293.6 467.5V500.4M304.6 454.4V471.6M351.6 446.5V460.4M335.6 451.5V467.2M330.6 406.0V418.3M334.1 409.3V421.6M363.6 409.0V423.1M348.6 450.2V470.2M286.6 470.6V508.7M213.1 441.9V449.7M357.6 454.4V475.3M332.6 449.1V463.7M364.1 410.1V423.0M319.1 443.5V451.9M192.6 448.3V465.0M210.6 440.7V448.5M252.1 402.0V421.8M199.1 444.7V452.6M315.1 419.2V428.2M219.6 410.8V421.2M211.1 418.9V426.2M202.1 422.5V428.8M248.1 389.5V415.3M355.1 449.7V467.7M248.1 461.5V490.1M316.6 445.1V452.7M327.1 410.5V420.8M256.1 409.9V422.9M360.1 404.2V421.2M315.6 445.7V456.2M351.6 399.7V417.5M231.1 362.8V402.7M191.5 408.0V462.0M224.5 388.0V489.0M227.5 376.0V495.0M229.4 371.8V501.0M231.5 374.0V497.0M234.5 376.0V499.0M237.8 372.5V493.0M240.0 378.0V496.0M243.0 383.0V494.0M246.0 390.0V491.0M248.5 395.0V478.0M285.0 371.0V497.0M288.0 375.0V500.0M291.0 372.0V494.0M292.5 377.0V490.0M297.5 384.0V481.0M338.0 410.0V471.0M357.0 399.0V471.0M363.0 412.0V458.0M366.5 411.0V458.0" stroke="#1f77b4" stroke-width="1" fill="none"/>
<path d="M191.3 672.8V697.8M191.8 672.2V699.3M192.3 670.4V700.3M192.8 666.5V701.9M193.3 666.4V700.4M193.8 665.5V701.4M194.3 667.0V700.7M194.8 671.4V698.3M195.3 671.9V698.7M195.8 672.1V699.9M196.3 672.2V696.8M196.8 673.2V696.9M197.3 675.8V697.4M197.8 676.2V697.6M198.3 674.5V696.7M198.8 674.5V696.2M199.3 675.8V697.0M199.8 674.4V697.1M200.3 673.8V697.1M200.8 675.8V696.2M201.3 676.4V697.2M201.8 674.6V696.0M202.3 675.7V695.1M202.8 676.3V694.8M203.3 674.7V697.3M203.8 675.9V695.8M204.3 674.4V695.9M204.8 674.4V696.2M205.3 674.8V695.5M205.8 673.5V695.9M206.3 674.4V696.7M206.8 676.5V697.7M207.3 675.8V697.0M207.8 675.7V697.1M208.3 675.3V697.8M208.8 675.7V697.2M209.3 675.0V695.6M209.8 675.6V696.6M210.3 673.3V695.3M210.8 676.2V695.7M211.3 675.8V696.4M211.8 674.8V696.3M212.3 673.6V695.5M212.8 673.0V697.4M213.3 675.2V698.2M213.8 672.2V699.1M214.3 672.9V697.3M214.8 674.1V696.8M215.3 674.0V696.7M215.8 674.4V696.7M216.3 673.1V698.9M216.8 673.1V697.8M217.3 674.0V697.1M217.8 674.0V696.1M218.3 673.5V699.4M218.8 674.5V697.0M219.3 674.7V698.4M219.8 674.0V697.3M220.3 672.0V700.1M220.8 670.8V700.3M221.3 672.7V702.4M221.8 663.6V711.7M222.3 659.9V714.5M222.8 655.6V721.4M223.3 642.3V725.9M223.8 647.1V725.7M224.3 642.7V730.2M224.8 632.7V728.0M225.3 637.6V726.2M225.8 636.0V731.0M226.3 628.5V723.5M226.8 627.6V721.9M227.3 627.8V730.0M227.8 626.2V727.4M228.3 631.1V722.6M228.8 629.2V725.9M229.3 622.1V731.0M229.8 618.7V720.3M230.3 632.4V725.4M230.8 634.5V725.8M231.3 621.5V729.5M231.8 633.6V723.7M232.3 636.3V731.6M232.8 634.0V729.1M233.3 634.0V728.6M233.8 626.4V725.8M234.3 638.8V729.9M234.8 628.1V738.0M235.3 634.3V741.4M235.8 634.2V728.9M236.3 639.4V736.3M236.8 635.5V730.8M237.3 639.1V736.7M237.8 637.9V728.1M238.3 633.5V731.3M238.8 638.8V733.6M239.3 626.6V737.6M239.8 632.6V743.5M240.3 631.7V732.0M240.8 637.1V735.7M241.3 636.2V733.1M241.8 633.6V743.1M242.3 642.1V730.2M242.8 645.5V736.4M243.3 641.4V727.2M243.8 648.5V735.5M244.3 648.9V729.8M244.8 640.0V727.5M245.3 650.9V725.6M245.8 653.6V724.2M246.3 654.8V726.7M246.8 652.6V726.0M247.3 647.0V723.9M247.8 654.0V722.9M248.3 652.2V722.7M248.8 652.4V716.4M249.3 660.0V718.3M249.8 658.2V709.7M250.3 662.4V712.5M250.8 664.0V710.4M251.3 659.9V716.1M251.8 664.9V708.7M252.3 666.7V708.0M252.8 666.9V707.1M253.3 667.8V709.1M253.8 666.0V708.8M254.3 666.8V706.1M254.8 668.0V704.4M255.3 668.3V704.5M255.8 665.6V706.2M256.3 663.8V709.3M256.8 668.1V705.8M257.3 667.6V706.9M257.8 665.7V710.5M258.3 668.0V711.8M258.8 666.3V708.4M259.3 667.8V709.0M259.8 669.2V708.1M260.3 665.4V709.8M260.8 666.3V709.2M261.3 667.9V708.7M261.8 666.5V705.6M262.3 666.8V705.6M262.8 664.1V709.5M263.3 666.6V707.7M263.8 663.4V710.3M264.3 669.4V708.3M264.8 666.7V710.2M265.3 663.6V708.5M265.8 662.0V705.1M266.3 663.2V704.9M266.8 663.8V706.5M267.3 663.2V708.5M267.8 666.3V705.3M268.3 664.2V707.6M268.8 666.6V708.1M269.3 667.7V706.0M269.8 660.6V709.3M270.3 662.9V710.0M270.8 659.6V711.3M271.3 659.6V709.6M271.8 665.6V707.5M272.3 659.9V712.2M272.8 660.0V711.2M273.3 661.0V710.3M273.8 664.5V709.7M274.3 665.2V708.9M274.8 662.6V709.1M275.3 662.2V712.4M275.8 665.2V709.5M276.3 663.2V707.8M276.8 665.9V710.7M277.3 664.1V705.8M277.8 665.7V705.5M278.3 664.6V705.1M278.8 664.6V710.9M279.3 664.9V706.9M279.8 662.1V707.9M280.3 660.3V710.5M280.8 659.6V712.7M281.3 662.1V712.6M281.8 662.1V714.7M282.3 663.3V710.6M282.8 664.0V707.3M283.3 656.2V708.8M283.8 661.3V706.5M284.3 660.0V709.8M284.8 660.0V709.6M285.3 661.0V706.1M285.8 655.6V706.1M286.3 659.1V711.6M286.8 661.7V708.8M287.3 660.4V709.5M287.8 657.7V708.2M288.3 659.7V711.2M288.8 657.3V711.3M289.3 659.0V718.5M289.8 657.6V711.8M290.3 661.4V712.3M290.8 656.9V715.1M291.3 662.4V718.9M291.8 658.5V712.7M292.3 660.9V711.4M292.8 656.6V711.3M293.3 662.2V709.0M293.8 659.5V709.5M294.3 661.4V708.2M294.8 656.2V712.3M295.3 660.5V713.4M295.8 655.0V707.5M296.3 659.7V710.9M296.8 661.4V709.4M297.3 661.3V712.8M297.8 662.7V709.7M298.3 660.6V709.8M298.8 661.6V708.8M299.3 660.4V709.4M299.8 665.9V706.0M300.3 665.1V705.6M300.8 667.7V705.6M301.3 667.3V704.4M301.8 666.9V704.9M302.3 667.6V702.8M302.8 666.3V706.2M303.3 662.7V703.3M303.8 666.3V702.5M304.3 665.9V702.7M304.8 668.5V705.4M305.3 670.3V702.5M305.8 671.8V701.7M306.3 671.8V701.2M306.8 670.9V702.5M307.3 674.4V701.9M307.8 675.5V702.3M308.3 672.4V700.7M308.8 673.1V701.8M309.3 675.5V699.3M309.8 673.0V701.4M310.3 673.8V699.9M310.8 673.9V701.0M311.3 676.9V701.0M311.8 675.5V700.2M312.3 676.5V700.5M312.8 674.9V700.6M313.3 676.3V699.8M313.8 676.7V700.3M314.3 674.5V700.7M314.8 677.8V699.8M315.3 678.2V699.3M315.8 676.3V701.6M316.3 678.2V700.5M316.8 678.5V701.8M317.3 678.5V701.8M317.8 678.5V699.3M318.3 676.4V699.4M318.8 677.4V699.0M319.3 677.8V700.7M319.8 678.7V698.3M320.3 678.7V699.5M320.8 678.2V699.7M321.3 677.2V698.0M321.8 678.8V699.3M322.3 678.5V698.5M322.8 678.2V698.4M323.3 675.7V697.4M323.8 677.5V696.0M324.3 677.4V697.4M324.8 676.0V696.3M325.3 675.7V697.4M325.8 675.0V699.6M326.3 676.6V697.3M326.8 673.9V699.1M327.3 675.9V696.4M327.8 676.5V697.3M328.3 676.6V696.8M328.8 676.8V699.5M329.3 677.6V698.7M329.8 677.8V698.2M330.3 678.0V697.9M330.8 678.3V695.6M331.3 677.1V695.9M331.8 678.4V695.7M332.3 677.1V694.7M332.8 676.4V695.7M333.3 675.7V695.2M333.8 676.0V694.5M334.3 674.6V694.3M334.8 676.0V693.9M335.3 675.2V697.4M335.8 675.3V694.6M336.3 672.9V696.6M336.8 663.3V709.5M337.3 658.1V706.9M337.8 657.6V709.6M338.3 654.3V706.8M338.8 659.0V708.9M339.3 658.3V706.3M339.8 659.1V706.0M340.3 655.6V708.7M340.8 657.4V703.2M341.3 659.3V704.2M341.8 659.8V703.2M342.3 660.6V706.7M342.8 656.6V705.0M343.3 657.4V704.3M343.8 658.9V703.5M344.3 663.2V707.9M344.8 660.9V702.8M345.3 658.6V702.9M345.8 664.2V703.8M346.3 662.4V708.3M346.8 661.4V705.1M347.3 661.6V704.8M347.8 662.6V707.1M348.3 661.0V709.6M348.8 664.7V707.1M349.3 663.3V710.4M349.8 662.4V708.2M350.3 659.5V706.1M350.8 658.3V709.6M351.3 663.4V705.4M351.8 662.5V708.1M352.3 661.4V703.0M352.8 666.0V705.2M353.3 675.1V695.1M353.8 683.9V687.1M354.3 684.0V687.0M354.8 676.0V696.0M355.3 671.3V700.6M355.8 671.5V699.6M356.3 673.9V699.2M356.8 671.6V700.7M357.3 671.0V698.0M357.8 673.1V696.7M358.3 672.8V695.8M358.8 670.8V695.7M359.3 671.1V695.4M359.8 671.1V697.3M360.3 672.8V695.8M360.8 671.7V695.4M361.3 671.9V695.8M361.8 671.1V694.8M362.3 671.7V696.2M362.8 668.4V695.6M363.3 670.8V694.5M363.8 669.1V696.1M364.3 670.2V695.0M364.8 669.1V695.3M365.3 669.9V695.8M365.8 670.7V695.2M366.3 671.1V695.8M366.8 671.5V696.0M367.3 670.3V694.5M367.8 672.1V696.0" stroke="#1f77b4" stroke-width="1.2" fill="none"/>
<path d="M285.8 655.2V670.4M202.3 692.0V698.4M302.3 697.6V711.0M244.3 710.4V739.8M270.3 699.2V712.6M242.3 628.6V660.5M366.8 670.0V676.5M232.8 713.0V748.2M315.8 675.4V681.6M343.8 695.4V707.8M237.3 713.9V740.6M208.3 692.6V698.7M196.8 671.0V678.8M310.3 672.6V679.4M226.8 617.7V646.7M253.3 661.7V674.1M192.3 665.8V676.2M225.8 616.9V650.8M261.8 699.1V712.6M213.8 672.7V679.5M353.3 691.2V698.4M201.8 674.4V679.8M266.3 699.1V713.9M355.8 694.8V701.9M347.3 696.4V710.2M346.3 696.1V710.1M322.3 675.3V680.9M343.8 654.0V669.0M285.8 651.8V670.4M261.3 699.1V709.3M295.8 652.1V671.0M254.3 660.9V675.1M198.8 672.4V679.7M328.3 675.3V680.5M214.3 693.0V700.1M192.0 665.4V707.8M208.0 676.0V707.0M226.0 621.0V744.0M229.0 624.0V741.0M233.6 613.3V737.0M236.0 618.0V744.0M239.5 619.6V735.0M242.5 630.0V737.0M245.0 642.5V726.0M251.0 656.0V720.0M270.0 650.8V711.0M288.9 641.0V721.0M292.0 648.0V723.0M337.5 660.0V720.0M355.6 663.3V709.0" stroke="#1f77b4" stroke-width="1" fill="none"/>
<path d="M1621.5 541.1V565.2M1622.0 537.1V569.4M1622.5 534.4V574.2M1623.0 535.0V570.4M1623.5 536.4V569.2M1624.0 538.1V570.9M1624.5 539.7V572.1M1625.0 536.8V568.6M1625.5 540.1V569.1M1626.0 538.9V570.7M1626.5 540.9V567.7M1627.0 541.2V565.8M1627.5 541.2V565.4M1628.0 541.5V564.4M1628.5 541.3V566.5M1629.0 541.4V563.7M1629.5 542.1V565.0M1630.0 542.0V565.6M1630.5 541.9V563.5M1631.0 543.2V562.6M1631.5 542.2V563.1M1632.0 542.8V562.0M1632.5 543.8V563.0M1633.0 544.0V561.7M1633.5 542.4V560.7M1634.0 544.1V561.0M1634.5 544.8V561.4M1635.0 544.0V562.7M1635.5 544.0V560.7M1636.0 544.1V561.2M1636.5 545.9V560.3M1637.0 546.5V562.5M1637.5 544.3V563.2M1638.0 545.7V563.3M1638.5 544.4V562.6M1639.0 545.2V562.3M1639.5 545.3V563.3M1640.0 544.6V564.7M1640.5 544.4V566.5M1641.0 543.3V563.6M1641.5 544.4V564.0M1642.0 542.5V564.6M1642.5 544.5V567.0M1643.0 543.3V566.5M1643.5 543.7V564.9M1644.0 543.4V565.8M1644.5 544.0V565.0M1645.0 539.9V568.0M1645.5 541.3V567.5M1646.0 540.3V566.6M1646.5 540.8V567.6M1647.0 540.9V568.4M1647.5 539.7V570.0M1648.0 536.9V571.3M1648.5 537.0V569.3M1649.0 537.1V573.1M1649.5 534.0V572.7M1650.0 532.6V571.6M1650.5 532.9V572.6M1651.0 527.1V574.1M1651.5 530.2V579.0M1652.0 522.4V576.3M1652.5 521.6V574.2M1653.0 521.9V574.5M1653.5 516.2V577.3M1654.0 517.0V584.2M1654.5 517.6V579.3M1655.0 508.7V579.3M1655.5 511.2V583.2M1656.0 510.3V581.8M1656.5 510.1V589.5M1657.0 511.7V583.5M1657.5 511.0V582.9M1658.0 504.9V589.8M1658.5 508.7V586.7M1659.0 503.7V586.7M1659.5 499.9V594.8M1660.0 508.1V597.6M1660.5 506.8V594.2M1661.0 507.7V595.4M1661.5 505.8V599.4M1662.0 506.5V602.2M1662.5 508.6V607.3M1663.0 509.9V598.4M1663.5 514.6V600.5M1664.0 504.4V597.7M1664.5 507.6V602.5M1665.0 510.6V600.4M1665.5 515.5V602.6M1666.0 509.3V599.5M1666.5 512.2V609.5M1667.0 511.2V602.2M1667.5 505.4V607.2M1668.0 512.6V601.1M1668.5 502.5V606.1M1669.0 509.9V607.1M1669.5 516.6V597.0M1670.0 513.7V603.8M1670.5 513.6V602.6M1671.0 506.6V607.1M1671.5 512.6V595.9M1672.0 511.2V595.2M1672.5 511.8V589.8M1673.0 511.7V595.7M1673.5 514.4V586.7M1674.0 515.8V585.6M1674.5 516.3V594.2M1675.0 513.5V588.7M1675.5 515.8V597.1M1676.0 518.4V592.0M1676.5 520.2V593.1M1677.0 520.3V591.4M1677.5 516.3V589.2M1678.0 515.4V584.5M1678.5 519.5V587.4M1679.0 520.1V580.7M1679.5 523.4V588.1M1680.0 521.9V581.0M1680.5 526.3V581.5M1681.0 523.6V585.1M1681.5 517.8V585.8M1682.0 526.0V583.5M1682.5 525.9V580.2M1683.0 527.9V580.6M1683.5 527.1V583.9M1684.0 531.5V581.6M1684.5 532.4V578.1M1685.0 532.0V583.1M1685.5 530.4V578.9M1686.0 529.4V576.3M1686.5 532.3V577.2M1687.0 532.9V573.5M1687.5 532.2V574.0M1688.0 534.2V573.5M1688.5 533.8V574.6M1689.0 532.0V573.8M1689.5 534.6V573.8M1690.0 535.0V572.4M1690.5 532.9V570.6M1691.0 536.1V570.2M1691.5 535.8V572.4M1692.0 534.3V572.9M1692.5 536.3V571.4M1693.0 535.6V574.5M1693.5 537.0V573.6M1694.0 537.0V570.4M1694.5 535.5V571.0M1695.0 534.0V575.1M1695.5 536.0V571.6M1696.0 536.9V572.1M1696.5 537.2V570.6M1697.0 536.4V575.5M1697.5 537.0V575.0M1698.0 532.7V572.6M1698.5 534.9V571.9M1699.0 532.4V575.9M1699.5 534.5V575.2M1700.0 528.5V574.6M1700.5 530.0V574.1M1701.0 530.6V575.4M1701.5 528.7V574.2M1702.0 530.2V578.9M1702.5 527.4V574.6M1703.0 531.2V578.9M1703.5 525.1V575.4M1704.0 526.6V575.9M1704.5 528.2V576.9M1705.0 528.4V578.9M1705.5 525.7V582.4M1706.0 528.2V578.1M1706.5 526.3V583.5M1707.0 525.4V579.2M1707.5 523.5V580.7M1708.0 524.0V582.2M1708.5 521.3V582.3M1709.0 523.0V587.4M1709.5 522.4V586.4M1710.0 520.6V588.8M1710.5 521.4V588.5M1711.0 520.0V586.3M1711.5 518.0V581.5M1712.0 522.8V584.8M1712.5 516.3V586.2M1713.0 517.9V584.2M1713.5 522.0V584.5M1714.0 519.2V590.4M1714.5 520.2V583.2M1715.0 521.8V587.5M1715.5 525.4V589.2M1716.0 523.2V585.9M1716.5 524.4V582.6M1717.0 524.0V587.6M1717.5 516.0V583.0M1718.0 522.0V584.6M1718.5 518.3V583.2M1719.0 520.6V583.5M1719.5 521.2V582.2M1720.0 524.9V586.2M1720.5 525.0V589.9M1721.0 522.4V590.3M1721.5 521.8V586.0M1722.0 522.0V582.9M1722.5 518.0V587.1M1723.0 519.5V585.0M1723.5 517.0V586.0M1724.0 524.6V590.1M1724.5 526.1V582.0M1725.0 525.0V583.6M1725.5 524.7V580.9M1726.0 522.7V586.0M1726.5 524.9V583.1M1727.0 521.6V581.0M1727.5 519.9V579.5M1728.0 528.4V583.9M1728.5 526.7V579.7M1729.0 526.0V579.2M1729.5 521.6V586.2M1730.0 529.0V579.3M1730.5 523.5V582.5M1731.0 528.8V580.4M1731.5 530.8V578.5M1732.0 529.3V582.9M1732.5 528.5V577.3M1733.0 533.7V581.9M1733.5 534.0V578.6M1734.0 534.9V577.8M1734.5 528.9V577.4M1735.0 534.9V576.7M1735.5 535.0V580.7M1736.0 534.7V577.6M1736.5 535.9V574.5M1737.0 535.0V572.2M1737.5 535.0V572.2M1738.0 535.8V572.4M1738.5 535.1V575.4M1739.0 532.9V572.0M1739.5 532.8V573.2M1740.0 534.3V568.9M1740.5 537.2V570.2M1741.0 537.3V570.9M1741.5 538.0V567.9M1742.0 537.3V571.1M1742.5 537.4V567.1M1743.0 538.2V566.5M1743.5 538.2V571.2M1744.0 536.2V568.9M1744.5 538.3V568.0M1745.0 537.5V567.6M1745.5 538.2V567.0M1746.0 540.8V563.9M1746.5 541.2V566.8M1747.0 540.7V563.3M1747.5 540.5V563.1M1748.0 540.3V562.6M1748.5 538.1V564.8M1749.0 539.5V562.7M1749.5 540.4V564.5M1750.0 539.9V562.4M1750.5 540.4V565.4M1751.0 537.3V564.3M1751.5 539.2V564.7M1752.0 539.4V564.6M1752.5 538.7V566.8M1753.0 536.4V566.0M1753.5 537.3V565.0M1754.0 538.0V565.9M1754.5 538.1V566.0M1755.0 538.9V566.6M1755.5 539.2V564.9M1756.0 538.2V566.3M1756.5 538.2V567.3M1757.0 539.4V566.9M1757.5 536.7V567.1M1758.0 538.9V565.7M1758.5 537.6V567.6M1759.0 538.5V565.5M1759.5 537.9V565.3M1760.0 540.6V565.8M1760.5 540.6V564.6M1761.0 538.5V563.4M1761.5 540.0V564.1M1762.0 541.3V565.4M1762.5 539.6V564.3M1763.0 540.6V564.0M1763.5 541.8V562.9M1764.0 539.8V564.0M1764.5 540.0V563.2M1765.0 539.8V564.1M1765.5 541.3V564.7M1766.0 541.6V565.1M1766.5 537.7V567.4M1767.0 534.5V572.3M1767.5 535.4V579.1M1768.0 533.9V576.9M1768.5 532.1V575.4M1769.0 533.3V573.4M1769.5 533.6V575.6M1770.0 533.1V574.3M1770.5 532.3V576.6M1771.0 531.9V576.5M1771.5 533.1V578.5M1772.0 529.1V579.1M1772.5 532.1V577.1M1773.0 528.5V576.3M1773.5 527.6V577.3M1774.0 530.3V578.8M1774.5 530.0V580.8M1775.0 530.0V582.5M1775.5 525.4V581.9M1776.0 524.6V577.3M1776.5 527.5V576.7M1777.0 528.7V578.3M1777.5 528.8V575.9M1778.0 529.0V575.6M1778.5 531.7V574.6M1779.0 533.3V577.2M1779.5 533.4V575.5M1780.0 535.1V571.2M1780.5 534.6V572.0M1781.0 533.1V573.4M1781.5 535.4V571.8M1782.0 532.8V570.3M1782.5 541.3V565.1M1783.0 547.7V555.7M1783.5 540.6V566.9M1784.0 533.7V577.5M1784.5 532.7V573.0M1785.0 533.9V570.8M1785.5 531.2V569.2M1786.0 531.1V570.8M1786.5 535.7V568.4M1787.0 536.7V568.1M1787.5 533.6V568.0M1788.0 532.9V567.8M1788.5 535.0V568.1M1789.0 537.3V564.4M1789.5 537.1V566.4M1790.0 534.4V564.6M1790.5 537.3V564.8M1791.0 537.4V563.7M1791.5 538.7V564.5M1792.0 538.7V563.6M1792.5 537.4V564.8M1793.0 537.9V566.4M1793.5 538.9V563.4M1794.0 540.0V563.6M1794.5 539.6V563.7M1795.0 537.4V566.4M1795.5 538.6V565.3M1796.0 539.4V565.5M1796.5 542.8V563.5" stroke="#1f77b4" stroke-width="1.2" fill="none"/>
<path d="M1768.0 522.9V540.4M1751.5 536.8V545.2M1628.0 560.0V567.6M1773.0 566.3V578.2M1627.5 560.4V568.0M1684.5 527.3V540.0M1685.5 525.5V540.3M1673.0 504.2V531.2M1791.0 534.5V543.1M1628.0 540.4V546.3M1684.5 566.8V581.8M1792.0 559.9V567.2M1627.5 538.6V546.1M1628.5 559.5V566.2M1624.5 536.5V544.8M1685.5 528.0V540.3M1796.0 560.0V566.7M1695.5 564.4V576.4M1757.0 536.5V545.0M1791.0 559.9V568.3M1660.5 579.4V604.4M1746.0 538.2V545.2M1672.0 508.0V530.9M1643.0 560.1V567.6M1679.5 571.5V591.5M1622.5 531.5V544.0M1698.5 531.3V541.5M1691.5 563.2V576.1M1749.0 559.2V565.7M1719.0 514.5V536.6M1768.0 567.9V582.9M1680.0 516.3V536.2M1685.0 566.5V582.6M1740.0 563.9V574.1M1643.5 540.5V548.1M1622.0 534.9V575.8M1660.0 491.8V605.0M1662.0 497.0V620.0M1665.0 500.0V612.0M1669.2 496.0V613.0M1672.0 505.0V606.0M1675.0 504.3V597.0M1678.0 510.0V592.0M1718.9 495.3V595.0M1716.0 512.0V605.0M1721.0 508.0V590.0M1727.2 509.0V590.0M1767.5 531.0V581.4M1784.0 532.8V574.0" stroke="#1f77b4" stroke-width="1" fill="none"/>
<g style="opacity:0.999">
<text x="233.7" y="360.9" font-size="33" letter-spacing="-0.36">Tone 0</text>
<text x="233.7" y="600.9" font-size="33" letter-spacing="-0.56">Tone 1</text>
<text x="491.4" y="548.75" font-size="36.5" letter-spacing="-1.264">Music2Latent</text>
<text x="537.9" y="596.7" font-size="36.5" letter-spacing="-2.233">Encoder</text>
<text x="1284.9" y="548.75" font-size="36.5" letter-spacing="-1.336">Music2Latent</text>
<text x="1330.1" y="596.7" font-size="36.5" letter-spacing="-1.533">Decoder</text>
<text x="921.4" y="561.7" font-size="26.7" letter-spacing="-0.775">SLERP</text>
<text x="1618.6" y="635.9" font-size="33.5" letter-spacing="-1.458">Interpolation</text>
<text x="1671.1" y="679.8" font-size="33" letter-spacing="-0.333">Tone</text>
</g>
</svg>
</body></html>
